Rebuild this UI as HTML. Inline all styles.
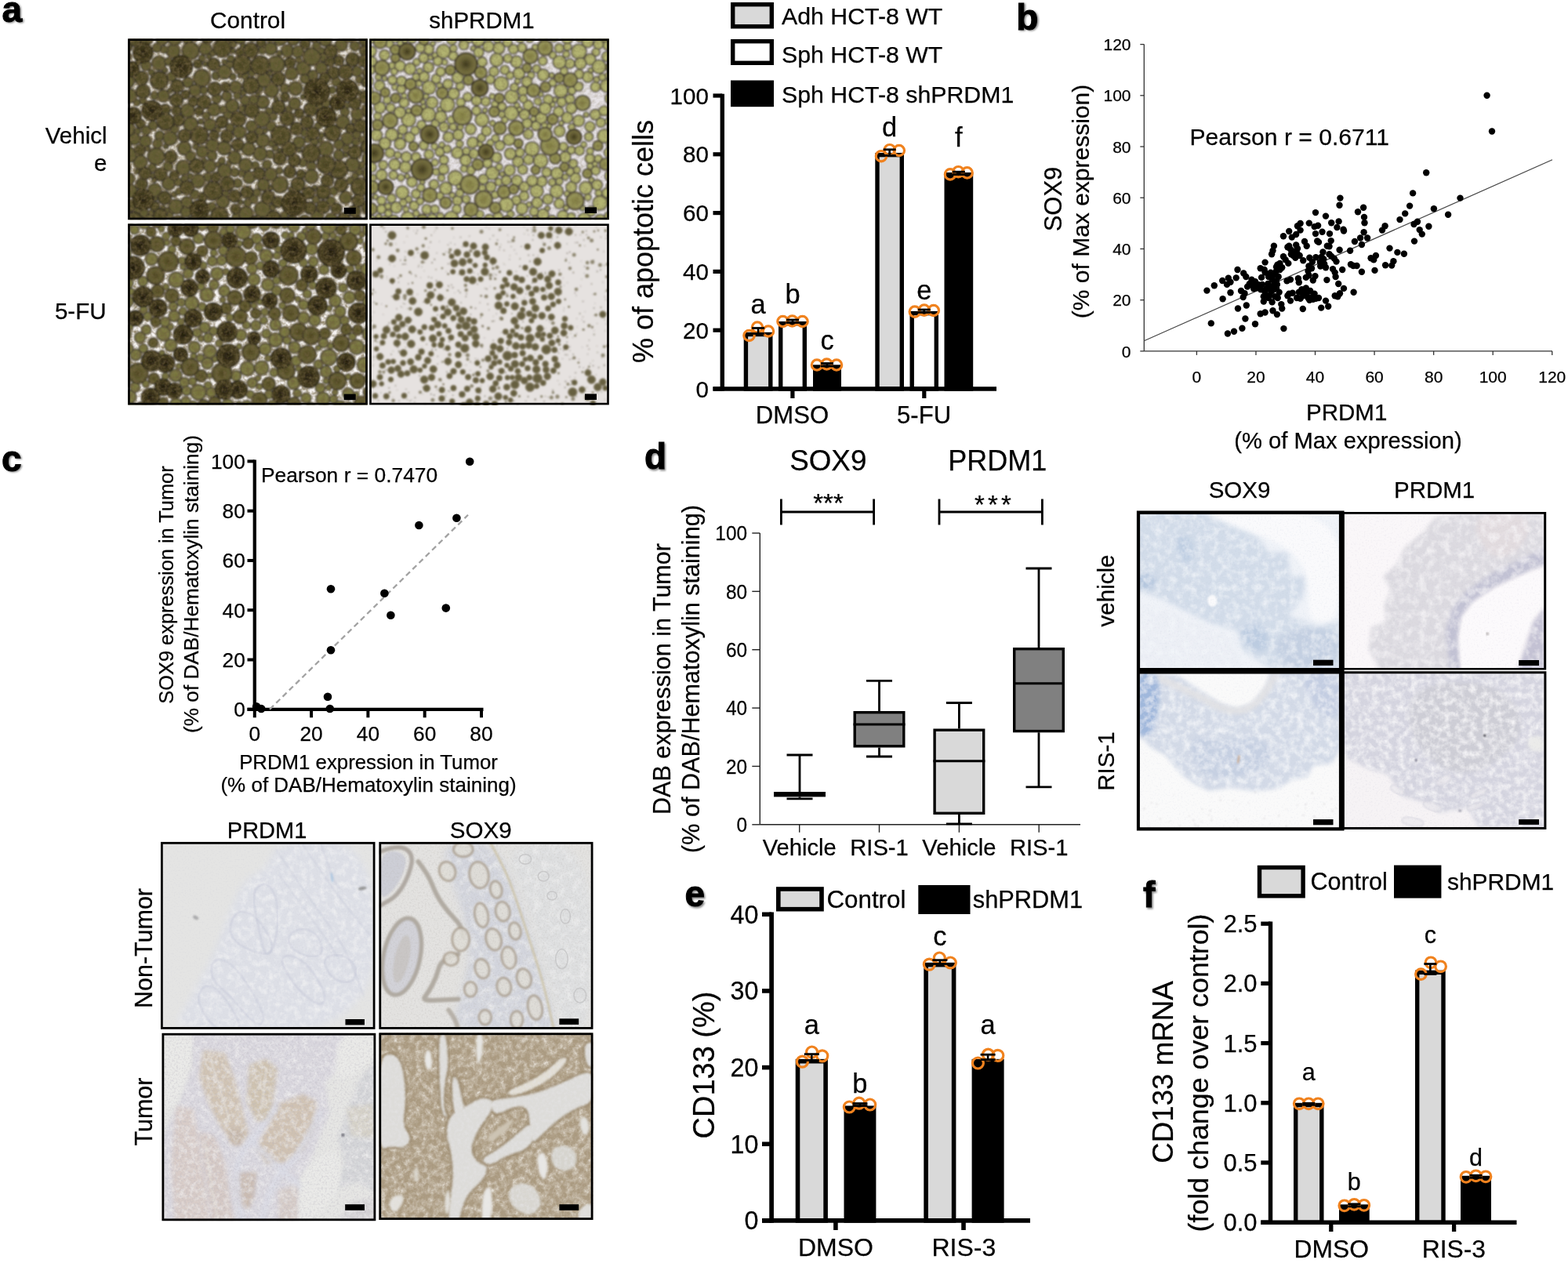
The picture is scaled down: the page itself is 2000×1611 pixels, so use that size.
<!DOCTYPE html>
<html lang="en"><head><meta charset="utf-8"><title>Figure</title>
<style>
html,body{margin:0;padding:0;background:#fff;}
body{width:2000px;height:1611px;overflow:hidden;}
svg{display:block;}
svg text{font-family:"Liberation Sans", sans-serif;stroke:#000;stroke-width:0.25px;}
</style></head><body>
<svg width="2000" height="1611" viewBox="0 0 2000 1611">
<defs>
<filter id="lblblur" x="-20%" y="-20%" width="140%" height="140%"><feGaussianBlur stdDeviation="0.8"/></filter>
</defs>
<rect x="0" y="0" width="2000" height="1611" fill="#fff"/>

<defs><filter id="soft" x="-2%" y="-2%" width="104%" height="104%"><feGaussianBlur stdDeviation="0.9"/></filter><filter id="grainA" x="0" y="0" width="100%" height="100%"><feTurbulence type="fractalNoise" baseFrequency="0.2" numOctaves="2" seed="5" result="n"/><feColorMatrix in="n" type="matrix" values="0 0 0 0 0.16  0 0 0 0 0.12  0 0 0 0 0.05  2.2 0 0 0 -0.85"/></filter><radialGradient id="a1g0" cx="0.5" cy="0.5" r="0.5"><stop offset="0" stop-color="#5c572e"/><stop offset="0.7" stop-color="#645f35"/><stop offset="1" stop-color="#4e482a"/></radialGradient><radialGradient id="a1g1" cx="0.5" cy="0.5" r="0.5"><stop offset="0" stop-color="#464021"/><stop offset="0.65" stop-color="#58522c"/><stop offset="1" stop-color="#484226"/></radialGradient><radialGradient id="a1g2" cx="0.5" cy="0.5" r="0.5"><stop offset="0" stop-color="#282212"/><stop offset="0.55" stop-color="#3e371c"/><stop offset="1" stop-color="#4c4426"/></radialGradient><clipPath id="a1clip"><rect x="163.20" y="49.40" width="305.60" height="230.80"/></clipPath><radialGradient id="a2g0" cx="0.5" cy="0.5" r="0.5"><stop offset="0" stop-color="#b4b572"/><stop offset="0.75" stop-color="#aeaf6e"/><stop offset="1" stop-color="#908f60"/></radialGradient><radialGradient id="a2g1" cx="0.5" cy="0.5" r="0.5"><stop offset="0" stop-color="#807c42"/><stop offset="0.7" stop-color="#969458"/><stop offset="1" stop-color="#7e7a4e"/></radialGradient><radialGradient id="a2g2" cx="0.5" cy="0.5" r="0.5"><stop offset="0" stop-color="#3e381e"/><stop offset="0.6" stop-color="#6c6638"/><stop offset="1" stop-color="#787244"/></radialGradient><clipPath id="a2clip"><rect x="471.20" y="49.40" width="305.60" height="230.80"/></clipPath><radialGradient id="a3g0" cx="0.5" cy="0.5" r="0.5"><stop offset="0" stop-color="#74703a"/><stop offset="0.7" stop-color="#807e48"/><stop offset="1" stop-color="#625e38"/></radialGradient><radialGradient id="a3g1" cx="0.5" cy="0.5" r="0.5"><stop offset="0" stop-color="#4e4622"/><stop offset="0.65" stop-color="#645e32"/><stop offset="1" stop-color="#544e2c"/></radialGradient><radialGradient id="a3g2" cx="0.5" cy="0.5" r="0.5"><stop offset="0" stop-color="#201b0d"/><stop offset="0.55" stop-color="#3a321a"/><stop offset="1" stop-color="#504828"/></radialGradient><clipPath id="a3clip"><rect x="163.20" y="285.40" width="305.60" height="231.00"/></clipPath><radialGradient id="a4g0" cx="0.5" cy="0.5" r="0.5"><stop offset="0" stop-color="#686140"/><stop offset="0.6" stop-color="#645d3e"/><stop offset="1" stop-color="#847c62"/></radialGradient><clipPath id="a4clip"><rect x="471.20" y="285.40" width="305.60" height="231.00"/></clipPath><clipPath id="c1clip"><rect x="205.00" y="1073.90" width="273.50" height="238.90"/></clipPath><filter id="c1t" filterUnits="userSpaceOnUse" x="195" y="1064" width="294" height="259"><feGaussianBlur in="SourceGraphic" stdDeviation="4" result="b"/><feTurbulence type="fractalNoise" baseFrequency="0.12" numOctaves="3" seed="3" result="n"/><feColorMatrix in="n" type="matrix" values="0 0 0 0 0.906  0 0 0 0 0.906  0 0 0 0 0.910  1.5 0 0 0 -0.62" result="na"/><feComposite in="na" in2="b" operator="in" result="nm"/><feMerge><feMergeNode in="b"/><feMergeNode in="nm"/></feMerge></filter><filter id="c1n" x="0" y="0" width="100%" height="100%"><feTurbulence type="fractalNoise" baseFrequency="0.5" numOctaves="2" seed="8" result="n"/><feColorMatrix in="n" type="matrix" values="0 0 0 0 0.588  0 0 0 0 0.588  0 0 0 0 0.667  1.2 0 0 0 -0.62"/></filter><clipPath id="c2clip"><rect x="483.40" y="1073.90" width="273.10" height="238.90"/></clipPath><filter id="c2t" filterUnits="userSpaceOnUse" x="473" y="1064" width="293" height="259"><feGaussianBlur in="SourceGraphic" stdDeviation="4" result="b"/><feTurbulence type="fractalNoise" baseFrequency="0.1" numOctaves="3" seed="5" result="n"/><feColorMatrix in="n" type="matrix" values="0 0 0 0 0.886  0 0 0 0 0.886  0 0 0 0 0.886  1.4 0 0 0 -0.6" result="na"/><feComposite in="na" in2="b" operator="in" result="nm"/><feMerge><feMergeNode in="b"/><feMergeNode in="nm"/></feMerge></filter><filter id="c2n" x="0" y="0" width="100%" height="100%"><feTurbulence type="fractalNoise" baseFrequency="0.45" numOctaves="2" seed="12" result="n"/><feColorMatrix in="n" type="matrix" values="0 0 0 0 0.471  0 0 0 0 0.451  0 0 0 0 0.431  1.3 0 0 0 -0.62"/></filter><filter id="c2b" x="-20%" y="-20%" width="140%" height="140%"><feGaussianBlur stdDeviation="1.1"/></filter><filter id="c2b2" x="-20%" y="-20%" width="140%" height="140%"><feGaussianBlur stdDeviation="2.5"/></filter><clipPath id="c3clip"><rect x="206.50" y="1317.80" width="272.80" height="239.40"/></clipPath><filter id="c3t" filterUnits="userSpaceOnUse" x="196" y="1308" width="293" height="259"><feGaussianBlur in="SourceGraphic" stdDeviation="2.6" result="b"/><feTurbulence type="fractalNoise" baseFrequency="0.14" numOctaves="3" seed="7" result="n"/><feColorMatrix in="n" type="matrix" values="0 0 0 0 0.894  0 0 0 0 0.886  0 0 0 0 0.886  1.5 0 0 0 -0.62" result="na"/><feComposite in="na" in2="b" operator="in" result="nm"/><feMerge><feMergeNode in="b"/><feMergeNode in="nm"/></feMerge></filter><filter id="c3n" x="0" y="0" width="100%" height="100%"><feTurbulence type="fractalNoise" baseFrequency="0.4" numOctaves="2" seed="21" result="n"/><feColorMatrix in="n" type="matrix" values="0 0 0 0 0.471  0 0 0 0 0.451  0 0 0 0 0.510  1.8 0 0 0 -0.8"/></filter><clipPath id="c4clip"><rect x="483.40" y="1317.40" width="273.10" height="238.60"/></clipPath><filter id="c4m" x="0" y="0" width="100%" height="100%"><feTurbulence type="fractalNoise" baseFrequency="0.13" numOctaves="3" seed="9" result="n"/><feColorMatrix in="n" type="matrix" values="0 0 0 0 0.808  0 0 0 0 0.769  0 0 0 0 0.706  1.9 0 0 0 -0.72"/></filter><filter id="c4n" x="0" y="0" width="100%" height="100%"><feTurbulence type="fractalNoise" baseFrequency="0.33" numOctaves="2" seed="33" result="n"/><feColorMatrix in="n" type="matrix" values="0 0 0 0 0.455  0 0 0 0 0.376  0 0 0 0 0.275  2.8 0 0 0 -1.15"/></filter><filter id="c4s" filterUnits="userSpaceOnUse" x="473" y="1307" width="293" height="259"><feGaussianBlur in="SourceGraphic" stdDeviation="1.6" result="b"/><feTurbulence type="fractalNoise" baseFrequency="0.25" numOctaves="2" seed="4" result="n"/><feColorMatrix in="n" type="matrix" values="0 0 0 0 0.784  0 0 0 0 0.776  0 0 0 0 0.784  1.2 0 0 0 -0.45" result="na"/><feComposite in="na" in2="b" operator="in" result="nm"/><feMerge><feMergeNode in="b"/><feMergeNode in="nm"/></feMerge></filter><filter id="c4b" x="-20%" y="-20%" width="140%" height="140%"><feGaussianBlur stdDeviation="1.6"/></filter><clipPath id="d1clip"><rect x="1452.00" y="653.80" width="258.00" height="200.20"/></clipPath><filter id="d1t" filterUnits="userSpaceOnUse" x="1442" y="644" width="278" height="220"><feGaussianBlur in="SourceGraphic" stdDeviation="3" result="b"/><feTurbulence type="fractalNoise" baseFrequency="0.11" numOctaves="3" seed="13" result="n"/><feColorMatrix in="n" type="matrix" values="0 0 0 0 0.910  0 0 0 0 0.933  0 0 0 0 0.965  1.5 0 0 0 -0.6" result="na"/><feComposite in="na" in2="b" operator="in" result="nm"/><feMerge><feMergeNode in="b"/><feMergeNode in="nm"/></feMerge></filter><filter id="d1n" x="0" y="0" width="100%" height="100%"><feTurbulence type="fractalNoise" baseFrequency="0.45" numOctaves="2" seed="41" result="n"/><feColorMatrix in="n" type="matrix" values="0 0 0 0 0.471  0 0 0 0 0.529  0 0 0 0 0.647  1.1 0 0 0 -0.58"/></filter><clipPath id="d2clip"><rect x="1712.00" y="654.00" width="259.00" height="199.50"/></clipPath><filter id="d2t" filterUnits="userSpaceOnUse" x="1702" y="644" width="279" height="220"><feGaussianBlur in="SourceGraphic" stdDeviation="2.5" result="b"/><feTurbulence type="fractalNoise" baseFrequency="0.1" numOctaves="3" seed="17" result="n"/><feColorMatrix in="n" type="matrix" values="0 0 0 0 0.957  0 0 0 0 0.941  0 0 0 0 0.957  1.5 0 0 0 -0.6" result="na"/><feComposite in="na" in2="b" operator="in" result="nm"/><feMerge><feMergeNode in="b"/><feMergeNode in="nm"/></feMerge></filter><filter id="d2n" x="0" y="0" width="100%" height="100%"><feTurbulence type="fractalNoise" baseFrequency="0.45" numOctaves="2" seed="43" result="n"/><feColorMatrix in="n" type="matrix" values="0 0 0 0 0.431  0 0 0 0 0.412  0 0 0 0 0.549  1.1 0 0 0 -0.58"/></filter><clipPath id="d3clip"><rect x="1452.00" y="857.00" width="258.00" height="200.00"/></clipPath><filter id="d3t" filterUnits="userSpaceOnUse" x="1442" y="847" width="278" height="220"><feGaussianBlur in="SourceGraphic" stdDeviation="2.5" result="b"/><feTurbulence type="fractalNoise" baseFrequency="0.11" numOctaves="3" seed="19" result="n"/><feColorMatrix in="n" type="matrix" values="0 0 0 0 0.941  0 0 0 0 0.953  0 0 0 0 0.973  1.6 0 0 0 -0.6" result="na"/><feComposite in="na" in2="b" operator="in" result="nm"/><feMerge><feMergeNode in="b"/><feMergeNode in="nm"/></feMerge></filter><filter id="d3n" x="0" y="0" width="100%" height="100%"><feTurbulence type="fractalNoise" baseFrequency="0.45" numOctaves="2" seed="47" result="n"/><feColorMatrix in="n" type="matrix" values="0 0 0 0 0.471  0 0 0 0 0.510  0 0 0 0 0.647  1.1 0 0 0 -0.58"/></filter><clipPath id="d4clip"><rect x="1712.00" y="857.50" width="259.00" height="199.50"/></clipPath><filter id="d4t" filterUnits="userSpaceOnUse" x="1702" y="848" width="279" height="220"><feGaussianBlur in="SourceGraphic" stdDeviation="2.5" result="b"/><feTurbulence type="fractalNoise" baseFrequency="0.12" numOctaves="3" seed="23" result="n"/><feColorMatrix in="n" type="matrix" values="0 0 0 0 0.949  0 0 0 0 0.941  0 0 0 0 0.957  1.7 0 0 0 -0.62" result="na"/><feComposite in="na" in2="b" operator="in" result="nm"/><feMerge><feMergeNode in="b"/><feMergeNode in="nm"/></feMerge></filter><filter id="d4n" x="0" y="0" width="100%" height="100%"><feTurbulence type="fractalNoise" baseFrequency="0.45" numOctaves="2" seed="53" result="n"/><feColorMatrix in="n" type="matrix" values="0 0 0 0 0.431  0 0 0 0 0.431  0 0 0 0 0.549  1.1 0 0 0 -0.58"/></filter></defs>
<style>.a1c0{fill:url(#a1g0);stroke:#3e372c;stroke-width:1.5}.a1c1{fill:url(#a1g1);stroke:#383126;stroke-width:1.6}.a1c2{fill:url(#a1g2);stroke:#2c2518;stroke-width:1.7}.a2c0{fill:url(#a2g0);stroke:#4a433c;stroke-width:1.45}.a2c1{fill:url(#a2g1);stroke:#443d30;stroke-width:1.7}.a2c2{fill:url(#a2g2);stroke:#342e20;stroke-width:1.8}.a3c0{fill:url(#a3g0);stroke:#443d30;stroke-width:1.5}.a3c1{fill:url(#a3g1);stroke:#3a3324;stroke-width:1.6}.a3c2{fill:url(#a3g2);stroke:#282214;stroke-width:1.8}.a4c{fill:url(#a4g0);stroke:#6e664c;stroke-width:0.6}.a4s{fill:#7c745a;opacity:.8}.a4t{fill:#6a6250;opacity:.55}</style>
<g clip-path="url(#a1clip)"><rect x="163.2" y="49.4" width="305.6" height="230.79999999999998" fill="#e4dfd6"/><g filter="url(#soft)"><circle class="a1c0" cx="309.1" cy="138.8" r="4.2"/><circle class="a1c0" cx="392.1" cy="177.7" r="4.1"/><circle class="a1c0" cx="200.4" cy="60.9" r="5.7"/><circle class="a1c0" cx="346.4" cy="115.2" r="9.1"/><circle class="a1c0" cx="198.6" cy="252.9" r="2.8"/><circle class="a1c0" cx="166.8" cy="243.7" r="8.4"/><circle class="a1c0" cx="301.6" cy="277.6" r="5.7"/><circle class="a1c0" cx="288.0" cy="247.2" r="4.1"/><circle class="a1c0" cx="323.1" cy="254.0" r="5.5"/><circle class="a1c0" cx="190.4" cy="282.0" r="8.8"/><circle class="a1c0" cx="344.2" cy="196.7" r="5.3"/><circle class="a1c0" cx="336.0" cy="235.7" r="7.9"/><circle class="a1c0" cx="182.4" cy="128.4" r="4.2"/><circle class="a1c0" cx="203.5" cy="173.0" r="6.0"/><circle class="a1c0" cx="224.5" cy="263.4" r="9.5"/><circle class="a1c0" cx="199.2" cy="199.5" r="11.0"/><circle class="a1c0" cx="470.8" cy="221.7" r="8.4"/><circle class="a1c0" cx="197.4" cy="242.6" r="8.7"/><circle class="a1c0" cx="222.1" cy="248.1" r="3.4"/><circle class="a1c0" cx="213.1" cy="268.2" r="3.4"/><circle class="a1c0" cx="443.2" cy="176.8" r="8.0"/><circle class="a1c0" cx="183.1" cy="271.3" r="5.9"/><circle class="a1c0" cx="237.1" cy="270.6" r="6.8"/><circle class="a1c0" cx="458.1" cy="219.3" r="4.6"/><circle class="a1c0" cx="174.6" cy="130.9" r="4.1"/><circle class="a1c0" cx="290.8" cy="146.5" r="5.6"/><circle class="a1c0" cx="470.0" cy="153.3" r="3.9"/><circle class="a1c0" cx="452.9" cy="224.6" r="4.1"/><circle class="a1c0" cx="192.8" cy="271.3" r="3.3"/><circle class="a1c0" cx="327.6" cy="245.8" r="5.0"/><circle class="a1c0" cx="315.7" cy="259.0" r="4.9"/><circle class="a1c0" cx="352.3" cy="126.5" r="3.0"/><circle class="a1c0" cx="194.3" cy="224.2" r="3.1"/><circle class="a1c0" cx="186.6" cy="166.5" r="5.7"/><circle class="a1c0" cx="257.5" cy="99.5" r="10.9"/><circle class="a1c0" cx="306.7" cy="257.7" r="3.0"/><circle class="a1c0" cx="440.9" cy="197.4" r="3.1"/><circle class="a1c0" cx="320.8" cy="161.2" r="7.2"/><circle class="a1c0" cx="235.2" cy="189.1" r="8.7"/><circle class="a1c0" cx="239.7" cy="49.8" r="6.6"/><circle class="a1c0" cx="284.2" cy="257.4" r="8.3"/><circle class="a1c0" cx="175.1" cy="218.7" r="3.1"/><circle class="a1c0" cx="215.0" cy="234.0" r="8.4"/><circle class="a1c0" cx="344.2" cy="93.6" r="3.0"/><circle class="a1c0" cx="402.9" cy="254.5" r="4.6"/><circle class="a1c0" cx="386.8" cy="87.0" r="9.2"/><circle class="a1c0" cx="256.3" cy="155.1" r="3.3"/><circle class="a1c0" cx="221.0" cy="65.0" r="8.8"/><circle class="a1c0" cx="165.0" cy="122.1" r="9.3"/><circle class="a1c0" cx="343.1" cy="142.2" r="4.7"/><circle class="a1c0" cx="211.6" cy="186.5" r="3.1"/><circle class="a1c0" cx="273.1" cy="139.8" r="8.2"/><circle class="a1c0" cx="352.6" cy="82.0" r="10.8"/><circle class="a1c0" cx="347.5" cy="264.5" r="4.0"/><circle class="a1c0" cx="366.8" cy="64.9" r="7.9"/><circle class="a1c0" cx="334.5" cy="64.1" r="4.7"/><circle class="a1c0" cx="443.0" cy="134.5" r="3.4"/><circle class="a1c0" cx="243.1" cy="199.5" r="6.4"/><circle class="a1c0" cx="440.7" cy="252.0" r="7.9"/><circle class="a1c0" cx="432.3" cy="184.3" r="6.3"/><circle class="a1c0" cx="461.4" cy="178.3" r="3.8"/><circle class="a1c0" cx="262.0" cy="81.5" r="3.0"/><circle class="a1c0" cx="445.2" cy="45.2" r="8.8"/><circle class="a1c0" cx="179.0" cy="206.8" r="9.0"/><circle class="a1c0" cx="348.4" cy="149.0" r="4.8"/><circle class="a1c0" cx="305.6" cy="168.5" r="8.2"/><circle class="a1c0" cx="351.2" cy="189.0" r="3.8"/><circle class="a1c0" cx="175.8" cy="79.9" r="3.0"/><circle class="a1c0" cx="275.3" cy="96.6" r="5.0"/><circle class="a1c0" cx="265.0" cy="225.9" r="5.5"/><circle class="a1c0" cx="399.1" cy="96.1" r="6.3"/><circle class="a1c0" cx="222.8" cy="48.7" r="9.3"/><circle class="a1c0" cx="386.5" cy="123.6" r="3.1"/><circle class="a1c0" cx="207.9" cy="264.8" r="2.8"/><circle class="a1c0" cx="185.4" cy="180.1" r="7.7"/><circle class="a1c0" cx="310.3" cy="117.9" r="3.7"/><circle class="a1c0" cx="186.2" cy="83.6" r="6.5"/><circle class="a1c0" cx="345.2" cy="239.4" r="2.9"/><circle class="a1c0" cx="415.6" cy="131.5" r="5.2"/><circle class="a1c0" cx="388.8" cy="100.6" r="5.9"/><circle class="a1c0" cx="334.9" cy="267.1" r="10.4"/><circle class="a1c0" cx="271.3" cy="67.3" r="4.2"/><circle class="a1c0" cx="356.5" cy="191.8" r="2.8"/><circle class="a1c0" cx="397.3" cy="211.8" r="5.9"/><circle class="a1c0" cx="171.1" cy="177.1" r="7.7"/><circle class="a1c0" cx="422.1" cy="256.7" r="5.7"/><circle class="a1c0" cx="303.2" cy="233.7" r="5.7"/><circle class="a1c0" cx="296.1" cy="135.1" r="8.6"/><circle class="a1c0" cx="368.7" cy="139.2" r="4.1"/><circle class="a1c0" cx="410.1" cy="172.6" r="3.4"/><circle class="a1c0" cx="228.0" cy="244.5" r="4.0"/><circle class="a1c0" cx="362.6" cy="274.6" r="4.5"/><circle class="a1c0" cx="441.9" cy="189.4" r="4.7"/><circle class="a1c0" cx="469.8" cy="202.4" r="8.0"/><circle class="a1c0" cx="329.1" cy="120.4" r="2.8"/><circle class="a1c0" cx="294.5" cy="75.0" r="4.4"/><circle class="a1c0" cx="439.9" cy="143.0" r="5.6"/><circle class="a1c0" cx="175.6" cy="167.5" r="3.9"/><circle class="a1c0" cx="306.2" cy="96.3" r="2.9"/><circle class="a1c0" cx="257.8" cy="74.2" r="4.1"/><circle class="a1c0" cx="388.5" cy="282.7" r="8.1"/><circle class="a1c0" cx="331.9" cy="196.2" r="8.9"/><circle class="a1c0" cx="197.3" cy="122.1" r="5.0"/><circle class="a1c0" cx="335.2" cy="130.4" r="8.1"/><circle class="a1c0" cx="357.1" cy="235.5" r="10.5"/><circle class="a1c0" cx="260.5" cy="204.7" r="3.0"/><circle class="a1c0" cx="453.8" cy="181.4" r="4.5"/><circle class="a1c0" cx="278.2" cy="210.1" r="3.0"/><circle class="a1c0" cx="202.9" cy="80.5" r="9.1"/><circle class="a1c0" cx="282.9" cy="205.2" r="4.3"/><circle class="a1c0" cx="428.9" cy="104.2" r="5.7"/><circle class="a1c0" cx="300.5" cy="111.1" r="7.8"/><circle class="a1c0" cx="422.4" cy="280.0" r="8.1"/><circle class="a1c0" cx="388.2" cy="169.4" r="4.7"/><circle class="a1c0" cx="209.5" cy="63.2" r="4.6"/><circle class="a1c0" cx="218.8" cy="97.9" r="5.9"/><circle class="a1c0" cx="375.9" cy="132.1" r="7.6"/><circle class="a1c0" cx="461.6" cy="210.9" r="4.3"/><circle class="a1c0" cx="407.2" cy="135.3" r="4.0"/><circle class="a1c0" cx="405.6" cy="160.8" r="4.3"/><circle class="a1c0" cx="404.6" cy="276.2" r="7.8"/><circle class="a1c0" cx="334.7" cy="152.1" r="9.9"/><circle class="a1c0" cx="263.1" cy="147.8" r="4.7"/><circle class="a1c0" cx="292.8" cy="281.9" r="3.4"/><circle class="a1c0" cx="454.9" cy="171.8" r="5.2"/><circle class="a1c0" cx="381.3" cy="181.6" r="7.6"/><circle class="a1c0" cx="386.5" cy="207.4" r="5.2"/><circle class="a1c0" cx="458.5" cy="101.6" r="4.6"/><circle class="a1c0" cx="299.4" cy="219.9" r="5.5"/><circle class="a1c0" cx="217.0" cy="176.3" r="9.2"/><circle class="a1c0" cx="412.3" cy="73.5" r="5.2"/><circle class="a1c0" cx="196.6" cy="229.7" r="2.8"/><circle class="a1c0" cx="380.9" cy="76.2" r="3.8"/><circle class="a1c0" cx="455.3" cy="91.1" r="6.6"/><circle class="a1c0" cx="214.4" cy="212.1" r="6.2"/><circle class="a1c0" cx="174.7" cy="268.5" r="4.3"/><circle class="a1c0" cx="415.2" cy="51.0" r="8.0"/><circle class="a1c0" cx="340.4" cy="210.1" r="5.7"/><circle class="a1c0" cx="239.7" cy="105.2" r="6.6"/><circle class="a1c0" cx="270.5" cy="198.3" r="6.2"/><circle class="a1c0" cx="401.2" cy="181.0" r="5.1"/><circle class="a1c0" cx="276.5" cy="125.8" r="5.9"/><circle class="a1c0" cx="195.2" cy="160.1" r="5.8"/><circle class="a1c0" cx="239.4" cy="141.2" r="9.0"/><circle class="a1c0" cx="344.3" cy="48.8" r="4.9"/><circle class="a1c0" cx="302.7" cy="122.1" r="4.5"/><circle class="a1c0" cx="397.8" cy="72.3" r="11.4"/><circle class="a1c0" cx="252.8" cy="230.8" r="8.9"/><circle class="a1c0" cx="271.0" cy="185.2" r="8.3"/><circle class="a1c0" cx="321.4" cy="92.9" r="4.3"/><circle class="a1c0" cx="337.8" cy="166.4" r="3.0"/><circle class="a1c0" cx="222.7" cy="164.9" r="5.1"/><circle class="a1c0" cx="193.3" cy="92.3" r="3.9"/><circle class="a1c0" cx="161.0" cy="184.4" r="6.5"/><circle class="a1c0" cx="163.5" cy="103.9" r="8.1"/><circle class="a1c0" cx="299.3" cy="201.0" r="8.4"/><circle class="a1c0" cx="409.8" cy="64.7" r="4.2"/><circle class="a1c0" cx="165.2" cy="197.5" r="9.4"/><circle class="a1c0" cx="208.5" cy="122.3" r="7.8"/><circle class="a1c0" cx="248.9" cy="115.3" r="7.6"/><circle class="a1c0" cx="397.1" cy="225.1" r="8.9"/><circle class="a1c0" cx="332.0" cy="113.5" r="3.7"/><circle class="a1c0" cx="455.5" cy="145.9" r="7.6"/><circle class="a1c0" cx="194.0" cy="214.1" r="5.2"/><circle class="a1c0" cx="289.3" cy="122.8" r="6.3"/><circle class="a1c0" cx="346.5" cy="182.8" r="4.6"/><circle class="a1c0" cx="452.7" cy="58.7" r="6.2"/><circle class="a1c0" cx="317.8" cy="226.4" r="7.7"/><circle class="a1c0" cx="270.1" cy="263.8" r="5.6"/><circle class="a1c0" cx="296.8" cy="64.9" r="3.2"/><circle class="a1c0" cx="163.0" cy="164.6" r="9.1"/><circle class="a1c0" cx="437.4" cy="155.8" r="8.7"/><circle class="a1c0" cx="293.4" cy="162.9" r="5.2"/><circle class="a1c0" cx="261.9" cy="62.1" r="8.0"/><circle class="a1c0" cx="277.6" cy="165.3" r="3.3"/><circle class="a1c0" cx="188.6" cy="189.6" r="3.0"/><circle class="a1c0" cx="336.9" cy="281.2" r="4.4"/><circle class="a1c0" cx="233.6" cy="213.9" r="9.4"/><circle class="a1c0" cx="357.3" cy="49.3" r="8.7"/><circle class="a1c0" cx="263.5" cy="284.1" r="9.5"/><circle class="a1c0" cx="238.2" cy="257.7" r="7.0"/><circle class="a1c0" cx="210.2" cy="89.8" r="3.3"/><circle class="a1c0" cx="249.7" cy="187.2" r="3.6"/><circle class="a1c0" cx="277.4" cy="48.4" r="4.1"/><circle class="a1c0" cx="249.0" cy="47.7" r="4.3"/><circle class="a1c0" cx="363.1" cy="113.0" r="6.0"/><circle class="a1c0" cx="415.8" cy="189.7" r="9.5"/><circle class="a1c0" cx="432.0" cy="197.8" r="6.5"/><circle class="a1c0" cx="286.7" cy="79.2" r="3.2"/><circle class="a1c0" cx="408.5" cy="179.1" r="3.2"/><circle class="a1c0" cx="361.1" cy="282.1" r="4.3"/><circle class="a1c0" cx="471.3" cy="250.7" r="5.3"/><circle class="a1c0" cx="325.6" cy="210.9" r="4.7"/><circle class="a1c0" cx="292.1" cy="208.4" r="2.9"/><circle class="a1c0" cx="243.3" cy="158.4" r="9.3"/><circle class="a1c0" cx="214.9" cy="78.4" r="4.9"/><circle class="a1c0" cx="435.2" cy="57.4" r="7.9"/><circle class="a1c0" cx="425.7" cy="243.6" r="5.4"/><circle class="a1c0" cx="330.7" cy="167.4" r="4.8"/><circle class="a1c0" cx="374.1" cy="49.5" r="8.3"/><circle class="a1c0" cx="370.8" cy="241.6" r="2.8"/><circle class="a1c0" cx="451.1" cy="155.2" r="2.9"/><circle class="a1c0" cx="309.8" cy="58.5" r="3.2"/><circle class="a1c0" cx="409.9" cy="86.8" r="7.6"/><circle class="a1c0" cx="472.3" cy="171.4" r="8.6"/><circle class="a1c0" cx="336.5" cy="102.2" r="9.0"/><circle class="a1c0" cx="242.6" cy="225.0" r="3.7"/><circle class="a1c0" cx="313.7" cy="272.7" r="9.4"/><circle class="a1c0" cx="296.9" cy="97.8" r="4.1"/><circle class="a1c0" cx="447.0" cy="230.4" r="4.7"/><circle class="a1c0" cx="257.9" cy="193.7" r="7.6"/><circle class="a1c0" cx="346.0" cy="161.4" r="6.2"/><circle class="a1c0" cx="335.1" cy="179.2" r="8.6"/><circle class="a1c0" cx="235.5" cy="228.0" r="4.6"/><circle class="a1c0" cx="206.9" cy="49.7" r="7.9"/><circle class="a1c0" cx="267.6" cy="158.9" r="7.7"/><circle class="a1c0" cx="312.8" cy="128.2" r="6.3"/><circle class="a1c0" cx="201.0" cy="183.2" r="6.0"/><circle class="a1c0" cx="381.8" cy="191.5" r="2.9"/><circle class="a1c0" cx="345.3" cy="222.5" r="8.1"/><circle class="a1c0" cx="423.8" cy="114.9" r="4.5"/><circle class="a1c0" cx="345.3" cy="62.0" r="8.1"/><circle class="a1c0" cx="323.5" cy="127.4" r="5.9"/><circle class="a1c0" cx="260.0" cy="115.3" r="4.7"/><circle class="a1c0" cx="286.3" cy="218.2" r="9.0"/><circle class="a1c0" cx="286.2" cy="91.7" r="9.0"/><circle class="a1c0" cx="401.5" cy="239.1" r="2.9"/><circle class="a1c0" cx="308.3" cy="221.0" r="4.1"/><circle class="a1c0" cx="306.2" cy="47.8" r="8.2"/><circle class="a1c0" cx="317.0" cy="190.0" r="8.6"/><circle class="a1c0" cx="297.3" cy="56.5" r="4.1"/><circle class="a1c0" cx="380.0" cy="66.1" r="7.4"/><circle class="a1c0" cx="216.8" cy="115.5" r="3.1"/><circle class="a1c0" cx="267.6" cy="211.9" r="8.0"/><circle class="a1c0" cx="356.3" cy="68.1" r="3.3"/><circle class="a1c0" cx="216.6" cy="274.7" r="4.2"/><circle class="a1c0" cx="377.0" cy="112.8" r="8.9"/><circle class="a1c0" cx="356.2" cy="217.9" r="4.3"/><circle class="a1c0" cx="284.4" cy="139.8" r="4.7"/><circle class="a1c0" cx="449.5" cy="210.2" r="9.3"/><circle class="a1c0" cx="286.0" cy="188.7" r="8.8"/><circle class="a1c0" cx="227.1" cy="232.2" r="4.8"/><circle class="a1c0" cx="243.1" cy="64.9" r="11.1"/><circle class="a1c0" cx="312.8" cy="97.2" r="4.3"/><circle class="a1c0" cx="313.2" cy="210.5" r="8.6"/><circle class="a1c0" cx="293.5" cy="82.6" r="4.2"/><circle class="a1c0" cx="321.5" cy="47.6" r="5.4"/><circle class="a1c0" cx="371.9" cy="93.7" r="8.1"/><circle class="a1c0" cx="457.9" cy="118.3" r="3.0"/><circle class="a1c0" cx="266.6" cy="72.3" r="3.1"/><circle class="a1c0" cx="403.6" cy="58.3" r="4.9"/><circle class="a1c0" cx="164.1" cy="228.1" r="7.7"/><circle class="a1c0" cx="248.2" cy="248.0" r="5.8"/><circle class="a1c1" cx="303.1" cy="184.8" r="7.6"/><circle class="a1c1" cx="378.2" cy="164.1" r="8.0"/><circle class="a1c1" cx="272.4" cy="82.0" r="8.0"/><circle class="a1c1" cx="438.7" cy="279.6" r="8.2"/><circle class="a1c1" cx="203.2" cy="102.6" r="11.5"/><circle class="a1c1" cx="210.7" cy="139.8" r="6.7"/><circle class="a1c1" cx="412.3" cy="244.9" r="9.2"/><circle class="a1c1" cx="320.0" cy="64.2" r="9.6"/><circle class="a1c1" cx="429.1" cy="266.0" r="7.0"/><circle class="a1c1" cx="260.0" cy="130.1" r="8.9"/><circle class="a1c1" cx="466.6" cy="105.2" r="5.6"/><circle class="a1c1" cx="432.1" cy="77.3" r="6.4"/><circle class="a1c1" cx="289.3" cy="173.5" r="7.9"/><circle class="a1c1" cx="356.8" cy="201.9" r="8.4"/><circle class="a1c1" cx="254.4" cy="173.0" r="11.2"/><circle class="a1c1" cx="432.0" cy="216.2" r="11.5"/><circle class="a1c1" cx="320.9" cy="175.3" r="7.5"/><circle class="a1c1" cx="455.6" cy="280.9" r="6.1"/><circle class="a1c1" cx="341.8" cy="251.7" r="8.6"/><circle class="a1c1" cx="321.0" cy="140.9" r="9.4"/><circle class="a1c1" cx="435.2" cy="235.9" r="8.6"/><circle class="a1c1" cx="179.1" cy="158.0" r="5.9"/><circle class="a1c1" cx="465.9" cy="64.4" r="7.2"/><circle class="a1c1" cx="306.4" cy="66.7" r="5.6"/><circle class="a1c1" cx="452.4" cy="269.4" r="7.6"/><circle class="a1c1" cx="380.1" cy="235.1" r="9.0"/><circle class="a1c1" cx="358.4" cy="173.0" r="12.8"/><circle class="a1c1" cx="446.9" cy="164.0" r="5.9"/><circle class="a1c1" cx="396.5" cy="139.3" r="8.7"/><circle class="a1c1" cx="459.2" cy="238.6" r="11.5"/><circle class="a1c1" cx="355.3" cy="136.6" r="8.6"/><circle class="a1c1" cx="383.9" cy="222.2" r="5.6"/><circle class="a1c1" cx="258.6" cy="251.3" r="5.8"/><circle class="a1c1" cx="273.1" cy="172.6" r="6.2"/><circle class="a1c1" cx="389.1" cy="55.9" r="6.4"/><circle class="a1c1" cx="466.9" cy="123.7" r="8.5"/><circle class="a1c1" cx="460.2" cy="160.9" r="8.4"/><circle class="a1c1" cx="235.3" cy="173.2" r="8.2"/><circle class="a1c1" cx="472.0" cy="93.3" r="9.3"/><circle class="a1c1" cx="412.1" cy="263.9" r="8.4"/><circle class="a1c1" cx="162.0" cy="59.8" r="6.7"/><circle class="a1c1" cx="424.2" cy="169.4" r="10.4"/><circle class="a1c1" cx="283.5" cy="61.4" r="11.5"/><circle class="a1c1" cx="280.0" cy="275.6" r="11.2"/><circle class="a1c1" cx="391.8" cy="156.0" r="8.1"/><circle class="a1c1" cx="467.0" cy="50.4" r="9.0"/><circle class="a1c1" cx="171.0" cy="281.3" r="10.9"/><circle class="a1c1" cx="425.4" cy="92.9" r="7.9"/><circle class="a1c1" cx="452.8" cy="132.1" r="7.6"/><circle class="a1c1" cx="264.5" cy="47.7" r="7.9"/><circle class="a1c1" cx="273.8" cy="113.5" r="8.7"/><circle class="a1c1" cx="369.9" cy="80.0" r="6.9"/><circle class="a1c1" cx="172.0" cy="51.3" r="7.9"/><circle class="a1c1" cx="375.3" cy="204.6" r="7.9"/><circle class="a1c1" cx="161.7" cy="71.8" r="5.8"/><circle class="a1c1" cx="282.9" cy="155.7" r="7.7"/><circle class="a1c1" cx="227.6" cy="153.3" r="7.6"/><circle class="a1c1" cx="250.8" cy="211.6" r="9.4"/><circle class="a1c1" cx="293.6" cy="47.8" r="5.9"/><circle class="a1c1" cx="470.0" cy="141.3" r="9.0"/><circle class="a1c1" cx="217.9" cy="200.1" r="8.0"/><circle class="a1c1" cx="304.0" cy="151.8" r="9.5"/><circle class="a1c1" cx="400.7" cy="45.8" r="7.8"/><circle class="a1c1" cx="197.5" cy="263.0" r="6.1"/><circle class="a1c1" cx="330.4" cy="221.3" r="7.7"/><circle class="a1c1" cx="449.7" cy="76.0" r="8.7"/><circle class="a1c1" cx="393.7" cy="245.9" r="7.8"/><circle class="a1c1" cx="414.4" cy="99.6" r="7.0"/><circle class="a1c1" cx="366.4" cy="150.9" r="9.3"/><circle class="a1c1" cx="227.2" cy="284.5" r="9.3"/><circle class="a1c1" cx="186.4" cy="49.4" r="8.3"/><circle class="a1c1" cx="178.5" cy="191.6" r="6.9"/><circle class="a1c1" cx="253.8" cy="141.9" r="5.5"/><circle class="a1c1" cx="300.5" cy="266.7" r="6.2"/><circle class="a1c1" cx="225.0" cy="140.8" r="6.0"/><circle class="a1c1" cx="416.0" cy="209.8" r="11.5"/><circle class="a1c1" cx="420.6" cy="78.5" r="6.1"/><circle class="a1c1" cx="272.0" cy="243.4" r="12.0"/><circle class="a1c1" cx="473.1" cy="284.2" r="10.1"/><circle class="a1c1" cx="288.0" cy="111.0" r="5.9"/><circle class="a1c1" cx="225.9" cy="109.7" r="8.3"/><circle class="a1c1" cx="238.4" cy="239.4" r="9.0"/><circle class="a1c1" cx="225.1" cy="127.4" r="8.5"/><circle class="a1c1" cx="210.0" cy="252.4" r="8.5"/><circle class="a1c1" cx="246.7" cy="129.3" r="6.3"/><circle class="a1c1" cx="369.6" cy="219.3" r="7.7"/><circle class="a1c1" cx="308.8" cy="82.6" r="12.0"/><circle class="a1c1" cx="363.5" cy="123.8" r="5.8"/><circle class="a1c1" cx="222.3" cy="223.8" r="6.0"/><circle class="a1c1" cx="470.7" cy="264.9" r="9.3"/><circle class="a1c1" cx="372.2" cy="282.8" r="7.8"/><circle class="a1c1" cx="165.0" cy="262.6" r="7.6"/><circle class="a1c1" cx="333.0" cy="54.3" r="5.9"/><circle class="a1c1" cx="468.6" cy="187.2" r="8.7"/><circle class="a1c1" cx="236.6" cy="120.6" r="5.5"/><circle class="a1c1" cx="332.0" cy="83.4" r="12.0"/><circle class="a1c1" cx="368.9" cy="190.3" r="9.3"/><circle class="a1c1" cx="180.4" cy="99.7" r="8.9"/><circle class="a1c1" cx="399.2" cy="169.9" r="7.9"/><circle class="a1c1" cx="159.6" cy="214.3" r="7.1"/><circle class="a1c1" cx="180.7" cy="234.9" r="7.5"/><circle class="a1c1" cx="355.0" cy="100.6" r="8.8"/><circle class="a1c1" cx="182.4" cy="116.9" r="9.0"/><circle class="a1c1" cx="299.5" cy="250.1" r="7.9"/><circle class="a1c1" cx="396.8" cy="195.4" r="11.5"/><circle class="a1c1" cx="320.0" cy="109.0" r="10.6"/><circle class="a1c1" cx="252.3" cy="81.5" r="5.5"/><circle class="a1c1" cx="354.1" cy="257.8" r="6.9"/><circle class="a1c1" cx="289.9" cy="234.5" r="9.2"/><circle class="a1c1" cx="417.5" cy="230.2" r="7.8"/><circle class="a1c1" cx="464.4" cy="77.9" r="7.7"/><circle class="a1c1" cx="325.7" cy="284.2" r="9.1"/><circle class="a1c1" cx="246.5" cy="284.2" r="8.3"/><circle class="a1c1" cx="185.0" cy="221.3" r="7.7"/><circle class="a1c1" cx="422.2" cy="65.2" r="8.4"/><circle class="a1c1" cx="395.4" cy="265.3" r="7.9"/><circle class="a1c1" cx="204.9" cy="222.5" r="8.3"/><circle class="a1c1" cx="457.1" cy="256.0" r="7.9"/><circle class="a1c1" cx="452.8" cy="194.1" r="8.7"/><circle class="a1c1" cx="349.2" cy="277.5" r="8.8"/><circle class="a1c1" cx="381.6" cy="144.8" r="6.0"/><circle class="a1c1" cx="441.0" cy="91.7" r="9.3"/><circle class="a1c1" cx="204.3" cy="274.9" r="8.8"/><circle class="a1c1" cx="314.9" cy="245.2" r="7.8"/><circle class="a1c1" cx="275.3" cy="225.9" r="6.2"/><circle class="a1c1" cx="211.2" cy="155.4" r="10.9"/><circle class="a1c2" cx="254.4" cy="267.4" r="12.0"/><circle class="a1c2" cx="404.0" cy="117.0" r="16.3"/><circle class="a1c2" cx="182.4" cy="67.4" r="12.5"/><circle class="a1c2" cx="231.2" cy="85.0" r="14.1"/><circle class="a1c2" cx="375.2" cy="259.4" r="15.7"/><circle class="a1c2" cx="168.0" cy="88.2" r="9.6"/><circle class="a1c2" cx="430.4" cy="130.6" r="9.6"/><circle class="a1c2" cx="182.4" cy="254.6" r="13.1"/><circle class="a1c2" cx="443.2" cy="115.4" r="13.6"/><circle class="a1c2" cx="416.0" cy="149.0" r="12.5"/><circle class="a1c2" cx="169.6" cy="147.4" r="10.4"/><circle class="a1c2" cx="193.6" cy="141.0" r="12.5"/></g><rect x="163.2" y="49.4" width="305.6" height="230.79999999999998" filter="url(#grainA)" opacity="0.75"/><rect x="438.8" y="264.8" width="15" height="8" fill="#000"/></g><rect x="164.50" y="50.70" width="303.00" height="228.20" fill="none" stroke="#000" stroke-width="2.6"/>
<g clip-path="url(#a2clip)"><rect x="471.2" y="49.4" width="305.59999999999997" height="230.79999999999998" fill="#e6e2e5"/><g filter="url(#soft)"><circle class="a2c0" cx="547.2" cy="197.0" r="6.0"/><circle class="a2c0" cx="577.8" cy="161.9" r="4.7"/><circle class="a2c0" cx="759.9" cy="217.7" r="5.5"/><circle class="a2c0" cx="591.6" cy="57.5" r="6.1"/><circle class="a2c0" cx="614.1" cy="175.9" r="5.2"/><circle class="a2c0" cx="520.1" cy="278.9" r="8.8"/><circle class="a2c0" cx="519.4" cy="224.7" r="3.0"/><circle class="a2c0" cx="659.4" cy="230.4" r="6.8"/><circle class="a2c0" cx="692.3" cy="77.8" r="5.5"/><circle class="a2c0" cx="723.4" cy="150.1" r="7.0"/><circle class="a2c0" cx="538.7" cy="232.1" r="3.0"/><circle class="a2c0" cx="500.0" cy="83.9" r="4.3"/><circle class="a2c0" cx="753.7" cy="269.4" r="6.1"/><circle class="a2c0" cx="723.9" cy="59.5" r="4.9"/><circle class="a2c0" cx="684.6" cy="243.7" r="8.3"/><circle class="a2c0" cx="744.6" cy="184.3" r="3.6"/><circle class="a2c0" cx="677.4" cy="96.1" r="4.3"/><circle class="a2c0" cx="510.7" cy="173.4" r="3.1"/><circle class="a2c0" cx="503.4" cy="111.2" r="3.6"/><circle class="a2c0" cx="749.8" cy="98.2" r="6.9"/><circle class="a2c0" cx="728.8" cy="191.4" r="5.0"/><circle class="a2c0" cx="760.9" cy="101.4" r="3.6"/><circle class="a2c0" cx="758.8" cy="209.1" r="3.3"/><circle class="a2c0" cx="692.6" cy="47.2" r="5.9"/><circle class="a2c0" cx="778.9" cy="224.4" r="7.4"/><circle class="a2c0" cx="528.2" cy="262.3" r="5.9"/><circle class="a2c0" cx="690.4" cy="150.7" r="7.2"/><circle class="a2c0" cx="658.8" cy="78.8" r="7.5"/><circle class="a2c0" cx="639.4" cy="106.9" r="9.1"/><circle class="a2c0" cx="490.1" cy="280.6" r="5.3"/><circle class="a2c0" cx="521.2" cy="254.4" r="4.1"/><circle class="a2c0" cx="710.4" cy="221.1" r="7.5"/><circle class="a2c0" cx="658.7" cy="255.4" r="5.8"/><circle class="a2c0" cx="604.3" cy="196.1" r="6.0"/><circle class="a2c0" cx="650.0" cy="217.1" r="7.0"/><circle class="a2c0" cx="567.1" cy="79.4" r="3.6"/><circle class="a2c0" cx="560.8" cy="139.5" r="3.1"/><circle class="a2c0" cx="483.0" cy="276.3" r="3.3"/><circle class="a2c0" cx="637.5" cy="185.7" r="6.2"/><circle class="a2c0" cx="733.9" cy="227.1" r="6.7"/><circle class="a2c0" cx="502.1" cy="281.1" r="6.7"/><circle class="a2c0" cx="521.2" cy="152.7" r="8.9"/><circle class="a2c0" cx="660.7" cy="206.2" r="6.8"/><circle class="a2c0" cx="525.5" cy="232.2" r="6.4"/><circle class="a2c0" cx="615.1" cy="78.9" r="6.0"/><circle class="a2c0" cx="598.7" cy="50.9" r="3.6"/><circle class="a2c0" cx="716.4" cy="130.2" r="5.8"/><circle class="a2c0" cx="763.5" cy="246.2" r="4.2"/><circle class="a2c0" cx="568.6" cy="240.2" r="7.9"/><circle class="a2c0" cx="522.4" cy="175.1" r="6.6"/><circle class="a2c0" cx="685.1" cy="258.5" r="6.8"/><circle class="a2c0" cx="505.4" cy="264.7" r="7.1"/><circle class="a2c0" cx="665.7" cy="60.9" r="5.8"/><circle class="a2c0" cx="663.5" cy="47.6" r="6.6"/><circle class="a2c0" cx="759.5" cy="110.8" r="6.2"/><circle class="a2c0" cx="517.0" cy="213.2" r="7.3"/><circle class="a2c0" cx="516.5" cy="51.4" r="3.2"/><circle class="a2c0" cx="583.4" cy="256.0" r="6.0"/><circle class="a2c0" cx="720.9" cy="200.5" r="7.0"/><circle class="a2c0" cx="562.2" cy="149.1" r="7.5"/><circle class="a2c0" cx="583.2" cy="194.8" r="7.2"/><circle class="a2c0" cx="555.0" cy="157.7" r="4.7"/><circle class="a2c0" cx="650.4" cy="96.3" r="4.7"/><circle class="a2c0" cx="698.8" cy="254.1" r="6.4"/><circle class="a2c0" cx="468.2" cy="253.1" r="6.6"/><circle class="a2c0" cx="486.7" cy="223.2" r="7.0"/><circle class="a2c0" cx="507.3" cy="197.8" r="4.3"/><circle class="a2c0" cx="672.3" cy="157.3" r="6.2"/><circle class="a2c0" cx="779.7" cy="256.5" r="6.7"/><circle class="a2c0" cx="775.3" cy="57.6" r="6.1"/><circle class="a2c0" cx="563.6" cy="184.8" r="3.5"/><circle class="a2c0" cx="672.8" cy="277.9" r="3.4"/><circle class="a2c0" cx="726.8" cy="81.1" r="6.1"/><circle class="a2c0" cx="631.9" cy="176.4" r="4.7"/><circle class="a2c0" cx="774.9" cy="154.7" r="3.5"/><circle class="a2c0" cx="566.2" cy="204.1" r="5.7"/><circle class="a2c0" cx="546.3" cy="146.0" r="9.1"/><circle class="a2c0" cx="511.8" cy="113.9" r="5.6"/><circle class="a2c0" cx="578.0" cy="71.2" r="5.8"/><circle class="a2c0" cx="607.8" cy="128.4" r="6.2"/><circle class="a2c0" cx="484.1" cy="109.4" r="6.6"/><circle class="a2c0" cx="603.6" cy="61.7" r="3.1"/><circle class="a2c0" cx="704.9" cy="133.3" r="3.3"/><circle class="a2c0" cx="633.4" cy="200.9" r="6.4"/><circle class="a2c0" cx="625.4" cy="182.3" r="4.3"/><circle class="a2c0" cx="753.5" cy="89.7" r="3.1"/><circle class="a2c0" cx="722.0" cy="265.1" r="3.3"/><circle class="a2c0" cx="766.3" cy="156.4" r="5.9"/><circle class="a2c0" cx="540.7" cy="97.9" r="6.6"/><circle class="a2c0" cx="686.0" cy="129.3" r="4.6"/><circle class="a2c0" cx="482.5" cy="98.2" r="3.9"/><circle class="a2c0" cx="510.2" cy="84.1" r="6.8"/><circle class="a2c0" cx="625.3" cy="101.4" r="5.6"/><circle class="a2c0" cx="727.0" cy="126.3" r="5.9"/><circle class="a2c0" cx="630.0" cy="91.2" r="6.1"/><circle class="a2c0" cx="614.8" cy="152.7" r="8.6"/><circle class="a2c0" cx="760.1" cy="66.5" r="4.9"/><circle class="a2c0" cx="467.8" cy="141.5" r="7.2"/><circle class="a2c0" cx="723.5" cy="48.3" r="7.4"/><circle class="a2c0" cx="523.1" cy="87.8" r="7.3"/><circle class="a2c0" cx="513.1" cy="245.5" r="8.2"/><circle class="a2c0" cx="728.8" cy="138.0" r="6.8"/><circle class="a2c0" cx="717.9" cy="275.5" r="7.0"/><circle class="a2c0" cx="628.0" cy="220.8" r="8.3"/><circle class="a2c0" cx="540.6" cy="185.3" r="5.8"/><circle class="a2c0" cx="622.9" cy="48.7" r="4.3"/><circle class="a2c0" cx="691.2" cy="231.4" r="6.4"/><circle class="a2c0" cx="556.2" cy="219.3" r="4.3"/><circle class="a2c0" cx="660.1" cy="103.5" r="3.5"/><circle class="a2c0" cx="582.6" cy="266.8" r="5.7"/><circle class="a2c0" cx="565.6" cy="65.5" r="8.8"/><circle class="a2c0" cx="713.2" cy="61.5" r="5.7"/><circle class="a2c0" cx="586.9" cy="109.8" r="5.1"/><circle class="a2c0" cx="576.8" cy="248.9" r="3.5"/><circle class="a2c0" cx="553.6" cy="235.2" r="5.9"/><circle class="a2c0" cx="578.7" cy="119.5" r="7.1"/><circle class="a2c0" cx="776.8" cy="194.7" r="6.4"/><circle class="a2c0" cx="666.9" cy="116.0" r="6.0"/><circle class="a2c0" cx="546.9" cy="62.7" r="6.4"/><circle class="a2c0" cx="652.1" cy="144.3" r="9.1"/><circle class="a2c0" cx="619.5" cy="129.5" r="5.7"/><circle class="a2c0" cx="640.0" cy="146.1" r="4.0"/><circle class="a2c0" cx="549.0" cy="73.4" r="3.2"/><circle class="a2c0" cx="540.2" cy="135.8" r="3.1"/><circle class="a2c0" cx="635.3" cy="276.8" r="6.2"/><circle class="a2c0" cx="490.5" cy="100.1" r="3.1"/><circle class="a2c0" cx="636.0" cy="232.1" r="4.6"/><circle class="a2c0" cx="773.9" cy="246.0" r="6.0"/><circle class="a2c0" cx="722.3" cy="69.1" r="4.3"/><circle class="a2c0" cx="621.8" cy="208.1" r="5.8"/><circle class="a2c0" cx="643.7" cy="153.1" r="4.0"/><circle class="a2c0" cx="731.3" cy="208.6" r="5.3"/><circle class="a2c0" cx="749.9" cy="251.7" r="4.2"/><circle class="a2c0" cx="521.1" cy="141.2" r="3.2"/><circle class="a2c0" cx="560.9" cy="193.7" r="5.7"/><circle class="a2c0" cx="627.9" cy="123.1" r="3.5"/><circle class="a2c0" cx="620.5" cy="167.1" r="6.2"/><circle class="a2c0" cx="738.4" cy="65.8" r="9.6"/><circle class="a2c0" cx="531.3" cy="79.2" r="4.5"/><circle class="a2c0" cx="705.1" cy="70.2" r="4.4"/><circle class="a2c0" cx="636.2" cy="61.4" r="7.4"/><circle class="a2c0" cx="704.9" cy="105.6" r="4.7"/><circle class="a2c0" cx="727.1" cy="219.1" r="4.8"/><circle class="a2c0" cx="514.3" cy="258.4" r="4.5"/><circle class="a2c0" cx="490.4" cy="70.2" r="6.5"/><circle class="a2c0" cx="534.2" cy="106.6" r="3.9"/><circle class="a2c0" cx="561.1" cy="249.8" r="4.6"/><circle class="a2c0" cx="729.1" cy="162.1" r="4.1"/><circle class="a2c0" cx="684.3" cy="87.7" r="5.0"/><circle class="a2c0" cx="616.5" cy="228.6" r="6.2"/><circle class="a2c0" cx="554.2" cy="186.8" r="4.1"/><circle class="a2c0" cx="510.3" cy="183.6" r="7.1"/><circle class="a2c0" cx="530.7" cy="247.2" r="5.7"/><circle class="a2c0" cx="759.3" cy="146.2" r="6.6"/><circle class="a2c0" cx="580.8" cy="227.2" r="9.4"/><circle class="a2c0" cx="473.9" cy="213.3" r="6.2"/><circle class="a2c0" cx="468.8" cy="103.5" r="7.1"/><circle class="a2c0" cx="609.9" cy="51.3" r="7.9"/><circle class="a2c0" cx="498.2" cy="137.5" r="5.6"/><circle class="a2c0" cx="536.8" cy="239.4" r="4.9"/><circle class="a2c0" cx="544.3" cy="267.1" r="6.1"/><circle class="a2c0" cx="752.4" cy="202.2" r="6.1"/><circle class="a2c0" cx="515.4" cy="130.9" r="6.1"/><circle class="a2c0" cx="770.9" cy="173.5" r="8.7"/><circle class="a2c0" cx="752.7" cy="75.8" r="7.1"/><circle class="a2c0" cx="529.5" cy="166.6" r="5.4"/><circle class="a2c0" cx="594.8" cy="192.6" r="4.7"/><circle class="a2c0" cx="673.9" cy="171.2" r="6.1"/><circle class="a2c0" cx="681.1" cy="269.9" r="5.6"/><circle class="a2c0" cx="666.7" cy="216.2" r="6.0"/><circle class="a2c0" cx="494.7" cy="263.2" r="4.0"/><circle class="a2c0" cx="469.0" cy="167.8" r="4.5"/><circle class="a2c0" cx="626.1" cy="238.2" r="6.4"/><circle class="a2c0" cx="570.7" cy="133.5" r="9.1"/><circle class="a2c0" cx="700.7" cy="160.7" r="3.2"/><circle class="a2c0" cx="572.0" cy="174.8" r="6.6"/><circle class="a2c0" cx="636.8" cy="213.1" r="4.3"/><circle class="a2c0" cx="503.8" cy="47.0" r="6.9"/><circle class="a2c0" cx="735.8" cy="216.8" r="4.2"/><circle class="a2c0" cx="607.7" cy="141.2" r="5.6"/><circle class="a2c0" cx="539.3" cy="130.1" r="3.0"/><circle class="a2c0" cx="615.1" cy="239.9" r="4.4"/><circle class="a2c0" cx="764.0" cy="85.1" r="8.7"/><circle class="a2c0" cx="501.7" cy="223.4" r="5.5"/><circle class="a2c0" cx="469.9" cy="153.8" r="4.4"/><circle class="a2c0" cx="729.4" cy="115.5" r="5.0"/><circle class="a2c0" cx="754.4" cy="229.5" r="3.2"/><circle class="a2c0" cx="647.8" cy="74.5" r="5.5"/><circle class="a2c0" cx="595.2" cy="280.5" r="6.7"/><circle class="a2c0" cx="499.7" cy="171.7" r="7.9"/><circle class="a2c0" cx="472.4" cy="49.2" r="6.0"/><circle class="a2c0" cx="682.3" cy="279.3" r="3.8"/><circle class="a2c0" cx="537.6" cy="159.4" r="5.6"/><circle class="a2c0" cx="747.1" cy="239.8" r="8.2"/><circle class="a2c0" cx="500.4" cy="102.1" r="5.7"/><circle class="a2c0" cx="602.7" cy="181.9" r="6.9"/><circle class="a2c0" cx="689.7" cy="205.2" r="9.0"/><circle class="a2c0" cx="739.5" cy="48.3" r="5.1"/><circle class="a2c0" cx="779.0" cy="161.9" r="4.6"/><circle class="a2c0" cx="689.7" cy="120.4" r="3.1"/><circle class="a2c0" cx="471.4" cy="114.5" r="4.1"/><circle class="a2c0" cx="692.9" cy="95.6" r="7.4"/><circle class="a2c0" cx="600.6" cy="217.1" r="5.5"/><circle class="a2c0" cx="556.3" cy="100.6" r="5.8"/><circle class="a2c0" cx="510.5" cy="54.9" r="3.4"/><circle class="a2c0" cx="645.7" cy="230.0" r="6.1"/><circle class="a2c0" cx="583.8" cy="99.1" r="7.1"/><circle class="a2c0" cx="751.1" cy="174.4" r="5.5"/><circle class="a2c0" cx="587.7" cy="130.6" r="5.5"/><circle class="a2c0" cx="490.9" cy="183.0" r="7.4"/><circle class="a2c0" cx="647.3" cy="53.9" r="5.9"/><circle class="a2c0" cx="674.7" cy="260.9" r="3.3"/><circle class="a2c0" cx="713.5" cy="231.4" r="4.3"/><circle class="a2c0" cx="712.4" cy="142.5" r="6.5"/><circle class="a2c0" cx="578.4" cy="61.8" r="4.5"/><circle class="a2c0" cx="585.2" cy="237.9" r="3.0"/><circle class="a2c0" cx="747.7" cy="146.3" r="3.2"/><circle class="a2c0" cx="478.8" cy="251.1" r="3.2"/><circle class="a2c0" cx="723.2" cy="247.1" r="3.5"/><circle class="a2c0" cx="540.3" cy="73.9" r="6.1"/><circle class="a2c0" cx="763.4" cy="56.4" r="6.2"/><circle class="a2c0" cx="710.0" cy="243.9" r="8.3"/><circle class="a2c0" cx="673.7" cy="134.4" r="6.3"/><circle class="a2c0" cx="728.7" cy="238.7" r="6.8"/><circle class="a2c0" cx="650.8" cy="196.1" r="7.2"/><circle class="a2c0" cx="778.6" cy="236.8" r="5.1"/><circle class="a2c0" cx="554.7" cy="267.1" r="5.4"/><circle class="a2c0" cx="594.7" cy="254.1" r="5.0"/><circle class="a2c0" cx="645.9" cy="261.0" r="9.1"/><circle class="a2c0" cx="495.3" cy="272.1" r="4.4"/><circle class="a2c0" cx="683.6" cy="160.6" r="5.7"/><circle class="a2c0" cx="493.8" cy="127.4" r="4.8"/><circle class="a2c0" cx="554.6" cy="70.4" r="3.3"/><circle class="a2c0" cx="713.3" cy="259.7" r="6.4"/><circle class="a2c0" cx="678.6" cy="190.0" r="9.1"/><circle class="a2c0" cx="608.3" cy="283.2" r="6.1"/><circle class="a2c0" cx="649.4" cy="178.2" r="7.3"/><circle class="a2c0" cx="752.6" cy="192.8" r="4.3"/><circle class="a2c0" cx="707.9" cy="127.0" r="3.1"/><circle class="a2c0" cx="536.0" cy="61.0" r="5.9"/><circle class="a2c0" cx="566.3" cy="161.9" r="6.0"/><circle class="a2c0" cx="631.4" cy="248.5" r="4.5"/><circle class="a2c0" cx="499.3" cy="253.1" r="5.6"/><circle class="a2c0" cx="562.1" cy="91.3" r="5.8"/><circle class="a2c0" cx="486.6" cy="255.8" r="5.6"/><circle class="a2c0" cx="547.2" cy="111.7" r="8.6"/><circle class="a2c0" cx="640.5" cy="222.0" r="3.1"/><circle class="a2c0" cx="575.5" cy="153.1" r="4.8"/><circle class="a2c0" cx="530.8" cy="272.2" r="3.9"/><circle class="a2c0" cx="706.5" cy="48.3" r="5.1"/><circle class="a2c0" cx="768.2" cy="98.3" r="4.4"/><circle class="a2c0" cx="738.6" cy="94.6" r="5.8"/><circle class="a2c0" cx="546.5" cy="85.8" r="6.6"/><circle class="a2c0" cx="558.5" cy="77.9" r="5.8"/><circle class="a2c0" cx="682.6" cy="60.3" r="3.8"/><circle class="a2c0" cx="667.4" cy="126.0" r="5.0"/><circle class="a2c0" cx="559.5" cy="46.6" r="6.5"/><circle class="a2c0" cx="560.7" cy="108.9" r="3.5"/><circle class="a2c0" cx="774.2" cy="72.1" r="6.4"/><circle class="a2c0" cx="472.9" cy="89.1" r="5.6"/><circle class="a2c0" cx="776.2" cy="275.4" r="5.0"/><circle class="a2c0" cx="535.9" cy="256.6" r="4.4"/><circle class="a2c0" cx="672.0" cy="104.2" r="6.5"/><circle class="a2c0" cx="774.0" cy="109.5" r="8.2"/><circle class="a2c0" cx="535.3" cy="90.4" r="3.4"/><circle class="a2c0" cx="551.3" cy="279.0" r="6.0"/><circle class="a2c0" cx="515.5" cy="122.2" r="3.3"/><circle class="a2c0" cx="668.8" cy="238.3" r="6.3"/><circle class="a2c0" cx="503.3" cy="209.9" r="7.2"/><circle class="a2c0" cx="668.9" cy="146.1" r="6.6"/><circle class="a2c0" cx="752.6" cy="211.8" r="3.8"/><circle class="a2c0" cx="778.5" cy="125.8" r="6.8"/><circle class="a2c0" cx="665.8" cy="266.0" r="7.4"/><circle class="a2c0" cx="561.7" cy="275.9" r="4.4"/><circle class="a2c0" cx="765.6" cy="280.4" r="6.8"/><circle class="a2c0" cx="511.3" cy="226.6" r="4.4"/><circle class="a2c0" cx="777.5" cy="184.1" r="4.3"/><circle class="a2c0" cx="570.2" cy="190.1" r="5.0"/><circle class="a2c0" cx="612.2" cy="273.4" r="4.8"/><circle class="a2c0" cx="488.7" cy="210.5" r="5.5"/><circle class="a2c0" cx="728.8" cy="276.5" r="5.1"/><circle class="a2c0" cx="517.8" cy="266.9" r="3.6"/><circle class="a2c0" cx="652.7" cy="123.3" r="8.7"/><circle class="a2c0" cx="721.1" cy="225.7" r="3.8"/><circle class="a2c0" cx="612.1" cy="183.8" r="3.4"/><circle class="a2c0" cx="739.2" cy="192.1" r="5.9"/><circle class="a2c0" cx="662.6" cy="139.6" r="3.2"/><circle class="a2c0" cx="586.3" cy="183.6" r="4.4"/><circle class="a2c0" cx="715.9" cy="157.1" r="3.1"/><circle class="a2c0" cx="633.4" cy="76.4" r="8.3"/><circle class="a2c0" cx="512.0" cy="103.3" r="6.1"/><circle class="a2c0" cx="778.9" cy="146.9" r="5.0"/><circle class="a2c0" cx="699.1" cy="126.8" r="6.1"/><circle class="a2c0" cx="749.6" cy="53.5" r="7.1"/><circle class="a2c0" cx="704.3" cy="280.2" r="5.4"/><circle class="a2c0" cx="552.1" cy="55.4" r="3.0"/><circle class="a2c0" cx="587.2" cy="162.2" r="3.7"/><circle class="a2c0" cx="763.1" cy="202.5" r="4.7"/><circle class="a2c0" cx="663.8" cy="281.8" r="7.2"/><circle class="a2c0" cx="776.5" cy="96.2" r="4.3"/><circle class="a2c0" cx="571.3" cy="107.1" r="6.1"/><circle class="a2c0" cx="640.4" cy="135.9" r="5.2"/><circle class="a2c0" cx="719.4" cy="90.7" r="4.8"/><circle class="a2c0" cx="486.3" cy="266.8" r="5.7"/><circle class="a2c0" cx="634.2" cy="48.8" r="5.6"/><circle class="a2c0" cx="654.8" cy="62.7" r="6.1"/><circle class="a2c0" cx="618.5" cy="140.8" r="3.0"/><circle class="a2c0" cx="584.6" cy="172.0" r="6.7"/><circle class="a2c0" cx="713.6" cy="79.2" r="8.3"/><circle class="a2c0" cx="610.6" cy="66.8" r="6.3"/><circle class="a2c0" cx="475.9" cy="226.8" r="4.1"/><circle class="a2c0" cx="737.9" cy="110.4" r="5.7"/><circle class="a2c0" cx="554.7" cy="207.4" r="4.3"/><circle class="a2c0" cx="591.8" cy="215.3" r="4.3"/><circle class="a2c0" cx="473.4" cy="65.5" r="6.6"/><circle class="a2c0" cx="543.4" cy="123.1" r="3.3"/><circle class="a2c0" cx="593.9" cy="204.4" r="7.1"/><circle class="a2c0" cx="738.2" cy="154.1" r="7.2"/><circle class="a2c0" cx="704.1" cy="232.5" r="4.5"/><circle class="a2c0" cx="760.6" cy="47.6" r="3.8"/><circle class="a2c0" cx="530.6" cy="200.4" r="5.9"/><circle class="a2c0" cx="510.0" cy="143.4" r="7.2"/><circle class="a2c0" cx="484.5" cy="137.1" r="7.2"/><circle class="a2c0" cx="518.2" cy="200.2" r="6.5"/><circle class="a2c0" cx="651.3" cy="273.3" r="4.3"/><circle class="a2c0" cx="470.1" cy="223.4" r="3.1"/><circle class="a2c0" cx="575.6" cy="278.6" r="9.0"/><circle class="a2c0" cx="513.6" cy="165.3" r="5.8"/><circle class="a2c0" cx="481.7" cy="148.2" r="4.8"/><circle class="a2c0" cx="745.2" cy="279.8" r="8.1"/><circle class="a2c0" cx="668.5" cy="250.0" r="6.0"/><circle class="a2c0" cx="624.2" cy="279.3" r="5.9"/><circle class="a2c0" cx="502.7" cy="91.3" r="4.3"/><circle class="a2c0" cx="480.2" cy="172.3" r="7.3"/><circle class="a2c0" cx="623.0" cy="59.3" r="6.9"/><circle class="a2c0" cx="474.0" cy="281.8" r="6.8"/><circle class="a2c0" cx="718.7" cy="187.1" r="5.5"/><circle class="a2c0" cx="628.1" cy="157.3" r="3.5"/><circle class="a2c0" cx="680.2" cy="151.6" r="3.4"/><circle class="a2c0" cx="740.4" cy="80.9" r="7.2"/><circle class="a2c0" cx="474.3" cy="78.3" r="6.1"/><circle class="a2c0" cx="565.9" cy="215.8" r="6.5"/><circle class="a2c0" cx="563.0" cy="226.9" r="4.3"/><circle class="a2c0" cx="752.5" cy="161.5" r="6.4"/><circle class="a2c0" cx="695.4" cy="138.4" r="7.5"/><circle class="a2c0" cx="586.4" cy="246.3" r="4.8"/><circle class="a2c0" cx="694.5" cy="159.8" r="3.5"/><circle class="a2c0" cx="675.7" cy="48.3" r="5.6"/><circle class="a2c0" cx="703.6" cy="96.2" r="3.2"/><circle class="a2c0" cx="697.2" cy="219.7" r="5.9"/><circle class="a2c0" cx="692.8" cy="273.6" r="7.1"/><circle class="a2c0" cx="765.3" cy="259.0" r="9.3"/><circle class="a2c0" cx="770.3" cy="141.3" r="6.2"/><circle class="a2c0" cx="631.1" cy="132.7" r="4.3"/><circle class="a2c0" cx="661.9" cy="93.5" r="7.3"/><circle class="a2c0" cx="678.8" cy="230.5" r="6.9"/><circle class="a2c0" cx="761.6" cy="235.8" r="6.6"/><circle class="a2c0" cx="698.2" cy="265.8" r="3.0"/><circle class="a2c0" cx="743.1" cy="265.5" r="3.2"/><circle class="a2c0" cx="659.4" cy="134.3" r="3.4"/><circle class="a2c0" cx="674.1" cy="203.6" r="6.3"/><circle class="a2c0" cx="576.2" cy="50.5" r="6.4"/><circle class="a2c0" cx="663.1" cy="194.5" r="5.6"/><circle class="a2c0" cx="643.9" cy="89.2" r="5.6"/><circle class="a2c0" cx="497.4" cy="194.9" r="6.0"/><circle class="a2c0" cx="530.7" cy="98.3" r="4.5"/><circle class="a2c0" cx="656.0" cy="111.4" r="5.1"/><circle class="a2c0" cx="596.4" cy="123.7" r="5.6"/><circle class="a2c0" cx="600.3" cy="164.6" r="6.8"/><circle class="a2c0" cx="713.7" cy="167.2" r="7.0"/><circle class="a2c0" cx="496.9" cy="56.0" r="4.8"/><circle class="a2c0" cx="551.2" cy="130.8" r="7.3"/><circle class="a2c0" cx="715.3" cy="115.8" r="8.6"/><circle class="a2c0" cx="494.2" cy="48.4" r="3.1"/><circle class="a2c0" cx="525.7" cy="49.2" r="5.8"/><circle class="a2c1" cx="487.2" cy="86.6" r="9.6"/><circle class="a2c1" cx="481.5" cy="159.4" r="6.8"/><circle class="a2c1" cx="681.2" cy="142.3" r="5.6"/><circle class="a2c1" cx="749.1" cy="221.4" r="5.8"/><circle class="a2c1" cx="523.6" cy="107.4" r="7.1"/><circle class="a2c1" cx="477.6" cy="125.0" r="8.0"/><circle class="a2c1" cx="727.3" cy="102.0" r="8.9"/><circle class="a2c1" cx="676.6" cy="71.7" r="9.4"/><circle class="a2c1" cx="538.9" cy="280.0" r="6.7"/><circle class="a2c1" cx="708.0" cy="202.0" r="6.9"/><circle class="a2c1" cx="548.2" cy="249.0" r="9.2"/><circle class="a2c1" cx="695.2" cy="61.0" r="9.6"/><circle class="a2c1" cx="701.6" cy="185.8" r="12.0"/><circle class="a2c1" cx="485.0" cy="53.4" r="8.3"/><circle class="a2c1" cx="762.5" cy="185.9" r="6.2"/><circle class="a2c1" cx="646.7" cy="281.4" r="6.0"/><circle class="a2c1" cx="680.3" cy="115.3" r="8.3"/><circle class="a2c1" cx="631.7" cy="265.1" r="7.1"/><circle class="a2c1" cx="642.6" cy="244.9" r="8.2"/><circle class="a2c1" cx="540.6" cy="51.0" r="6.3"/><circle class="a2c1" cx="771.1" cy="47.5" r="6.0"/><circle class="a2c1" cx="599.2" cy="235.4" r="12.0"/><circle class="a2c1" cx="497.6" cy="153.8" r="9.6"/><circle class="a2c1" cx="672.0" cy="86.8" r="5.7"/><circle class="a2c1" cx="474.4" cy="238.8" r="8.3"/><circle class="a2c1" cx="564.0" cy="118.6" r="7.2"/><circle class="a2c1" cx="504.3" cy="74.0" r="5.6"/><circle class="a2c1" cx="600.8" cy="267.4" r="8.8"/><circle class="a2c1" cx="733.6" cy="256.2" r="11.2"/><circle class="a2c1" cx="588.8" cy="46.8" r="5.9"/><circle class="a2c1" cx="683.2" cy="216.7" r="5.5"/><circle class="a2c1" cx="661.3" cy="182.9" r="5.5"/><circle class="a2c1" cx="504.0" cy="63.3" r="6.2"/><circle class="a2c1" cx="695.2" cy="171.4" r="8.8"/><circle class="a2c1" cx="655.2" cy="241.3" r="6.0"/><circle class="a2c1" cx="491.3" cy="117.9" r="5.8"/><circle class="a2c1" cx="568.5" cy="258.6" r="7.2"/><circle class="a2c1" cx="527.5" cy="186.8" r="5.8"/><circle class="a2c1" cx="609.4" cy="209.9" r="7.1"/><circle class="a2c1" cx="778.9" cy="85.9" r="6.0"/><circle class="a2c1" cx="713.2" cy="99.4" r="6.1"/><circle class="a2c1" cx="504.6" cy="125.2" r="6.0"/><circle class="a2c1" cx="719.9" cy="213.0" r="5.6"/><circle class="a2c1" cx="473.6" cy="266.4" r="7.3"/><circle class="a2c1" cx="574.3" cy="89.4" r="6.2"/><circle class="a2c1" cx="613.3" cy="92.5" r="7.7"/><circle class="a2c1" cx="636.8" cy="125.2" r="6.0"/><circle class="a2c1" cx="637.6" cy="163.4" r="8.0"/><circle class="a2c1" cx="743.2" cy="131.4" r="9.6"/><circle class="a2c1" cx="589.6" cy="147.4" r="12.0"/><circle class="a2c1" cx="772.1" cy="209.4" r="7.4"/><circle class="a2c1" cx="531.6" cy="140.9" r="7.1"/><circle class="a2c1" cx="630.2" cy="142.5" r="6.6"/><circle class="a2c1" cx="695.7" cy="110.9" r="6.4"/><circle class="a2c1" cx="530.4" cy="121.8" r="9.6"/><circle class="a2c1" cx="616.8" cy="254.6" r="11.2"/><circle class="a2c1" cx="704.9" cy="152.1" r="6.8"/><circle class="a2c1" cx="597.4" cy="102.1" r="6.3"/><circle class="a2c1" cx="658.4" cy="163.4" r="9.6"/><circle class="a2c2" cx="594.4" cy="81.8" r="14.1"/><circle class="a2c2" cx="612.0" cy="112.2" r="10.4"/><circle class="a2c2" cx="477.6" cy="195.4" r="11.5"/><circle class="a2c2" cx="548.0" cy="171.4" r="11.5"/><circle class="a2c2" cx="492.0" cy="238.6" r="9.6"/><circle class="a2c2" cx="538.4" cy="216.2" r="13.6"/><circle class="a2c2" cx="620.0" cy="193.8" r="9.6"/><circle class="a2c2" cx="519.2" cy="65.8" r="10.4"/><circle class="a2c2" cx="732.0" cy="174.6" r="9.6"/></g><rect x="471.2" y="49.4" width="305.59999999999997" height="230.79999999999998" filter="url(#grainA)" opacity="0.25"/><rect x="746" y="264.4" width="15" height="7.6" fill="#000"/></g><rect x="472.50" y="50.70" width="303.00" height="228.20" fill="none" stroke="#000" stroke-width="2.6"/>
<g clip-path="url(#a3clip)"><rect x="163.2" y="285.4" width="305.6" height="231.0" fill="#f6f3f1"/><g filter="url(#soft)"><circle class="a3c0" cx="321.4" cy="342.6" r="6.6"/><circle class="a3c0" cx="224.0" cy="478.8" r="7.9"/><circle class="a3c0" cx="269.4" cy="500.7" r="6.4"/><circle class="a3c0" cx="429.7" cy="470.4" r="3.9"/><circle class="a3c0" cx="353.1" cy="326.0" r="4.6"/><circle class="a3c0" cx="411.9" cy="509.0" r="8.8"/><circle class="a3c0" cx="231.1" cy="385.7" r="5.1"/><circle class="a3c0" cx="380.8" cy="470.3" r="3.5"/><circle class="a3c0" cx="272.7" cy="322.5" r="4.3"/><circle class="a3c0" cx="282.6" cy="332.3" r="6.2"/><circle class="a3c0" cx="161.2" cy="487.6" r="4.9"/><circle class="a3c0" cx="286.4" cy="282.0" r="7.8"/><circle class="a3c0" cx="171.5" cy="293.0" r="5.7"/><circle class="a3c0" cx="459.5" cy="307.4" r="3.7"/><circle class="a3c0" cx="315.4" cy="470.2" r="9.2"/><circle class="a3c0" cx="267.5" cy="448.3" r="8.5"/><circle class="a3c0" cx="211.9" cy="301.2" r="4.8"/><circle class="a3c0" cx="305.6" cy="310.6" r="3.6"/><circle class="a3c0" cx="396.3" cy="284.7" r="7.7"/><circle class="a3c0" cx="304.7" cy="515.2" r="3.3"/><circle class="a3c0" cx="454.9" cy="442.6" r="9.4"/><circle class="a3c0" cx="415.1" cy="301.3" r="4.7"/><circle class="a3c0" cx="470.8" cy="364.1" r="6.3"/><circle class="a3c0" cx="374.8" cy="288.5" r="7.2"/><circle class="a3c0" cx="210.5" cy="410.6" r="6.2"/><circle class="a3c0" cx="379.9" cy="381.4" r="3.4"/><circle class="a3c0" cx="433.8" cy="397.2" r="7.0"/><circle class="a3c0" cx="375.6" cy="443.2" r="7.4"/><circle class="a3c0" cx="427.3" cy="500.5" r="3.4"/><circle class="a3c0" cx="398.7" cy="364.0" r="4.7"/><circle class="a3c0" cx="396.4" cy="518.4" r="5.2"/><circle class="a3c0" cx="163.6" cy="361.5" r="6.3"/><circle class="a3c0" cx="240.0" cy="348.8" r="6.3"/><circle class="a3c0" cx="454.3" cy="503.4" r="3.4"/><circle class="a3c0" cx="276.9" cy="348.9" r="8.0"/><circle class="a3c0" cx="247.9" cy="443.2" r="7.6"/><circle class="a3c0" cx="363.4" cy="287.3" r="3.6"/><circle class="a3c0" cx="160.4" cy="280.9" r="9.2"/><circle class="a3c0" cx="273.0" cy="363.2" r="6.1"/><circle class="a3c0" cx="445.6" cy="379.3" r="7.6"/><circle class="a3c0" cx="188.5" cy="403.5" r="5.4"/><circle class="a3c0" cx="399.7" cy="333.8" r="6.2"/><circle class="a3c0" cx="324.0" cy="389.8" r="3.6"/><circle class="a3c0" cx="338.3" cy="445.1" r="7.7"/><circle class="a3c0" cx="413.2" cy="344.0" r="6.1"/><circle class="a3c0" cx="419.2" cy="288.4" r="9.8"/><circle class="a3c0" cx="211.7" cy="365.8" r="3.9"/><circle class="a3c0" cx="425.4" cy="509.3" r="5.1"/><circle class="a3c0" cx="349.4" cy="475.2" r="5.3"/><circle class="a3c0" cx="366.1" cy="434.1" r="5.0"/><circle class="a3c0" cx="217.7" cy="417.1" r="3.8"/><circle class="a3c0" cx="339.6" cy="425.8" r="5.7"/><circle class="a3c0" cx="327.4" cy="304.4" r="6.4"/><circle class="a3c0" cx="182.1" cy="358.9" r="6.2"/><circle class="a3c0" cx="261.1" cy="417.7" r="6.7"/><circle class="a3c0" cx="162.2" cy="398.4" r="3.6"/><circle class="a3c0" cx="374.5" cy="488.5" r="8.0"/><circle class="a3c0" cx="167.9" cy="518.1" r="4.6"/><circle class="a3c0" cx="244.5" cy="386.6" r="8.8"/><circle class="a3c0" cx="284.8" cy="319.5" r="5.9"/><circle class="a3c0" cx="224.7" cy="356.9" r="9.8"/><circle class="a3c0" cx="257.8" cy="391.2" r="5.0"/><circle class="a3c0" cx="324.0" cy="356.6" r="7.7"/><circle class="a3c0" cx="441.9" cy="286.1" r="3.7"/><circle class="a3c0" cx="253.0" cy="304.2" r="6.5"/><circle class="a3c0" cx="425.2" cy="410.7" r="9.5"/><circle class="a3c0" cx="419.0" cy="494.4" r="3.4"/><circle class="a3c0" cx="178.6" cy="430.5" r="7.0"/><circle class="a3c0" cx="379.2" cy="501.6" r="5.0"/><circle class="a3c0" cx="161.9" cy="384.6" r="7.9"/><circle class="a3c0" cx="256.2" cy="431.9" r="3.6"/><circle class="a3c0" cx="330.2" cy="315.5" r="5.0"/><circle class="a3c0" cx="193.2" cy="330.5" r="7.9"/><circle class="a3c0" cx="236.9" cy="512.4" r="6.2"/><circle class="a3c0" cx="255.5" cy="456.7" r="4.9"/><circle class="a3c0" cx="301.1" cy="479.3" r="6.6"/><circle class="a3c0" cx="186.0" cy="489.6" r="4.4"/><circle class="a3c0" cx="415.7" cy="485.9" r="3.5"/><circle class="a3c0" cx="339.3" cy="326.2" r="8.2"/><circle class="a3c0" cx="384.4" cy="301.9" r="5.6"/><circle class="a3c0" cx="337.5" cy="287.1" r="6.9"/><circle class="a3c0" cx="258.4" cy="285.7" r="7.3"/><circle class="a3c0" cx="307.4" cy="427.3" r="7.1"/><circle class="a3c0" cx="293.0" cy="405.1" r="4.6"/><circle class="a3c0" cx="235.1" cy="487.7" r="6.1"/><circle class="a3c0" cx="285.1" cy="295.7" r="4.7"/><circle class="a3c0" cx="336.5" cy="408.6" r="4.7"/><circle class="a3c0" cx="224.4" cy="515.9" r="7.8"/><circle class="a3c0" cx="427.6" cy="383.8" r="7.5"/><circle class="a3c0" cx="293.8" cy="292.3" r="5.4"/><circle class="a3c0" cx="354.9" cy="318.0" r="3.9"/><circle class="a3c0" cx="333.7" cy="469.3" r="9.1"/><circle class="a3c0" cx="469.2" cy="445.3" r="6.0"/><circle class="a3c0" cx="210.9" cy="479.9" r="4.4"/><circle class="a3c0" cx="401.5" cy="408.4" r="7.4"/><circle class="a3c0" cx="371.3" cy="300.0" r="3.6"/><circle class="a3c0" cx="433.4" cy="518.7" r="7.6"/><circle class="a3c0" cx="272.3" cy="422.2" r="5.2"/><circle class="a3c0" cx="211.5" cy="283.2" r="4.6"/><circle class="a3c0" cx="387.2" cy="405.5" r="7.4"/><circle class="a3c0" cx="468.0" cy="343.4" r="7.9"/><circle class="a3c0" cx="453.0" cy="292.6" r="7.5"/><circle class="a3c0" cx="205.7" cy="291.7" r="3.8"/><circle class="a3c0" cx="408.4" cy="495.0" r="6.1"/><circle class="a3c0" cx="263.9" cy="376.0" r="8.8"/><circle class="a3c0" cx="444.1" cy="502.2" r="7.2"/><circle class="a3c0" cx="270.7" cy="333.2" r="6.1"/><circle class="a3c0" cx="390.5" cy="507.7" r="6.4"/><circle class="a3c0" cx="265.3" cy="431.0" r="6.0"/><circle class="a3c0" cx="233.1" cy="397.1" r="4.8"/><circle class="a3c0" cx="212.9" cy="309.4" r="3.6"/><circle class="a3c0" cx="267.4" cy="479.1" r="3.4"/><circle class="a3c0" cx="332.0" cy="338.9" r="4.9"/><circle class="a3c0" cx="314.3" cy="414.8" r="4.8"/><circle class="a3c0" cx="259.5" cy="338.6" r="4.6"/><circle class="a3c0" cx="377.7" cy="460.4" r="6.4"/><circle class="a3c0" cx="469.8" cy="483.1" r="5.4"/><circle class="a3c0" cx="319.2" cy="503.1" r="4.9"/><circle class="a3c0" cx="465.2" cy="465.3" r="9.7"/><circle class="a3c0" cx="351.3" cy="414.3" r="7.2"/><circle class="a3c0" cx="421.5" cy="441.3" r="3.8"/><circle class="a3c0" cx="284.0" cy="382.6" r="3.5"/><circle class="a3c0" cx="286.1" cy="371.0" r="7.0"/><circle class="a3c0" cx="424.7" cy="300.3" r="3.9"/><circle class="a3c0" cx="237.9" cy="498.5" r="5.8"/><circle class="a3c0" cx="331.3" cy="385.1" r="3.5"/><circle class="a3c0" cx="184.0" cy="284.5" r="7.5"/><circle class="a3c0" cx="456.9" cy="340.7" r="3.7"/><circle class="a3c0" cx="160.2" cy="304.2" r="6.8"/><circle class="a3c0" cx="159.5" cy="425.8" r="7.9"/><circle class="a3c0" cx="461.6" cy="284.6" r="3.3"/><circle class="a3c0" cx="165.5" cy="506.1" r="8.2"/><circle class="a3c0" cx="387.1" cy="388.7" r="6.3"/><circle class="a3c0" cx="304.8" cy="442.0" r="3.5"/><circle class="a3c0" cx="182.8" cy="444.4" r="5.6"/><circle class="a3c0" cx="445.7" cy="517.8" r="4.8"/><circle class="a3c0" cx="388.9" cy="294.5" r="3.2"/><circle class="a3c0" cx="301.6" cy="284.7" r="4.0"/><circle class="a3c0" cx="397.6" cy="317.7" r="7.5"/><circle class="a3c0" cx="232.0" cy="332.5" r="4.5"/><circle class="a3c0" cx="469.3" cy="384.7" r="6.6"/><circle class="a3c0" cx="217.8" cy="440.3" r="7.9"/><circle class="a3c0" cx="470.6" cy="331.8" r="4.5"/><circle class="a3c0" cx="245.5" cy="486.5" r="5.0"/><circle class="a3c0" cx="412.6" cy="437.4" r="6.1"/><circle class="a3c0" cx="256.4" cy="365.4" r="4.7"/><circle class="a3c0" cx="253.0" cy="500.3" r="9.9"/><circle class="a3c0" cx="160.8" cy="323.3" r="6.4"/><circle class="a3c0" cx="160.7" cy="462.0" r="6.2"/><circle class="a3c0" cx="321.6" cy="488.3" r="6.3"/><circle class="a3c0" cx="352.8" cy="370.6" r="6.2"/><circle class="a3c0" cx="363.7" cy="300.0" r="4.3"/><circle class="a3c0" cx="166.2" cy="417.3" r="3.3"/><circle class="a3c0" cx="206.6" cy="450.4" r="3.3"/><circle class="a3c0" cx="351.5" cy="433.6" r="8.9"/><circle class="a3c0" cx="437.5" cy="366.9" r="5.5"/><circle class="a3c0" cx="360.2" cy="390.0" r="4.2"/><circle class="a3c0" cx="444.1" cy="480.5" r="3.5"/><circle class="a3c0" cx="472.6" cy="292.2" r="10.0"/><circle class="a3c0" cx="290.4" cy="516.7" r="7.8"/><circle class="a3c0" cx="330.9" cy="493.2" r="3.6"/><circle class="a3c0" cx="472.6" cy="426.2" r="10.1"/><circle class="a3c0" cx="439.5" cy="408.9" r="5.5"/><circle class="a3c0" cx="219.2" cy="317.9" r="4.7"/><circle class="a3c0" cx="246.9" cy="516.1" r="4.6"/><circle class="a3c0" cx="387.0" cy="335.2" r="5.1"/><circle class="a3c0" cx="288.2" cy="346.2" r="3.8"/><circle class="a3c0" cx="363.1" cy="423.4" r="6.7"/><circle class="a3c0" cx="326.3" cy="415.2" r="6.4"/><circle class="a3c0" cx="172.2" cy="494.0" r="6.2"/><circle class="a3c0" cx="347.2" cy="517.1" r="6.4"/><circle class="a3c0" cx="167.2" cy="372.1" r="4.3"/><circle class="a3c0" cx="246.9" cy="454.0" r="3.6"/><circle class="a3c0" cx="208.6" cy="425.6" r="9.1"/><circle class="a3c0" cx="391.8" cy="374.9" r="5.4"/><circle class="a3c0" cx="221.0" cy="390.9" r="5.6"/><circle class="a3c0" cx="446.5" cy="343.4" r="4.6"/><circle class="a3c0" cx="222.1" cy="403.2" r="7.0"/><circle class="a3c0" cx="360.9" cy="335.8" r="5.0"/><circle class="a3c0" cx="420.0" cy="393.5" r="3.4"/><circle class="a3c0" cx="430.6" cy="304.5" r="3.5"/><circle class="a3c0" cx="186.6" cy="420.6" r="6.0"/><circle class="a3c0" cx="341.6" cy="363.2" r="7.9"/><circle class="a3c0" cx="341.8" cy="457.0" r="3.7"/><circle class="a3c0" cx="233.3" cy="340.5" r="3.4"/><circle class="a3c0" cx="472.9" cy="314.6" r="9.2"/><circle class="a3c0" cx="173.1" cy="452.6" r="7.1"/><circle class="a3c0" cx="279.3" cy="437.8" r="4.4"/><circle class="a3c0" cx="264.4" cy="463.5" r="7.2"/><circle class="a3c0" cx="315.0" cy="518.0" r="7.0"/><circle class="a3c0" cx="310.4" cy="295.5" r="9.7"/><circle class="a3c0" cx="183.2" cy="395.2" r="4.9"/><circle class="a3c0" cx="405.9" cy="464.9" r="5.6"/><circle class="a3c0" cx="406.2" cy="443.8" r="3.3"/><circle class="a3c0" cx="227.9" cy="467.3" r="3.5"/><circle class="a3c0" cx="419.3" cy="455.7" r="10.3"/><circle class="a3c0" cx="274.2" cy="457.8" r="3.6"/><circle class="a3c0" cx="461.5" cy="299.1" r="3.4"/><circle class="a3c0" cx="415.8" cy="474.1" r="7.3"/><circle class="a3c0" cx="251.5" cy="424.5" r="5.5"/><circle class="a3c0" cx="337.6" cy="397.9" r="4.7"/><circle class="a3c0" cx="343.1" cy="503.3" r="5.3"/><circle class="a3c0" cx="329.1" cy="482.4" r="3.4"/><circle class="a3c0" cx="163.4" cy="444.4" r="6.5"/><circle class="a3c0" cx="449.5" cy="429.5" r="4.6"/><circle class="a3c0" cx="265.4" cy="491.3" r="4.6"/><circle class="a3c0" cx="230.7" cy="410.4" r="4.2"/><circle class="a3c0" cx="352.7" cy="357.8" r="4.7"/><circle class="a3c1" cx="312.5" cy="390.4" r="7.2"/><circle class="a3c1" cx="219.2" cy="377.0" r="8.8"/><circle class="a3c1" cx="456.1" cy="420.9" r="6.4"/><circle class="a3c1" cx="392.0" cy="452.2" r="11.2"/><circle class="a3c1" cx="330.9" cy="510.0" r="9.5"/><circle class="a3c1" cx="456.0" cy="485.8" r="9.6"/><circle class="a3c1" cx="201.2" cy="371.4" r="8.2"/><circle class="a3c1" cx="435.0" cy="293.2" r="6.3"/><circle class="a3c1" cx="364.8" cy="473.0" r="11.2"/><circle class="a3c1" cx="380.8" cy="423.4" r="11.2"/><circle class="a3c1" cx="326.3" cy="400.1" r="6.3"/><circle class="a3c1" cx="259.8" cy="517.5" r="7.6"/><circle class="a3c1" cx="198.6" cy="410.5" r="6.1"/><circle class="a3c1" cx="342.8" cy="489.7" r="8.3"/><circle class="a3c1" cx="271.7" cy="289.5" r="7.2"/><circle class="a3c1" cx="198.4" cy="351.4" r="11.2"/><circle class="a3c1" cx="195.4" cy="437.2" r="6.1"/><circle class="a3c1" cx="258.1" cy="320.5" r="6.8"/><circle class="a3c1" cx="176.0" cy="476.2" r="12.8"/><circle class="a3c1" cx="273.9" cy="513.5" r="7.6"/><circle class="a3c1" cx="375.0" cy="515.3" r="8.6"/><circle class="a3c1" cx="316.5" cy="310.3" r="6.8"/><circle class="a3c1" cx="371.2" cy="399.4" r="10.4"/><circle class="a3c1" cx="470.4" cy="500.3" r="7.1"/><circle class="a3c1" cx="385.2" cy="363.7" r="7.3"/><circle class="a3c1" cx="180.2" cy="519.7" r="6.9"/><circle class="a3c1" cx="192.6" cy="295.9" r="6.1"/><circle class="a3c1" cx="272.0" cy="306.6" r="11.2"/><circle class="a3c1" cx="396.8" cy="428.2" r="11.2"/><circle class="a3c1" cx="256.5" cy="479.3" r="7.6"/><circle class="a3c1" cx="208.1" cy="513.6" r="6.3"/><circle class="a3c1" cx="214.4" cy="333.8" r="12.8"/><circle class="a3c1" cx="300.8" cy="327.4" r="12.8"/><circle class="a3c1" cx="366.4" cy="377.0" r="9.6"/><circle class="a3c1" cx="322.1" cy="283.5" r="7.6"/><circle class="a3c1" cx="414.5" cy="425.4" r="6.9"/><circle class="a3c1" cx="459.2" cy="377.2" r="6.8"/><circle class="a3c1" cx="461.6" cy="515.8" r="10.1"/><circle class="a3c1" cx="200.1" cy="283.5" r="6.6"/><circle class="a3c1" cx="351.9" cy="284.2" r="7.2"/><circle class="a3c1" cx="306.4" cy="404.2" r="8.8"/><circle class="a3c1" cx="320.0" cy="449.0" r="11.2"/><circle class="a3c1" cx="200.0" cy="311.4" r="9.6"/><circle class="a3c1" cx="283.2" cy="476.2" r="12.8"/><circle class="a3c1" cx="242.4" cy="468.2" r="11.2"/><circle class="a3c1" cx="320.0" cy="329.0" r="8.0"/><circle class="a3c1" cx="196.2" cy="482.9" r="6.8"/><circle class="a3c1" cx="224.3" cy="307.4" r="6.2"/><circle class="a3c1" cx="441.5" cy="420.3" r="6.9"/><circle class="a3c1" cx="451.2" cy="329.0" r="9.6"/><circle class="a3c1" cx="299.5" cy="379.9" r="9.3"/><circle class="a3c1" cx="435.2" cy="437.8" r="10.4"/><circle class="a3c1" cx="238.5" cy="314.7" r="9.8"/><circle class="a3c1" cx="288.5" cy="393.5" r="7.0"/><circle class="a3c1" cx="430.4" cy="485.8" r="11.2"/><circle class="a3c1" cx="350.3" cy="399.9" r="7.7"/><circle class="a3c1" cx="400.0" cy="301.8" r="9.6"/><circle class="a3c1" cx="444.8" cy="308.2" r="11.2"/><circle class="a3c1" cx="368.0" cy="351.4" r="12.0"/><circle class="a3c2" cx="230.4" cy="452.2" r="8.8"/><circle class="a3c2" cx="394.4" cy="349.8" r="10.4"/><circle class="a3c2" cx="344.0" cy="383.4" r="9.6"/><circle class="a3c2" cx="304.0" cy="497.0" r="11.2"/><circle class="a3c2" cx="201.6" cy="393.0" r="11.2"/><circle class="a3c2" cx="416.0" cy="367.4" r="12.8"/><circle class="a3c2" cx="208.0" cy="493.8" r="10.4"/><circle class="a3c2" cx="321.6" cy="375.4" r="10.4"/><circle class="a3c2" cx="374.4" cy="319.4" r="16.0"/><circle class="a3c2" cx="192.0" cy="506.6" r="11.2"/><circle class="a3c2" cx="358.4" cy="457.0" r="12.8"/><circle class="a3c2" cx="243.2" cy="292.2" r="9.6"/><circle class="a3c2" cx="258.4" cy="353.0" r="8.8"/><circle class="a3c2" cx="224.0" cy="292.2" r="9.6"/><circle class="a3c2" cx="302.4" cy="354.6" r="12.8"/><circle class="a3c2" cx="172.8" cy="405.8" r="9.6"/><circle class="a3c2" cx="222.4" cy="498.6" r="9.6"/><circle class="a3c2" cx="441.6" cy="461.8" r="11.2"/><circle class="a3c2" cx="211.2" cy="463.4" r="11.2"/><circle class="a3c2" cx="358.4" cy="503.4" r="11.2"/><circle class="a3c2" cx="169.6" cy="341.8" r="14.4"/><circle class="a3c2" cx="454.4" cy="357.8" r="12.0"/><circle class="a3c2" cx="457.6" cy="399.4" r="12.8"/><circle class="a3c2" cx="345.6" cy="306.6" r="10.4"/><circle class="a3c2" cx="193.6" cy="460.2" r="12.8"/><circle class="a3c2" cx="233.6" cy="426.6" r="12.0"/><circle class="a3c2" cx="432.0" cy="345.0" r="9.6"/><circle class="a3c2" cx="404.8" cy="389.8" r="12.0"/><circle class="a3c2" cx="324.0" cy="431.4" r="8.0"/><circle class="a3c2" cx="345.6" cy="343.4" r="10.4"/><circle class="a3c2" cx="393.6" cy="481.0" r="13.6"/><circle class="a3c2" cx="286.4" cy="497.0" r="12.0"/><circle class="a3c2" cx="246.4" cy="405.8" r="11.2"/><circle class="a3c2" cx="272.0" cy="397.8" r="11.2"/><circle class="a3c2" cx="289.6" cy="423.4" r="12.5"/><circle class="a3c2" cx="292.8" cy="306.6" r="9.6"/><circle class="a3c2" cx="182.4" cy="378.6" r="12.8"/><circle class="a3c2" cx="422.4" cy="322.6" r="16.8"/><circle class="a3c2" cx="179.2" cy="313.0" r="12.8"/><circle class="a3c2" cx="241.6" cy="367.4" r="10.4"/><circle class="a3c2" cx="246.4" cy="333.8" r="10.4"/><circle class="a3c2" cx="291.2" cy="453.8" r="14.4"/></g><rect x="163.2" y="285.4" width="305.6" height="231.0" filter="url(#grainA)" opacity="0.7"/><rect x="438.7" y="502.6" width="15" height="7.6" fill="#000"/></g><rect x="164.50" y="286.70" width="303.00" height="228.40" fill="none" stroke="#000" stroke-width="2.6"/>
<g clip-path="url(#a4clip)"><rect x="471.2" y="285.4" width="305.59999999999997" height="231.0" fill="#e6e2e0"/><g filter="url(#soft)"><circle class="a4t" cx="580.5" cy="320.1" r="0.7"/><circle class="a4t" cx="670.7" cy="398.0" r="0.9"/><circle class="a4t" cx="663.6" cy="395.7" r="0.6"/><circle class="a4t" cx="757.0" cy="375.3" r="0.9"/><circle class="a4t" cx="723.7" cy="360.5" r="0.6"/><circle class="a4t" cx="519.3" cy="415.5" r="1.0"/><circle class="a4t" cx="743.5" cy="404.2" r="0.7"/><circle class="a4t" cx="775.7" cy="297.4" r="0.6"/><circle class="a4t" cx="600.4" cy="401.0" r="0.9"/><circle class="a4t" cx="775.4" cy="336.0" r="0.8"/><circle class="a4t" cx="532.3" cy="420.7" r="0.7"/><circle class="a4t" cx="757.2" cy="331.9" r="0.8"/><circle class="a4t" cx="736.9" cy="309.6" r="0.6"/><circle class="a4t" cx="760.3" cy="478.1" r="0.7"/><circle class="a4t" cx="638.1" cy="381.1" r="0.6"/><circle class="a4t" cx="472.1" cy="377.3" r="0.7"/><circle class="a4t" cx="545.2" cy="325.0" r="1.1"/><circle class="a4t" cx="774.0" cy="369.5" r="0.7"/><circle class="a4t" cx="694.2" cy="469.8" r="1.0"/><circle class="a4t" cx="577.6" cy="366.8" r="1.0"/><circle class="a4t" cx="706.7" cy="288.8" r="0.7"/><circle class="a4t" cx="494.2" cy="355.8" r="0.5"/><circle class="a4t" cx="528.0" cy="294.6" r="0.5"/><circle class="a4t" cx="701.6" cy="355.3" r="1.0"/><circle class="a4t" cx="702.6" cy="379.2" r="0.6"/><circle class="a4t" cx="638.9" cy="311.9" r="0.6"/><circle class="a4t" cx="541.0" cy="423.9" r="0.5"/><circle class="a4t" cx="646.7" cy="374.6" r="1.0"/><circle class="a4t" cx="713.7" cy="490.3" r="0.7"/><circle class="a4t" cx="745.8" cy="313.4" r="0.6"/><circle class="a4t" cx="676.0" cy="333.4" r="1.1"/><circle class="a4t" cx="734.1" cy="299.7" r="0.9"/><circle class="a4t" cx="766.5" cy="392.1" r="1.1"/><circle class="a4t" cx="607.4" cy="443.1" r="1.0"/><circle class="a4t" cx="714.7" cy="315.9" r="0.9"/><circle class="a4t" cx="560.5" cy="374.7" r="0.8"/><circle class="a4t" cx="682.7" cy="509.7" r="1.0"/><circle class="a4t" cx="655.6" cy="511.5" r="0.9"/><circle class="a4t" cx="668.8" cy="379.9" r="0.7"/><circle class="a4t" cx="544.9" cy="363.7" r="0.9"/><circle class="a4t" cx="522.3" cy="405.2" r="0.5"/><circle class="a4t" cx="504.5" cy="491.8" r="0.9"/><circle class="a4t" cx="679.5" cy="305.9" r="0.9"/><circle class="a4t" cx="670.7" cy="511.5" r="0.8"/><circle class="a4t" cx="672.5" cy="351.8" r="0.9"/><circle class="a4t" cx="610.0" cy="349.8" r="0.9"/><circle class="a4t" cx="489.1" cy="291.5" r="0.9"/><circle class="a4t" cx="650.4" cy="326.1" r="0.6"/><circle class="a4t" cx="723.7" cy="406.1" r="0.9"/><circle class="a4t" cx="558.2" cy="464.3" r="0.9"/><circle class="a4t" cx="554.3" cy="330.9" r="1.1"/><circle class="a4t" cx="624.2" cy="446.6" r="0.8"/><circle class="a4t" cx="519.4" cy="509.5" r="0.8"/><circle class="a4t" cx="736.1" cy="417.1" r="0.5"/><circle class="a4t" cx="540.8" cy="468.3" r="1.0"/><circle class="a4t" cx="506.7" cy="497.3" r="0.5"/><circle class="a4t" cx="604.5" cy="484.2" r="0.8"/><circle class="a4t" cx="751.3" cy="445.3" r="0.9"/><circle class="a4t" cx="719.5" cy="288.8" r="0.9"/><circle class="a4t" cx="550.3" cy="300.0" r="0.9"/><circle class="a4t" cx="689.1" cy="374.6" r="0.7"/><circle class="a4t" cx="544.2" cy="439.2" r="0.9"/><circle class="a4t" cx="749.3" cy="441.2" r="0.9"/><circle class="a4t" cx="733.4" cy="373.6" r="0.9"/><circle class="a4t" cx="595.1" cy="374.7" r="0.9"/><circle class="a4t" cx="646.1" cy="436.9" r="0.8"/><circle class="a4t" cx="518.3" cy="425.2" r="0.7"/><circle class="a4t" cx="574.4" cy="285.9" r="0.7"/><circle class="a4t" cx="492.3" cy="418.5" r="1.1"/><circle class="a4t" cx="757.6" cy="393.0" r="0.9"/><circle class="a4t" cx="524.8" cy="385.9" r="1.1"/><circle class="a4t" cx="726.9" cy="447.2" r="0.7"/><circle class="a4t" cx="683.2" cy="434.7" r="0.8"/><circle class="a4t" cx="546.8" cy="353.4" r="0.8"/><circle class="a4t" cx="668.9" cy="298.2" r="0.6"/><circle class="a4t" cx="705.2" cy="497.8" r="1.1"/><circle class="a4t" cx="771.6" cy="293.5" r="0.9"/><circle class="a4t" cx="525.9" cy="376.7" r="0.9"/><circle class="a4t" cx="620.1" cy="324.6" r="0.9"/><circle class="a4t" cx="517.9" cy="496.6" r="0.8"/><circle class="a4t" cx="606.9" cy="435.6" r="0.9"/><circle class="a4t" cx="669.6" cy="422.7" r="1.1"/><circle class="a4t" cx="540.1" cy="385.2" r="0.9"/><circle class="a4t" cx="709.4" cy="514.4" r="1.0"/><circle class="a4t" cx="587.1" cy="329.3" r="0.7"/><circle class="a4t" cx="752.9" cy="463.8" r="0.7"/><circle class="a4t" cx="624.8" cy="305.0" r="0.7"/><circle class="a4t" cx="527.8" cy="383.8" r="0.7"/><circle class="a4t" cx="477.6" cy="348.6" r="1.1"/><circle class="a4t" cx="520.9" cy="361.9" r="0.9"/><circle class="a4t" cx="656.7" cy="474.3" r="0.7"/><circle class="a4t" cx="575.9" cy="363.4" r="0.9"/><circle class="a4t" cx="555.2" cy="446.2" r="0.7"/><circle class="a4t" cx="578.9" cy="303.1" r="0.5"/><circle class="a4t" cx="735.7" cy="406.3" r="0.6"/><circle class="a4t" cx="515.6" cy="336.9" r="0.9"/><circle class="a4t" cx="672.4" cy="460.6" r="0.7"/><circle class="a4t" cx="509.0" cy="511.3" r="0.9"/><circle class="a4t" cx="766.4" cy="302.3" r="0.9"/><circle class="a4t" cx="553.0" cy="372.0" r="0.7"/><circle class="a4t" cx="493.3" cy="353.1" r="0.7"/><circle class="a4t" cx="695.0" cy="436.7" r="0.6"/><circle class="a4t" cx="648.4" cy="308.5" r="1.0"/><circle class="a4t" cx="661.8" cy="400.0" r="0.7"/><circle class="a4t" cx="532.0" cy="473.0" r="0.5"/><circle class="a4t" cx="640.2" cy="287.6" r="0.7"/><circle class="a4t" cx="694.9" cy="367.5" r="0.9"/><circle class="a4t" cx="647.8" cy="465.8" r="1.1"/><circle class="a4t" cx="634.5" cy="306.2" r="1.0"/><circle class="a4t" cx="630.7" cy="496.4" r="1.1"/><circle class="a4t" cx="614.3" cy="439.6" r="1.1"/><circle class="a4t" cx="531.0" cy="297.4" r="1.0"/><circle class="a4t" cx="588.1" cy="386.1" r="0.9"/><circle class="a4t" cx="645.0" cy="475.3" r="1.1"/><circle class="a4t" cx="541.0" cy="345.4" r="0.5"/><circle class="a4t" cx="721.4" cy="486.6" r="1.1"/><circle class="a4t" cx="699.3" cy="506.6" r="0.8"/><circle class="a4t" cx="590.8" cy="329.6" r="0.5"/><circle class="a4t" cx="560.9" cy="377.0" r="0.6"/><circle class="a4t" cx="473.3" cy="441.0" r="0.5"/><circle class="a4t" cx="772.3" cy="371.4" r="0.7"/><circle class="a4t" cx="637.6" cy="315.2" r="1.0"/><circle class="a4t" cx="651.3" cy="308.7" r="0.8"/><circle class="a4t" cx="661.0" cy="397.3" r="0.6"/><circle class="a4t" cx="601.1" cy="321.6" r="0.7"/><circle class="a4t" cx="528.0" cy="328.1" r="0.6"/><circle class="a4t" cx="510.8" cy="331.9" r="0.9"/><circle class="a4t" cx="538.1" cy="442.7" r="0.5"/><circle class="a4t" cx="733.3" cy="457.2" r="0.9"/><circle class="a4t" cx="668.5" cy="289.3" r="0.5"/><circle class="a4t" cx="637.3" cy="431.7" r="0.8"/><circle class="a4t" cx="588.4" cy="392.5" r="0.8"/><circle class="a4t" cx="618.4" cy="367.7" r="0.7"/><circle class="a4t" cx="527.6" cy="436.2" r="0.7"/><circle class="a4t" cx="743.6" cy="384.4" r="0.9"/><circle class="a4t" cx="492.2" cy="295.4" r="1.0"/><circle class="a4t" cx="604.4" cy="347.8" r="0.8"/><circle class="a4t" cx="662.8" cy="421.1" r="0.6"/><circle class="a4t" cx="671.9" cy="371.6" r="0.7"/><circle class="a4t" cx="477.2" cy="385.2" r="0.7"/><circle class="a4t" cx="612.5" cy="502.2" r="0.8"/><circle class="a4t" cx="733.4" cy="481.9" r="0.6"/><circle class="a4t" cx="572.2" cy="386.4" r="1.0"/><circle class="a4t" cx="756.2" cy="460.1" r="0.7"/><circle class="a4t" cx="767.8" cy="489.7" r="1.0"/><circle class="a4t" cx="476.9" cy="458.8" r="0.8"/><circle class="a4t" cx="649.0" cy="479.9" r="0.6"/><circle class="a4t" cx="679.3" cy="359.4" r="0.7"/><circle class="a4t" cx="594.4" cy="378.3" r="1.0"/><circle class="a4t" cx="486.7" cy="387.8" r="0.6"/><circle class="a4t" cx="577.0" cy="409.9" r="0.8"/><circle class="a4t" cx="605.0" cy="476.1" r="0.9"/><circle class="a4t" cx="473.3" cy="346.1" r="1.1"/><circle class="a4t" cx="506.1" cy="393.9" r="0.8"/><circle class="a4t" cx="557.5" cy="496.8" r="0.9"/><circle class="a4t" cx="501.0" cy="507.0" r="0.5"/><circle class="a4t" cx="595.8" cy="409.6" r="1.0"/><circle class="a4t" cx="629.5" cy="333.9" r="0.8"/><circle class="a4t" cx="607.6" cy="460.4" r="0.6"/><circle class="a4t" cx="535.1" cy="479.3" r="1.0"/><circle class="a4t" cx="655.2" cy="426.4" r="0.9"/><circle class="a4t" cx="519.1" cy="478.9" r="1.0"/><circle class="a4t" cx="770.0" cy="320.8" r="0.7"/><circle class="a4t" cx="534.7" cy="337.9" r="0.7"/><circle class="a4t" cx="567.8" cy="380.4" r="0.8"/><circle class="a4t" cx="490.5" cy="290.8" r="0.8"/><circle class="a4t" cx="702.7" cy="307.8" r="0.7"/><circle class="a4t" cx="545.3" cy="321.4" r="0.8"/><circle class="a4t" cx="629.1" cy="486.4" r="0.7"/><circle class="a4t" cx="485.9" cy="500.9" r="0.7"/><circle class="a4t" cx="755.0" cy="418.7" r="0.7"/><circle class="a4t" cx="576.3" cy="337.8" r="0.5"/><circle class="a4t" cx="573.8" cy="366.7" r="0.5"/><circle class="a4t" cx="658.8" cy="389.9" r="0.5"/><circle class="a4t" cx="707.4" cy="468.4" r="0.8"/><circle class="a4t" cx="571.7" cy="419.6" r="1.1"/><circle class="a4t" cx="749.6" cy="470.7" r="1.1"/><circle class="a4t" cx="774.8" cy="409.8" r="0.8"/><circle class="a4t" cx="574.8" cy="309.7" r="0.7"/><circle class="a4t" cx="723.5" cy="323.1" r="1.0"/><circle class="a4t" cx="664.8" cy="418.0" r="0.7"/><circle class="a4t" cx="762.5" cy="501.2" r="0.8"/><circle class="a4t" cx="609.2" cy="458.3" r="0.7"/><circle class="a4t" cx="726.8" cy="321.5" r="1.0"/><circle class="a4t" cx="509.0" cy="448.9" r="1.1"/><circle class="a4t" cx="504.1" cy="375.2" r="0.8"/><circle class="a4t" cx="551.3" cy="515.4" r="0.5"/><circle class="a4t" cx="710.6" cy="303.0" r="0.8"/><circle class="a4t" cx="516.7" cy="424.7" r="0.8"/><circle class="a4t" cx="513.6" cy="337.0" r="1.0"/><circle class="a4t" cx="498.1" cy="428.8" r="1.0"/><circle class="a4t" cx="536.6" cy="354.0" r="0.6"/><circle class="a4t" cx="492.5" cy="431.2" r="0.6"/><circle class="a4t" cx="477.0" cy="398.2" r="0.6"/><circle class="a4t" cx="687.1" cy="373.3" r="0.5"/><circle class="a4t" cx="573.1" cy="286.6" r="0.5"/><circle class="a4t" cx="697.0" cy="369.8" r="0.7"/><circle class="a4t" cx="574.3" cy="404.8" r="0.5"/><circle class="a4t" cx="499.7" cy="303.4" r="0.9"/><circle class="a4t" cx="622.2" cy="388.1" r="1.0"/><circle class="a4t" cx="733.9" cy="309.5" r="0.8"/><circle class="a4t" cx="728.8" cy="485.9" r="1.1"/><circle class="a4t" cx="693.2" cy="420.2" r="1.1"/><circle class="a4t" cx="555.2" cy="293.4" r="0.6"/><circle class="a4t" cx="542.2" cy="321.3" r="0.8"/><circle class="a4t" cx="478.6" cy="501.7" r="0.5"/><circle class="a4t" cx="595.7" cy="452.6" r="0.9"/><circle class="a4t" cx="640.1" cy="387.4" r="0.7"/><circle class="a4t" cx="513.6" cy="463.5" r="0.5"/><circle class="a4t" cx="690.8" cy="347.7" r="0.9"/><circle class="a4t" cx="761.7" cy="412.6" r="0.6"/><circle class="a4t" cx="607.7" cy="504.3" r="0.6"/><circle class="a4t" cx="719.5" cy="363.9" r="0.5"/><circle class="a4t" cx="629.1" cy="300.5" r="0.9"/><circle class="a4t" cx="639.0" cy="439.7" r="0.6"/><circle class="a4t" cx="479.9" cy="285.8" r="0.5"/><circle class="a4t" cx="622.2" cy="351.8" r="0.8"/><circle class="a4t" cx="735.2" cy="505.6" r="0.9"/><circle class="a4t" cx="695.7" cy="349.2" r="1.0"/><circle class="a4t" cx="722.0" cy="330.2" r="1.0"/><circle class="a4t" cx="734.1" cy="475.5" r="0.9"/><circle class="a4t" cx="756.5" cy="466.4" r="1.0"/><circle class="a4t" cx="606.5" cy="393.3" r="1.1"/><circle class="a4t" cx="706.3" cy="429.4" r="0.8"/><circle class="a4t" cx="678.1" cy="366.4" r="0.8"/><circle class="a4t" cx="598.8" cy="301.2" r="0.8"/><circle class="a4t" cx="763.3" cy="515.4" r="0.6"/><circle class="a4t" cx="654.9" cy="427.7" r="1.0"/><circle class="a4t" cx="748.3" cy="494.3" r="0.7"/><circle class="a4t" cx="570.0" cy="474.6" r="1.0"/><circle class="a4t" cx="575.4" cy="472.8" r="0.7"/><circle class="a4t" cx="563.0" cy="487.1" r="0.7"/><circle class="a4t" cx="667.2" cy="410.2" r="1.0"/><circle class="a4t" cx="572.0" cy="364.8" r="1.1"/><circle class="a4t" cx="711.4" cy="301.8" r="0.9"/><circle class="a4t" cx="705.7" cy="500.9" r="0.8"/><circle class="a4t" cx="674.5" cy="477.8" r="0.8"/><circle class="a4t" cx="754.6" cy="362.2" r="0.9"/><circle class="a4t" cx="656.1" cy="318.7" r="0.7"/><circle class="a4t" cx="612.1" cy="386.1" r="0.8"/><circle class="a4t" cx="631.1" cy="445.1" r="0.8"/><circle class="a4t" cx="507.3" cy="442.9" r="1.1"/><circle class="a4t" cx="599.9" cy="418.6" r="1.1"/><circle class="a4t" cx="651.3" cy="427.1" r="0.5"/><circle class="a4t" cx="644.9" cy="361.7" r="0.6"/><circle class="a4t" cx="495.5" cy="471.8" r="1.0"/><circle class="a4t" cx="530.7" cy="352.5" r="0.9"/><circle class="a4t" cx="592.1" cy="408.8" r="0.8"/><circle class="a4t" cx="519.9" cy="393.8" r="0.8"/><circle class="a4t" cx="700.5" cy="429.0" r="0.9"/><circle class="a4t" cx="723.3" cy="311.0" r="0.7"/><circle class="a4t" cx="695.5" cy="347.3" r="0.9"/><circle class="a4t" cx="707.1" cy="287.2" r="1.0"/><circle class="a4t" cx="504.9" cy="310.9" r="0.6"/><circle class="a4t" cx="739.2" cy="468.0" r="1.0"/><circle class="a4t" cx="695.5" cy="505.5" r="0.8"/><circle class="a4t" cx="659.6" cy="368.5" r="0.8"/><circle class="a4t" cx="633.2" cy="400.2" r="0.7"/><circle class="a4t" cx="691.7" cy="400.5" r="0.6"/><circle class="a4t" cx="601.9" cy="331.5" r="1.1"/><circle class="a4t" cx="492.3" cy="471.9" r="1.1"/><circle class="a4t" cx="556.1" cy="445.9" r="0.8"/><circle class="a4t" cx="773.4" cy="413.3" r="0.8"/><circle class="a4t" cx="621.2" cy="368.8" r="0.6"/><circle class="a4t" cx="524.6" cy="349.3" r="1.1"/><circle class="a4t" cx="635.9" cy="451.7" r="0.6"/><circle class="a4t" cx="543.8" cy="370.4" r="0.6"/><circle class="a4t" cx="712.6" cy="450.4" r="0.8"/><circle class="a4t" cx="687.0" cy="488.5" r="0.5"/><circle class="a4t" cx="533.7" cy="339.9" r="0.9"/><circle class="a4t" cx="549.2" cy="308.8" r="1.1"/><circle class="a4t" cx="482.0" cy="442.6" r="0.6"/><circle class="a4t" cx="771.9" cy="509.6" r="0.7"/><circle class="a4t" cx="672.4" cy="489.1" r="0.8"/><circle class="a4t" cx="497.2" cy="337.0" r="0.7"/><circle class="a4t" cx="591.9" cy="452.2" r="0.7"/><circle class="a4t" cx="477.2" cy="385.7" r="0.8"/><circle class="a4t" cx="772.1" cy="295.5" r="0.9"/><circle class="a4t" cx="775.0" cy="308.9" r="0.5"/><circle class="a4t" cx="662.6" cy="473.9" r="0.9"/><circle class="a4t" cx="602.1" cy="336.9" r="1.0"/><circle class="a4t" cx="594.5" cy="465.6" r="0.7"/><circle class="a4t" cx="670.9" cy="374.9" r="0.8"/><circle class="a4t" cx="660.3" cy="516.2" r="1.1"/><circle class="a4t" cx="550.5" cy="354.3" r="0.9"/><circle class="a4t" cx="678.4" cy="292.4" r="0.8"/><circle class="a4t" cx="629.1" cy="434.3" r="0.9"/><circle class="a4t" cx="559.5" cy="484.1" r="0.5"/><circle class="a4t" cx="532.5" cy="375.3" r="0.6"/><circle class="a4t" cx="633.8" cy="459.8" r="0.7"/><circle class="a4t" cx="528.8" cy="513.1" r="0.9"/><circle class="a4t" cx="587.5" cy="302.6" r="0.9"/><circle class="a4t" cx="775.0" cy="399.3" r="1.1"/><circle class="a4t" cx="480.4" cy="332.3" r="0.5"/><circle class="a4t" cx="477.0" cy="455.2" r="1.0"/><circle class="a4t" cx="619.5" cy="313.5" r="0.6"/><circle class="a4t" cx="565.7" cy="444.7" r="0.8"/><circle class="a4t" cx="489.2" cy="477.6" r="0.7"/><circle class="a4t" cx="646.2" cy="374.9" r="0.6"/><circle class="a4t" cx="695.7" cy="418.8" r="0.6"/><circle class="a4t" cx="586.6" cy="435.8" r="0.5"/><circle class="a4t" cx="496.3" cy="494.8" r="1.0"/><circle class="a4t" cx="523.0" cy="511.5" r="0.9"/><circle class="a4t" cx="731.4" cy="294.1" r="0.5"/><circle class="a4t" cx="682.1" cy="344.9" r="0.5"/><circle class="a4t" cx="723.2" cy="436.5" r="0.9"/><circle class="a4t" cx="606.3" cy="496.6" r="0.8"/><circle class="a4t" cx="726.7" cy="458.4" r="0.9"/><circle class="a4t" cx="553.9" cy="296.1" r="0.6"/><circle class="a4t" cx="602.8" cy="462.7" r="0.5"/><circle class="a4t" cx="715.8" cy="374.9" r="0.9"/><circle class="a4t" cx="757.7" cy="426.7" r="1.1"/><circle class="a4t" cx="727.5" cy="414.0" r="0.5"/><circle class="a4t" cx="674.1" cy="438.6" r="0.7"/><circle class="a4t" cx="625.3" cy="353.6" r="1.0"/><circle class="a4t" cx="501.1" cy="447.9" r="0.6"/><circle class="a4t" cx="735.0" cy="376.9" r="0.7"/><circle class="a4t" cx="521.3" cy="411.2" r="0.9"/><circle class="a4t" cx="551.2" cy="445.9" r="1.1"/><circle class="a4t" cx="600.2" cy="416.9" r="0.5"/><circle class="a4t" cx="680.1" cy="485.2" r="1.1"/><circle class="a4t" cx="682.7" cy="509.3" r="1.1"/><circle class="a4t" cx="745.7" cy="339.9" r="0.9"/><circle class="a4t" cx="525.0" cy="407.9" r="1.0"/><circle class="a4t" cx="682.4" cy="296.5" r="0.7"/><circle class="a4t" cx="686.3" cy="326.1" r="0.7"/><circle class="a4t" cx="585.8" cy="443.8" r="0.9"/><circle class="a4t" cx="675.6" cy="416.2" r="1.1"/><circle class="a4t" cx="558.3" cy="454.6" r="0.8"/><circle class="a4t" cx="486.7" cy="478.2" r="0.7"/><circle class="a4t" cx="673.6" cy="505.9" r="1.1"/><circle class="a4t" cx="488.8" cy="401.1" r="0.6"/><circle class="a4t" cx="770.8" cy="465.9" r="1.1"/><circle class="a4t" cx="718.1" cy="354.6" r="0.5"/><circle class="a4t" cx="473.1" cy="404.6" r="1.1"/><circle class="a4t" cx="721.2" cy="452.4" r="0.9"/><circle class="a4t" cx="655.9" cy="375.2" r="0.6"/><circle class="a4t" cx="518.8" cy="451.3" r="0.6"/><circle class="a4t" cx="712.3" cy="357.9" r="0.7"/><circle class="a4t" cx="577.6" cy="504.2" r="0.9"/><circle class="a4t" cx="513.5" cy="379.7" r="0.8"/><circle class="a4t" cx="539.2" cy="493.6" r="0.8"/><circle class="a4t" cx="719.5" cy="392.9" r="0.6"/><circle class="a4t" cx="723.5" cy="452.6" r="0.9"/><circle class="a4t" cx="557.1" cy="322.7" r="0.7"/><circle class="a4t" cx="652.9" cy="441.8" r="0.7"/><circle class="a4t" cx="703.9" cy="304.1" r="0.9"/><circle class="a4t" cx="686.0" cy="443.5" r="1.1"/><circle class="a4t" cx="768.9" cy="359.9" r="0.7"/><circle class="a4t" cx="740.5" cy="365.1" r="0.7"/><circle class="a4t" cx="533.7" cy="317.6" r="0.6"/><circle class="a4t" cx="549.9" cy="502.8" r="1.0"/><circle class="a4t" cx="711.6" cy="485.3" r="0.6"/><circle class="a4t" cx="541.4" cy="334.5" r="0.9"/><circle class="a4t" cx="659.6" cy="426.7" r="0.8"/><circle class="a4t" cx="684.4" cy="373.3" r="0.8"/><circle class="a4t" cx="549.3" cy="478.7" r="0.5"/><circle class="a4t" cx="682.2" cy="514.8" r="0.6"/><circle class="a4t" cx="570.4" cy="390.1" r="0.8"/><circle class="a4t" cx="741.9" cy="356.0" r="0.6"/><circle class="a4t" cx="647.1" cy="444.6" r="1.0"/><circle class="a4t" cx="586.9" cy="373.3" r="1.0"/><circle class="a4t" cx="673.9" cy="299.3" r="0.6"/><circle class="a4t" cx="508.4" cy="360.1" r="0.9"/><circle class="a4t" cx="731.3" cy="347.7" r="1.1"/><circle class="a4t" cx="542.2" cy="515.4" r="0.8"/><circle class="a4t" cx="689.1" cy="332.6" r="0.6"/><circle class="a4t" cx="666.6" cy="404.5" r="0.5"/><circle class="a4t" cx="539.2" cy="502.3" r="0.6"/><circle class="a4t" cx="740.4" cy="299.5" r="0.7"/><circle class="a4t" cx="481.3" cy="436.3" r="1.0"/><circle class="a4t" cx="571.5" cy="312.4" r="0.8"/><circle class="a4t" cx="571.6" cy="498.3" r="0.9"/><circle class="a4t" cx="624.1" cy="464.0" r="0.9"/><circle class="a4t" cx="726.9" cy="480.9" r="0.7"/><circle class="a4t" cx="600.7" cy="413.8" r="0.8"/><circle class="a4t" cx="511.5" cy="391.2" r="0.8"/><circle class="a4t" cx="638.1" cy="474.5" r="0.7"/><circle class="a4t" cx="730.7" cy="430.3" r="0.6"/><circle class="a4t" cx="494.5" cy="415.2" r="1.1"/><circle class="a4t" cx="680.3" cy="325.4" r="0.9"/><circle class="a4t" cx="686.9" cy="385.7" r="0.5"/><circle class="a4t" cx="688.9" cy="400.9" r="0.9"/><circle class="a4t" cx="744.1" cy="469.2" r="0.7"/><circle class="a4t" cx="482.6" cy="510.7" r="0.9"/><circle class="a4t" cx="632.7" cy="350.6" r="1.0"/><circle class="a4t" cx="774.3" cy="300.4" r="1.1"/><circle class="a4t" cx="766.0" cy="344.2" r="1.0"/><circle class="a4t" cx="727.9" cy="490.7" r="1.0"/><circle class="a4t" cx="556.1" cy="343.7" r="0.9"/><circle class="a4t" cx="623.2" cy="492.2" r="0.5"/><circle class="a4t" cx="746.1" cy="397.4" r="0.5"/><circle class="a4t" cx="536.0" cy="425.7" r="0.7"/><circle class="a4t" cx="663.7" cy="339.3" r="0.9"/><circle class="a4t" cx="680.3" cy="300.1" r="1.0"/><circle class="a4t" cx="515.7" cy="418.7" r="0.6"/><circle class="a4t" cx="730.1" cy="457.7" r="0.9"/><circle class="a4t" cx="471.6" cy="468.2" r="0.7"/><circle class="a4t" cx="475.0" cy="419.5" r="1.1"/><circle class="a4t" cx="586.3" cy="516.1" r="1.1"/><circle class="a4t" cx="748.2" cy="299.4" r="0.8"/><circle class="a4t" cx="473.4" cy="462.9" r="0.6"/><circle class="a4t" cx="589.7" cy="314.7" r="0.8"/><circle class="a4t" cx="660.6" cy="398.8" r="0.6"/><circle class="a4t" cx="508.8" cy="447.5" r="0.9"/><circle class="a4t" cx="550.2" cy="406.4" r="1.0"/><circle class="a4t" cx="571.6" cy="466.2" r="0.7"/><circle class="a4t" cx="606.3" cy="457.5" r="0.7"/><circle class="a4t" cx="568.9" cy="321.2" r="0.8"/><circle class="a4t" cx="569.0" cy="512.2" r="0.9"/><circle class="a4t" cx="628.6" cy="506.6" r="0.6"/><circle class="a4t" cx="613.1" cy="405.0" r="0.9"/><circle class="a4t" cx="745.8" cy="504.1" r="0.9"/><circle class="a4t" cx="677.4" cy="407.0" r="0.8"/><circle class="a4t" cx="715.0" cy="445.2" r="0.9"/><circle class="a4t" cx="620.6" cy="368.5" r="1.1"/><circle class="a4t" cx="584.7" cy="370.7" r="1.0"/><circle class="a4t" cx="763.6" cy="468.8" r="1.0"/><circle class="a4t" cx="609.0" cy="424.3" r="0.8"/><circle class="a4t" cx="516.7" cy="328.0" r="1.0"/><circle class="a4t" cx="643.4" cy="361.2" r="0.6"/><circle class="a4t" cx="679.6" cy="377.6" r="0.6"/><circle class="a4t" cx="495.5" cy="464.3" r="0.6"/><circle class="a4t" cx="658.6" cy="323.7" r="0.6"/><circle class="a4t" cx="642.2" cy="336.0" r="0.6"/><circle class="a4t" cx="618.0" cy="430.9" r="0.6"/><circle class="a4t" cx="744.8" cy="410.4" r="1.0"/><circle class="a4t" cx="701.2" cy="410.5" r="0.7"/><circle class="a4t" cx="649.9" cy="330.7" r="0.7"/><circle class="a4t" cx="481.9" cy="493.7" r="0.6"/><circle class="a4t" cx="649.0" cy="362.1" r="0.9"/><circle class="a4t" cx="665.0" cy="314.3" r="0.9"/><circle class="a4t" cx="594.2" cy="444.7" r="0.9"/><circle class="a4t" cx="772.0" cy="421.7" r="0.7"/><circle class="a4t" cx="608.9" cy="362.3" r="0.9"/><circle class="a4t" cx="584.7" cy="349.8" r="0.7"/><circle class="a4t" cx="574.1" cy="399.8" r="0.5"/><circle class="a4t" cx="562.0" cy="484.8" r="1.0"/><circle class="a4t" cx="564.4" cy="323.6" r="0.7"/><circle class="a4t" cx="647.5" cy="439.1" r="0.5"/><circle class="a4t" cx="528.5" cy="469.5" r="1.1"/><circle class="a4t" cx="657.1" cy="407.7" r="0.9"/><circle class="a4t" cx="757.7" cy="421.8" r="0.6"/><circle class="a4t" cx="761.7" cy="346.3" r="1.0"/><circle class="a4t" cx="717.4" cy="457.6" r="0.7"/><circle class="a4t" cx="508.9" cy="381.5" r="1.1"/><circle class="a4t" cx="599.6" cy="483.2" r="0.5"/><circle class="a4t" cx="525.2" cy="285.6" r="0.5"/><circle class="a4t" cx="520.9" cy="292.0" r="0.8"/><circle class="a4t" cx="580.1" cy="373.4" r="0.5"/><circle class="a4t" cx="562.4" cy="404.0" r="1.0"/><circle class="a4t" cx="571.8" cy="336.5" r="1.0"/><circle class="a4t" cx="775.2" cy="453.2" r="0.7"/><circle class="a4t" cx="647.6" cy="299.9" r="0.6"/><circle class="a4t" cx="553.7" cy="504.0" r="1.1"/><circle class="a4t" cx="627.8" cy="409.8" r="1.1"/><circle class="a4t" cx="498.9" cy="452.0" r="0.9"/><circle class="a4t" cx="642.2" cy="472.1" r="1.0"/><circle class="a4t" cx="664.2" cy="474.5" r="1.0"/><circle class="a4t" cx="711.3" cy="448.3" r="0.8"/><circle class="a4t" cx="770.9" cy="338.3" r="0.9"/><circle class="a4t" cx="597.0" cy="354.0" r="0.6"/><circle class="a4t" cx="733.4" cy="488.7" r="1.0"/><circle class="a4t" cx="747.7" cy="294.5" r="0.9"/><circle class="a4t" cx="652.8" cy="400.0" r="0.9"/><circle class="a4t" cx="636.4" cy="493.5" r="0.9"/><circle class="a4t" cx="525.0" cy="510.1" r="0.7"/><circle class="a4t" cx="658.6" cy="403.8" r="0.8"/><circle class="a4t" cx="742.6" cy="442.9" r="0.5"/><circle class="a4t" cx="591.1" cy="340.3" r="0.6"/><circle class="a4t" cx="698.6" cy="357.9" r="0.7"/><circle class="a4t" cx="632.6" cy="378.2" r="0.5"/><circle class="a4t" cx="720.1" cy="296.0" r="0.7"/><circle class="a4t" cx="706.2" cy="425.2" r="0.5"/><circle class="a4t" cx="580.7" cy="337.6" r="1.0"/><circle class="a4t" cx="767.1" cy="499.6" r="0.9"/><circle class="a4t" cx="562.0" cy="461.9" r="0.5"/><circle class="a4t" cx="657.5" cy="409.7" r="0.7"/><circle class="a4t" cx="755.9" cy="485.8" r="0.6"/><circle class="a4t" cx="758.2" cy="402.1" r="0.9"/><circle class="a4t" cx="573.3" cy="435.7" r="1.1"/><circle class="a4t" cx="494.2" cy="330.7" r="0.7"/><circle class="a4t" cx="496.4" cy="411.9" r="1.0"/><circle class="a4t" cx="762.2" cy="449.6" r="0.8"/><circle class="a4t" cx="558.1" cy="401.8" r="1.0"/><circle class="a4t" cx="639.6" cy="424.2" r="0.8"/><circle class="a4t" cx="515.7" cy="309.1" r="0.6"/><circle class="a4t" cx="513.2" cy="392.1" r="0.5"/><circle class="a4t" cx="704.9" cy="472.0" r="0.7"/><circle class="a4t" cx="739.6" cy="399.9" r="1.0"/><circle class="a4t" cx="499.9" cy="378.0" r="1.1"/><circle class="a4t" cx="643.7" cy="337.3" r="0.6"/><circle class="a4t" cx="731.2" cy="451.9" r="0.9"/><circle class="a4t" cx="496.7" cy="474.9" r="0.6"/><circle class="a4t" cx="529.9" cy="351.1" r="0.9"/><circle class="a4t" cx="736.3" cy="309.3" r="0.9"/><circle class="a4t" cx="749.7" cy="451.7" r="0.7"/><circle class="a4t" cx="629.2" cy="352.3" r="0.8"/><circle class="a4t" cx="684.7" cy="443.6" r="1.0"/><circle class="a4t" cx="629.2" cy="403.6" r="0.5"/><circle class="a4t" cx="519.1" cy="301.6" r="0.6"/><circle class="a4t" cx="560.5" cy="307.9" r="0.5"/><circle class="a4t" cx="551.1" cy="335.1" r="1.1"/><circle class="a4t" cx="689.2" cy="367.6" r="0.5"/><circle class="a4t" cx="532.4" cy="293.9" r="0.9"/><circle class="a4t" cx="639.7" cy="465.5" r="0.6"/><circle class="a4t" cx="742.2" cy="407.9" r="0.6"/><circle class="a4t" cx="705.1" cy="425.5" r="1.1"/><circle class="a4t" cx="538.0" cy="340.3" r="0.7"/><circle class="a4t" cx="614.9" cy="443.0" r="0.9"/><circle class="a4t" cx="758.9" cy="386.9" r="0.5"/><circle class="a4t" cx="682.2" cy="451.1" r="0.6"/><circle class="a4t" cx="500.5" cy="485.1" r="0.7"/><circle class="a4t" cx="776.1" cy="456.8" r="1.0"/><circle class="a4t" cx="678.9" cy="360.9" r="1.0"/><circle class="a4t" cx="663.3" cy="330.2" r="0.9"/><circle class="a4t" cx="658.4" cy="346.3" r="0.7"/><circle class="a4t" cx="724.6" cy="291.2" r="0.6"/><circle class="a4t" cx="767.6" cy="456.3" r="0.6"/><circle class="a4t" cx="518.7" cy="415.5" r="0.5"/><circle class="a4t" cx="704.9" cy="419.8" r="0.5"/><circle class="a4t" cx="599.9" cy="472.3" r="0.6"/><circle class="a4t" cx="636.9" cy="318.6" r="0.8"/><circle class="a4t" cx="726.1" cy="335.3" r="0.7"/><circle class="a4t" cx="761.3" cy="441.2" r="0.5"/><circle class="a4t" cx="713.2" cy="344.7" r="1.0"/><circle class="a4t" cx="606.8" cy="484.6" r="0.8"/><circle class="a4t" cx="720.7" cy="494.3" r="1.0"/><circle class="a4t" cx="580.2" cy="311.8" r="0.7"/><circle class="a4t" cx="510.1" cy="419.7" r="0.7"/><circle class="a4t" cx="580.6" cy="383.1" r="0.7"/><circle class="a4t" cx="629.8" cy="349.3" r="0.7"/><circle class="a4t" cx="601.5" cy="411.3" r="0.8"/><circle class="a4t" cx="514.5" cy="387.1" r="0.8"/><circle class="a4t" cx="573.3" cy="499.3" r="1.0"/><circle class="a4t" cx="551.2" cy="404.1" r="0.7"/><circle class="a4t" cx="677.0" cy="436.8" r="1.0"/><circle class="a4t" cx="726.1" cy="287.4" r="0.9"/><circle class="a4t" cx="735.4" cy="425.8" r="0.8"/><circle class="a4t" cx="681.2" cy="383.7" r="1.1"/><circle class="a4t" cx="475.4" cy="466.6" r="0.7"/><circle class="a4t" cx="726.6" cy="442.4" r="0.9"/><circle class="a4t" cx="530.8" cy="384.2" r="0.7"/><circle class="a4t" cx="649.1" cy="441.6" r="0.8"/><circle class="a4t" cx="555.9" cy="289.7" r="0.6"/><circle class="a4t" cx="583.1" cy="412.6" r="1.0"/><circle class="a4t" cx="772.9" cy="382.4" r="0.8"/><circle class="a4t" cx="642.9" cy="319.3" r="0.9"/><circle class="a4t" cx="478.1" cy="505.9" r="0.9"/><circle class="a4t" cx="635.0" cy="471.4" r="0.8"/><circle class="a4t" cx="751.5" cy="434.0" r="0.8"/><circle class="a4t" cx="623.8" cy="395.3" r="0.8"/><circle class="a4t" cx="506.9" cy="438.3" r="0.6"/><circle class="a4t" cx="666.8" cy="483.1" r="0.7"/><circle class="a4t" cx="712.4" cy="377.8" r="0.9"/><circle class="a4t" cx="703.2" cy="428.5" r="0.8"/><circle class="a4t" cx="652.1" cy="314.6" r="0.8"/><circle class="a4t" cx="692.4" cy="418.6" r="0.9"/><circle class="a4t" cx="663.1" cy="339.9" r="0.9"/><circle class="a4t" cx="517.3" cy="321.0" r="0.8"/><circle class="a4t" cx="532.0" cy="451.3" r="0.5"/><circle class="a4t" cx="541.3" cy="289.4" r="0.6"/><circle class="a4t" cx="719.0" cy="396.3" r="0.7"/><circle class="a4t" cx="694.1" cy="511.9" r="1.0"/><circle class="a4t" cx="600.0" cy="461.5" r="0.9"/><circle class="a4t" cx="657.6" cy="352.7" r="0.5"/><circle class="a4t" cx="591.6" cy="336.1" r="0.6"/><circle class="a4t" cx="476.9" cy="465.0" r="0.6"/><circle class="a4t" cx="512.1" cy="418.0" r="1.0"/><circle class="a4t" cx="556.6" cy="358.2" r="1.1"/><circle class="a4t" cx="696.7" cy="373.4" r="0.9"/><circle class="a4t" cx="634.5" cy="450.5" r="0.7"/><circle class="a4t" cx="738.6" cy="458.4" r="0.6"/><circle class="a4t" cx="710.8" cy="317.4" r="1.0"/><circle class="a4t" cx="684.4" cy="485.3" r="0.7"/><circle class="a4t" cx="620.4" cy="290.1" r="0.7"/><circle class="a4t" cx="571.6" cy="444.4" r="0.9"/><circle class="a4t" cx="503.2" cy="339.5" r="0.6"/><circle class="a4t" cx="771.2" cy="407.7" r="0.8"/><circle class="a4t" cx="665.3" cy="382.1" r="0.6"/><circle class="a4t" cx="728.0" cy="425.2" r="0.6"/><circle class="a4t" cx="718.9" cy="446.7" r="1.0"/><circle class="a4t" cx="533.9" cy="444.5" r="0.6"/><circle class="a4t" cx="628.0" cy="338.1" r="1.0"/><circle class="a4t" cx="533.3" cy="322.4" r="0.9"/><circle class="a4t" cx="635.0" cy="483.6" r="0.9"/><circle class="a4t" cx="654.0" cy="350.9" r="0.6"/><circle class="a4t" cx="692.2" cy="308.2" r="0.6"/><circle class="a4t" cx="621.4" cy="344.3" r="0.6"/><circle class="a4t" cx="625.3" cy="365.6" r="0.5"/><circle class="a4t" cx="487.3" cy="466.9" r="0.5"/><circle class="a4t" cx="734.0" cy="287.1" r="0.9"/><circle class="a4t" cx="516.3" cy="387.7" r="0.8"/><circle class="a4t" cx="603.5" cy="512.3" r="0.9"/><circle class="a4t" cx="682.6" cy="428.7" r="0.8"/><circle class="a4t" cx="571.2" cy="404.4" r="0.6"/><circle class="a4t" cx="497.4" cy="310.4" r="0.9"/><circle class="a4t" cx="674.4" cy="433.0" r="0.8"/><circle class="a4t" cx="517.4" cy="336.7" r="0.9"/><circle class="a4t" cx="521.2" cy="500.7" r="0.9"/><circle class="a4t" cx="702.4" cy="300.9" r="0.8"/><circle class="a4t" cx="770.0" cy="497.1" r="1.1"/><circle class="a4t" cx="529.5" cy="507.2" r="1.0"/><circle class="a4t" cx="623.9" cy="291.7" r="0.7"/><circle class="a4t" cx="485.0" cy="440.9" r="0.8"/><circle class="a4t" cx="706.8" cy="296.0" r="1.0"/><circle class="a4t" cx="508.0" cy="354.6" r="1.1"/><circle class="a4t" cx="672.7" cy="293.6" r="1.1"/><circle class="a4t" cx="616.5" cy="417.1" r="0.8"/><circle class="a4t" cx="745.3" cy="348.6" r="0.6"/><circle class="a4t" cx="577.8" cy="331.9" r="0.9"/><circle class="a4t" cx="513.6" cy="429.1" r="0.7"/><circle class="a4t" cx="505.1" cy="409.3" r="1.0"/><circle class="a4t" cx="516.5" cy="436.6" r="0.7"/><circle class="a4t" cx="517.4" cy="443.2" r="0.7"/><circle class="a4t" cx="674.2" cy="325.5" r="1.0"/><circle class="a4t" cx="478.6" cy="372.8" r="0.9"/><circle class="a4t" cx="762.2" cy="286.3" r="0.6"/><circle class="a4t" cx="566.5" cy="445.8" r="1.0"/><circle class="a4t" cx="678.9" cy="295.8" r="0.9"/><circle class="a4t" cx="640.9" cy="369.1" r="0.9"/><circle class="a4t" cx="618.5" cy="505.3" r="1.0"/><circle class="a4t" cx="596.1" cy="348.2" r="0.7"/><circle class="a4t" cx="487.0" cy="355.0" r="1.0"/><circle class="a4t" cx="744.7" cy="305.9" r="0.9"/><circle class="a4t" cx="569.2" cy="346.6" r="0.7"/><circle class="a4t" cx="697.1" cy="408.0" r="0.8"/><circle class="a4t" cx="637.0" cy="294.3" r="0.7"/><circle class="a4t" cx="505.6" cy="318.4" r="0.7"/><circle class="a4t" cx="546.8" cy="315.8" r="0.6"/><circle class="a4t" cx="569.3" cy="501.8" r="0.5"/><circle class="a4t" cx="596.4" cy="440.4" r="1.1"/><circle class="a4t" cx="696.4" cy="485.6" r="0.7"/><circle class="a4t" cx="741.2" cy="332.9" r="0.5"/><circle class="a4t" cx="708.7" cy="437.3" r="0.7"/><circle class="a4t" cx="630.0" cy="409.6" r="1.0"/><circle class="a4t" cx="613.5" cy="492.5" r="0.7"/><circle class="a4t" cx="557.4" cy="291.0" r="1.0"/><circle class="a4t" cx="568.6" cy="505.6" r="0.8"/><circle class="a4t" cx="773.4" cy="304.2" r="1.0"/><circle class="a4t" cx="604.5" cy="478.7" r="0.8"/><circle class="a4t" cx="568.2" cy="504.2" r="0.6"/><circle class="a4t" cx="614.4" cy="329.1" r="0.6"/><circle class="a4t" cx="540.3" cy="427.1" r="0.7"/><circle class="a4t" cx="771.5" cy="378.7" r="0.7"/><circle class="a4t" cx="500.7" cy="362.1" r="1.0"/><circle class="a4t" cx="770.3" cy="404.8" r="0.8"/><circle class="a4t" cx="760.7" cy="290.4" r="0.7"/><circle class="a4t" cx="606.9" cy="475.6" r="0.5"/><circle class="a4t" cx="659.5" cy="380.1" r="0.8"/><circle class="a4s" cx="743.3" cy="296.0" r="1.7"/><circle class="a4s" cx="540.5" cy="289.5" r="2.5"/><circle class="a4s" cx="748.8" cy="351.9" r="2.5"/><circle class="a4s" cx="700.5" cy="316.6" r="2.5"/><circle class="a4s" cx="563.9" cy="342.1" r="1.4"/><circle class="a4s" cx="477.4" cy="416.4" r="2.6"/><circle class="a4s" cx="475.6" cy="318.5" r="2.3"/><circle class="a4s" cx="616.0" cy="459.3" r="2.1"/><circle class="a4s" cx="538.8" cy="334.3" r="2.1"/><circle class="a4s" cx="710.9" cy="505.9" r="2.6"/><circle class="a4s" cx="614.3" cy="401.4" r="2.1"/><circle class="a4s" cx="712.4" cy="476.0" r="1.6"/><circle class="a4s" cx="705.3" cy="412.2" r="2.4"/><circle class="a4s" cx="732.2" cy="325.0" r="2.5"/><circle class="a4s" cx="516.8" cy="331.8" r="1.6"/><circle class="a4s" cx="613.7" cy="377.3" r="1.4"/><circle class="a4s" cx="763.0" cy="293.9" r="1.4"/><circle class="a4s" cx="623.0" cy="418.9" r="2.1"/><circle class="a4s" cx="596.5" cy="458.3" r="2.0"/><circle class="a4s" cx="647.0" cy="377.4" r="1.8"/><circle class="a4s" cx="725.6" cy="391.3" r="1.5"/><circle class="a4s" cx="765.4" cy="338.0" r="2.5"/><circle class="a4s" cx="523.5" cy="393.7" r="2.3"/><circle class="a4s" cx="744.2" cy="420.4" r="1.7"/><circle class="a4s" cx="754.6" cy="306.8" r="2.5"/><circle class="a4s" cx="760.3" cy="401.8" r="2.0"/><circle class="a4s" cx="713.5" cy="439.5" r="1.8"/><circle class="a4s" cx="574.3" cy="318.6" r="2.1"/><circle class="a4s" cx="577.0" cy="291.4" r="1.8"/><circle class="a4s" cx="573.5" cy="452.4" r="2.3"/><circle class="a4s" cx="571.7" cy="349.4" r="1.5"/><circle class="a4s" cx="705.4" cy="500.7" r="1.8"/><circle class="a4s" cx="486.6" cy="352.6" r="2.5"/><circle class="a4s" cx="489.4" cy="474.4" r="2.0"/><circle class="a4s" cx="501.6" cy="511.0" r="2.3"/><circle class="a4s" cx="480.1" cy="387.5" r="1.6"/><circle class="a4s" cx="637.5" cy="346.7" r="1.8"/><circle class="a4s" cx="640.6" cy="407.0" r="1.6"/><circle class="a4s" cx="732.3" cy="456.4" r="2.1"/><circle class="a4s" cx="751.3" cy="467.8" r="1.5"/><circle class="a4s" cx="662.4" cy="505.4" r="1.7"/><circle class="a4s" cx="666.1" cy="418.6" r="1.6"/><circle class="a4s" cx="482.8" cy="328.1" r="2.5"/><circle class="a4s" cx="735.1" cy="369.1" r="2.4"/><circle class="a4s" cx="722.4" cy="506.5" r="1.5"/><circle class="a4s" cx="636.3" cy="495.0" r="1.9"/><circle class="a4s" cx="737.9" cy="462.4" r="1.5"/><circle class="a4s" cx="573.2" cy="322.0" r="1.8"/><circle class="a4s" cx="539.8" cy="313.5" r="2.2"/><circle class="a4s" cx="762.4" cy="318.3" r="1.4"/><circle class="a4s" cx="511.0" cy="351.6" r="1.9"/><circle class="a4s" cx="476.0" cy="369.8" r="1.3"/><circle class="a4s" cx="690.7" cy="505.8" r="1.7"/><circle class="a4s" cx="570.3" cy="391.1" r="1.7"/><circle class="a4s" cx="486.9" cy="287.5" r="2.3"/><circle class="a4s" cx="772.4" cy="294.0" r="1.7"/><circle class="a4s" cx="721.7" cy="332.2" r="1.5"/><circle class="a4s" cx="549.9" cy="388.9" r="1.4"/><circle class="a4s" cx="681.5" cy="289.5" r="2.0"/><circle class="a4s" cx="565.3" cy="286.0" r="1.3"/><circle class="a4s" cx="536.0" cy="500.3" r="2.1"/><circle class="a4s" cx="566.3" cy="324.4" r="1.6"/><circle class="a4s" cx="516.4" cy="377.5" r="2.5"/><circle class="a4s" cx="564.6" cy="461.5" r="1.3"/><circle class="a4s" cx="770.7" cy="442.1" r="1.9"/><circle class="a4s" cx="570.7" cy="370.3" r="1.4"/><circle class="a4s" cx="727.0" cy="342.3" r="2.2"/><circle class="a4s" cx="694.3" cy="311.8" r="2.2"/><circle class="a4s" cx="639.4" cy="406.2" r="2.5"/><circle class="a4s" cx="507.3" cy="319.5" r="2.4"/><circle class="a4s" cx="625.4" cy="508.2" r="2.6"/><circle class="a4s" cx="711.8" cy="429.1" r="1.5"/><circle class="a4s" cx="625.6" cy="350.8" r="2.4"/><circle class="a4s" cx="542.7" cy="370.8" r="1.8"/><circle class="a4s" cx="603.7" cy="478.3" r="1.7"/><circle class="a4s" cx="733.7" cy="428.1" r="1.6"/><circle class="a4s" cx="498.4" cy="311.7" r="2.6"/><circle class="a4s" cx="755.6" cy="334.2" r="2.6"/><circle class="a4s" cx="520.0" cy="290.9" r="1.8"/><circle class="a4s" cx="775.3" cy="337.1" r="2.4"/><circle class="a4s" cx="561.3" cy="484.2" r="2.3"/><circle class="a4s" cx="620.1" cy="378.2" r="2.4"/><circle class="a4s" cx="717.3" cy="515.0" r="1.8"/><circle class="a4s" cx="703.4" cy="507.0" r="2.5"/><circle class="a4s" cx="543.1" cy="304.2" r="1.8"/><circle class="a4s" cx="522.8" cy="347.2" r="1.6"/><circle class="a4s" cx="615.5" cy="415.8" r="1.6"/><circle class="a4s" cx="654.5" cy="306.8" r="2.3"/><circle class="a4s" cx="681.7" cy="293.8" r="2.5"/><circle class="a4s" cx="750.6" cy="303.4" r="1.9"/><circle class="a4s" cx="516.5" cy="381.0" r="2.0"/><circle class="a4s" cx="614.3" cy="440.7" r="2.3"/><circle class="a4s" cx="478.7" cy="434.5" r="1.5"/><circle class="a4s" cx="743.0" cy="474.4" r="1.5"/><circle class="a4s" cx="775.7" cy="441.2" r="2.1"/><circle class="a4s" cx="645.3" cy="512.8" r="1.7"/><circle class="a4s" cx="637.7" cy="292.8" r="1.9"/><circle class="a4s" cx="631.6" cy="355.6" r="1.7"/><circle class="a4s" cx="614.1" cy="295.5" r="2.5"/><circle class="a4s" cx="629.0" cy="342.4" r="1.8"/><circle class="a4s" cx="556.0" cy="493.3" r="1.7"/><circle class="a4s" cx="631.1" cy="367.7" r="1.8"/><circle class="a4s" cx="773.9" cy="353.0" r="2.1"/><circle class="a4s" cx="749.4" cy="342.2" r="2.1"/><circle class="a4s" cx="758.0" cy="295.1" r="1.6"/><circle class="a4s" cx="601.7" cy="492.3" r="2.4"/><circle class="a4s" cx="751.4" cy="415.5" r="2.3"/><circle class="a4s" cx="526.1" cy="360.9" r="1.3"/><circle class="a4s" cx="593.8" cy="364.0" r="2.2"/><circle class="a4s" cx="494.5" cy="306.9" r="1.6"/><circle class="a4s" cx="625.6" cy="355.4" r="1.9"/><circle class="a4s" cx="612.8" cy="468.1" r="1.4"/><circle class="a4s" cx="759.1" cy="375.0" r="1.7"/><circle class="a4s" cx="756.1" cy="500.6" r="1.6"/><circle class="a4s" cx="474.1" cy="374.7" r="1.9"/><circle class="a4s" cx="655.7" cy="302.7" r="1.5"/><circle class="a4s" cx="497.0" cy="500.6" r="1.6"/><circle class="a4s" cx="730.9" cy="508.8" r="2.5"/><circle class="a4s" cx="714.3" cy="349.8" r="2.3"/><circle class="a4s" cx="715.0" cy="365.8" r="1.6"/><circle class="a4s" cx="600.4" cy="319.9" r="2.2"/><circle class="a4s" cx="749.2" cy="335.1" r="2.3"/><circle class="a4s" cx="492.8" cy="390.6" r="1.3"/><circle class="a4s" cx="594.7" cy="370.0" r="2.2"/><circle class="a4s" cx="634.1" cy="341.1" r="2.5"/><circle class="a4s" cx="724.4" cy="490.0" r="1.9"/><circle class="a4s" cx="769.0" cy="453.3" r="2.5"/><circle class="a4s" cx="600.9" cy="392.1" r="1.5"/><circle class="a4s" cx="739.7" cy="313.0" r="1.5"/><circle class="a4s" cx="565.6" cy="490.2" r="1.4"/><circle class="a4s" cx="720.8" cy="382.0" r="1.4"/><circle class="a4s" cx="531.7" cy="317.5" r="2.2"/><circle class="a4s" cx="484.4" cy="474.2" r="2.3"/><circle class="a4s" cx="554.7" cy="369.8" r="1.7"/><circle class="a4s" cx="472.7" cy="408.7" r="1.5"/><circle class="a4s" cx="774.6" cy="370.7" r="1.6"/><circle class="a4s" cx="633.3" cy="311.0" r="1.9"/><circle class="a4s" cx="622.4" cy="472.9" r="2.0"/><circle class="a4s" cx="492.1" cy="310.8" r="1.9"/><circle class="a4s" cx="755.5" cy="417.1" r="1.6"/><circle class="a4s" cx="723.3" cy="430.1" r="1.4"/><circle class="a4s" cx="551.9" cy="510.2" r="2.5"/><circle class="a4s" cx="596.5" cy="453.0" r="2.6"/><circle class="a4c" cx="500.0" cy="300.2" r="5.3"/><circle class="a4c" cx="524.0" cy="322.6" r="3.8"/><circle class="a4c" cx="541.6" cy="325.8" r="5.3"/><circle class="a4c" cx="690.4" cy="300.2" r="4.3"/><circle class="a4c" cx="712.8" cy="293.8" r="4.6"/><circle class="a4c" cx="725.6" cy="295.4" r="4.9"/><circle class="a4c" cx="711.2" cy="313.0" r="4.3"/><circle class="a4c" cx="768.8" cy="401.0" r="4.3"/><circle class="a4c" cx="754.4" cy="484.2" r="5.3"/><circle class="a4c" cx="768.8" cy="487.4" r="4.6"/><circle class="a4c" cx="730.4" cy="500.2" r="5.8"/><circle class="a4c" cx="672.8" cy="314.6" r="3.8"/><circle class="a4c" cx="533.6" cy="397.8" r="5.3"/><circle class="a4c" cx="685.6" cy="333.8" r="5.0"/><circle class="a4c" cx="618.4" cy="346.6" r="5.0"/><circle class="a4c" cx="636.0" cy="389.8" r="5.0"/><circle class="a4c" cx="664.8" cy="402.6" r="5.3"/><circle class="a4c" cx="676.0" cy="431.4" r="5.5"/><circle class="a4c" cx="696.8" cy="445.8" r="6.1"/><circle class="a4c" cx="647.2" cy="453.8" r="6.1"/><circle class="a4c" cx="685.6" cy="482.6" r="6.1"/><circle class="a4c" cx="656.8" cy="490.6" r="5.5"/><circle class="a4c" cx="676.0" cy="493.8" r="5.8"/><circle class="a4c" cx="594.4" cy="415.4" r="5.5"/><circle class="a4c" cx="592.8" cy="444.2" r="5.5"/><circle class="a4c" cx="589.5" cy="347.4" r="3.9"/><circle class="a4c" cx="618.8" cy="338.1" r="3.0"/><circle class="a4c" cx="579.6" cy="336.0" r="4.8"/><circle class="a4c" cx="618.3" cy="322.2" r="3.5"/><circle class="a4c" cx="583.5" cy="322.3" r="4.5"/><circle class="a4c" cx="602.7" cy="357.5" r="4.8"/><circle class="a4c" cx="608.4" cy="323.8" r="4.5"/><circle class="a4c" cx="604.0" cy="313.9" r="4.3"/><circle class="a4c" cx="595.1" cy="356.0" r="3.5"/><circle class="a4c" cx="576.1" cy="327.0" r="3.2"/><circle class="a4c" cx="594.1" cy="311.4" r="3.6"/><circle class="a4c" cx="629.0" cy="332.8" r="4.4"/><circle class="a4c" cx="613.1" cy="356.1" r="3.3"/><circle class="a4c" cx="606.2" cy="338.5" r="3.0"/><circle class="a4c" cx="590.1" cy="334.5" r="4.9"/><circle class="a4c" cx="621.0" cy="328.3" r="3.7"/><circle class="a4c" cx="619.1" cy="315.1" r="4.3"/><circle class="a4c" cx="599.3" cy="345.6" r="3.4"/><circle class="a4c" cx="595.6" cy="324.7" r="4.0"/><circle class="a4c" cx="599.2" cy="332.8" r="3.3"/><circle class="a4c" cx="577.7" cy="346.6" r="3.2"/><circle class="a4c" cx="548.2" cy="364.1" r="4.0"/><circle class="a4c" cx="545.1" cy="383.8" r="3.8"/><circle class="a4c" cx="549.3" cy="376.5" r="4.8"/><circle class="a4c" cx="555.6" cy="394.0" r="3.3"/><circle class="a4c" cx="560.4" cy="363.3" r="4.3"/><circle class="a4c" cx="576.3" cy="385.6" r="4.9"/><circle class="a4c" cx="561.6" cy="379.7" r="4.2"/><circle class="a4c" cx="565.0" cy="392.7" r="3.0"/><circle class="a4c" cx="698.6" cy="356.1" r="4.3"/><circle class="a4c" cx="640.9" cy="365.8" r="3.2"/><circle class="a4c" cx="705.4" cy="388.3" r="3.5"/><circle class="a4c" cx="683.8" cy="369.1" r="4.0"/><circle class="a4c" cx="673.7" cy="366.8" r="3.3"/><circle class="a4c" cx="656.7" cy="390.7" r="4.9"/><circle class="a4c" cx="668.9" cy="386.2" r="3.6"/><circle class="a4c" cx="712.5" cy="384.5" r="3.3"/><circle class="a4c" cx="656.2" cy="409.3" r="4.7"/><circle class="a4c" cx="680.0" cy="346.7" r="4.9"/><circle class="a4c" cx="665.5" cy="356.9" r="4.0"/><circle class="a4c" cx="646.5" cy="387.7" r="3.2"/><circle class="a4c" cx="711.7" cy="372.0" r="4.8"/><circle class="a4c" cx="641.6" cy="373.5" r="3.2"/><circle class="a4c" cx="692.4" cy="369.2" r="3.1"/><circle class="a4c" cx="636.1" cy="378.4" r="4.4"/><circle class="a4c" cx="678.0" cy="374.6" r="3.7"/><circle class="a4c" cx="682.9" cy="393.2" r="4.8"/><circle class="a4c" cx="703.3" cy="404.4" r="4.2"/><circle class="a4c" cx="654.4" cy="378.1" r="3.1"/><circle class="a4c" cx="694.0" cy="379.5" r="3.8"/><circle class="a4c" cx="704.0" cy="349.3" r="4.3"/><circle class="a4c" cx="682.1" cy="357.4" r="3.2"/><circle class="a4c" cx="655.7" cy="366.0" r="4.6"/><circle class="a4c" cx="689.0" cy="352.6" r="4.2"/><circle class="a4c" cx="700.5" cy="364.3" r="4.5"/><circle class="a4c" cx="703.2" cy="378.2" r="4.4"/><circle class="a4c" cx="662.9" cy="370.7" r="4.5"/><circle class="a4c" cx="649.8" cy="348.0" r="3.5"/><circle class="a4c" cx="677.9" cy="409.0" r="3.3"/><circle class="a4c" cx="646.8" cy="362.9" r="3.3"/><circle class="a4c" cx="642.2" cy="396.4" r="3.9"/><circle class="a4c" cx="712.0" cy="360.2" r="3.7"/><circle class="a4c" cx="691.3" cy="402.8" r="4.5"/><circle class="a4c" cx="670.0" cy="341.4" r="3.4"/><circle class="a4c" cx="644.2" cy="357.0" r="3.5"/><circle class="a4c" cx="658.6" cy="354.5" r="3.7"/><circle class="a4c" cx="681.5" cy="403.3" r="3.6"/><circle class="a4c" cx="675.1" cy="400.1" r="3.9"/><circle class="a4c" cx="679.4" cy="384.4" r="4.3"/><circle class="a4c" cx="666.6" cy="394.9" r="3.2"/><circle class="a4c" cx="699.1" cy="393.4" r="3.6"/><circle class="a4c" cx="707.2" cy="446.3" r="3.7"/><circle class="a4c" cx="701.3" cy="428.3" r="3.7"/><circle class="a4c" cx="727.9" cy="418.1" r="3.3"/><circle class="a4c" cx="688.7" cy="419.2" r="4.5"/><circle class="a4c" cx="707.8" cy="421.5" r="4.7"/><circle class="a4c" cx="719.1" cy="424.8" r="4.2"/><circle class="a4c" cx="691.8" cy="432.7" r="3.1"/><circle class="a4c" cx="711.9" cy="434.4" r="3.0"/><circle class="a4c" cx="703.9" cy="437.4" r="4.2"/><circle class="a4c" cx="720.5" cy="406.7" r="3.5"/><circle class="a4c" cx="721.8" cy="442.8" r="3.4"/><circle class="a4c" cx="719.7" cy="415.7" r="4.1"/><circle class="a4c" cx="552.1" cy="431.7" r="4.9"/><circle class="a4c" cx="519.5" cy="476.1" r="3.7"/><circle class="a4c" cx="549.8" cy="451.2" r="3.3"/><circle class="a4c" cx="520.5" cy="408.4" r="4.3"/><circle class="a4c" cx="514.7" cy="450.3" r="4.5"/><circle class="a4c" cx="499.1" cy="472.1" r="4.5"/><circle class="a4c" cx="514.0" cy="463.1" r="3.5"/><circle class="a4c" cx="501.1" cy="426.5" r="3.5"/><circle class="a4c" cx="487.9" cy="437.1" r="3.3"/><circle class="a4c" cx="541.5" cy="467.0" r="3.0"/><circle class="a4c" cx="495.1" cy="461.7" r="3.4"/><circle class="a4c" cx="484.7" cy="454.9" r="4.4"/><circle class="a4c" cx="541.3" cy="417.2" r="3.5"/><circle class="a4c" cx="489.6" cy="428.7" r="3.8"/><circle class="a4c" cx="523.7" cy="461.5" r="4.2"/><circle class="a4c" cx="513.3" cy="413.4" r="3.9"/><circle class="a4c" cx="507.4" cy="470.0" r="4.3"/><circle class="a4c" cx="479.6" cy="429.3" r="3.0"/><circle class="a4c" cx="506.4" cy="437.7" r="4.4"/><circle class="a4c" cx="533.5" cy="455.8" r="4.0"/><circle class="a4c" cx="545.5" cy="459.9" r="4.3"/><circle class="a4c" cx="535.8" cy="423.5" r="3.2"/><circle class="a4c" cx="539.3" cy="432.1" r="3.1"/><circle class="a4c" cx="502.4" cy="410.7" r="3.4"/><circle class="a4c" cx="527.7" cy="471.1" r="5.0"/><circle class="a4c" cx="516.8" cy="429.2" r="4.7"/><circle class="a4c" cx="487.9" cy="466.3" r="3.8"/><circle class="a4c" cx="535.9" cy="472.1" r="3.1"/><circle class="a4c" cx="508.7" cy="429.1" r="3.3"/><circle class="a4c" cx="537.6" cy="448.6" r="3.9"/><circle class="a4c" cx="480.1" cy="445.0" r="3.1"/><circle class="a4c" cx="501.6" cy="461.1" r="3.2"/><circle class="a4c" cx="492.9" cy="420.9" r="4.8"/><circle class="a4c" cx="524.4" cy="438.7" r="5.0"/><circle class="a4c" cx="525.7" cy="420.1" r="4.8"/><circle class="a4c" cx="508.7" cy="405.0" r="4.5"/><circle class="a4c" cx="511.4" cy="477.2" r="4.4"/><circle class="a4c" cx="506.3" cy="418.9" r="4.6"/><circle class="a4c" cx="571.2" cy="398.1" r="4.7"/><circle class="a4c" cx="587.7" cy="426.2" r="3.8"/><circle class="a4c" cx="584.8" cy="400.8" r="3.3"/><circle class="a4c" cx="584.6" cy="439.6" r="3.8"/><circle class="a4c" cx="572.0" cy="422.0" r="3.6"/><circle class="a4c" cx="564.1" cy="433.2" r="3.2"/><circle class="a4c" cx="591.2" cy="397.0" r="4.7"/><circle class="a4c" cx="553.7" cy="439.9" r="3.1"/><circle class="a4c" cx="606.7" cy="429.7" r="4.8"/><circle class="a4c" cx="597.7" cy="407.4" r="3.3"/><circle class="a4c" cx="599.3" cy="425.2" r="3.5"/><circle class="a4c" cx="588.5" cy="407.8" r="4.4"/><circle class="a4c" cx="571.0" cy="444.0" r="3.4"/><circle class="a4c" cx="575.4" cy="430.5" r="3.7"/><circle class="a4c" cx="562.4" cy="439.9" r="3.9"/><circle class="a4c" cx="593.3" cy="431.3" r="4.3"/><circle class="a4c" cx="560.0" cy="425.9" r="3.3"/><circle class="a4c" cx="565.1" cy="403.7" r="3.5"/><circle class="a4c" cx="553.8" cy="407.6" r="3.4"/><circle class="a4c" cx="567.3" cy="415.7" r="3.2"/><circle class="a4c" cx="550.8" cy="418.3" r="3.7"/><circle class="a4c" cx="604.6" cy="409.9" r="4.0"/><circle class="a4c" cx="604.8" cy="420.1" r="4.5"/><circle class="a4c" cx="585.3" cy="416.4" r="3.6"/><circle class="a4c" cx="606.8" cy="438.5" r="4.6"/><circle class="a4c" cx="558.4" cy="414.0" r="4.6"/><circle class="a4c" cx="582.0" cy="393.0" r="4.1"/><circle class="a4c" cx="578.2" cy="405.7" r="3.6"/><circle class="a4c" cx="656.8" cy="464.3" r="4.9"/><circle class="a4c" cx="653.3" cy="481.5" r="3.1"/><circle class="a4c" cx="707.7" cy="458.0" r="4.0"/><circle class="a4c" cx="644.9" cy="423.2" r="3.6"/><circle class="a4c" cx="705.9" cy="472.7" r="3.7"/><circle class="a4c" cx="661.3" cy="481.6" r="4.7"/><circle class="a4c" cx="684.5" cy="492.6" r="3.3"/><circle class="a4c" cx="675.3" cy="481.6" r="3.6"/><circle class="a4c" cx="686.7" cy="427.3" r="4.2"/><circle class="a4c" cx="636.9" cy="482.3" r="3.8"/><circle class="a4c" cx="666.6" cy="450.6" r="3.8"/><circle class="a4c" cx="684.2" cy="471.2" r="5.0"/><circle class="a4c" cx="682.7" cy="442.5" r="4.6"/><circle class="a4c" cx="637.3" cy="461.7" r="3.2"/><circle class="a4c" cx="659.3" cy="416.5" r="3.3"/><circle class="a4c" cx="631.9" cy="455.6" r="3.2"/><circle class="a4c" cx="658.4" cy="427.2" r="3.3"/><circle class="a4c" cx="638.8" cy="434.8" r="3.9"/><circle class="a4c" cx="639.7" cy="473.2" r="3.8"/><circle class="a4c" cx="698.2" cy="480.0" r="4.5"/><circle class="a4c" cx="653.8" cy="422.2" r="3.1"/><circle class="a4c" cx="626.5" cy="468.3" r="3.0"/><circle class="a4c" cx="696.5" cy="471.6" r="4.1"/><circle class="a4c" cx="683.4" cy="462.3" r="4.0"/><circle class="a4c" cx="676.5" cy="456.8" r="4.2"/><circle class="a4c" cx="666.1" cy="464.3" r="3.6"/><circle class="a4c" cx="650.4" cy="429.0" r="3.8"/><circle class="a4c" cx="637.7" cy="444.9" r="4.5"/><circle class="a4c" cx="649.2" cy="436.8" r="3.8"/><circle class="a4c" cx="622.7" cy="457.5" r="4.1"/><circle class="a4c" cx="695.7" cy="464.2" r="3.9"/><circle class="a4c" cx="710.5" cy="465.8" r="4.3"/><circle class="a4c" cx="651.6" cy="470.3" r="3.5"/><circle class="a4c" cx="656.5" cy="452.9" r="4.0"/><circle class="a4c" cx="669.8" cy="458.2" r="3.0"/><circle class="a4c" cx="693.3" cy="426.4" r="3.0"/><circle class="a4c" cx="630.3" cy="463.3" r="3.8"/><circle class="a4c" cx="689.3" cy="456.0" r="3.5"/><circle class="a4c" cx="660.4" cy="473.3" r="3.5"/><circle class="a4c" cx="664.5" cy="430.3" r="3.9"/><circle class="a4c" cx="668.8" cy="485.5" r="4.5"/><circle class="a4c" cx="646.4" cy="493.8" r="4.1"/><circle class="a4c" cx="658.1" cy="441.3" r="4.7"/><circle class="a4c" cx="673.5" cy="420.2" r="4.4"/><circle class="a4c" cx="674.5" cy="440.4" r="4.4"/><circle class="a4c" cx="673.0" cy="469.7" r="3.6"/><circle class="a4c" cx="692.8" cy="488.4" r="3.6"/><circle class="a4c" cx="646.6" cy="466.0" r="3.1"/><circle class="a4c" cx="628.0" cy="450.3" r="3.5"/><circle class="a4c" cx="647.2" cy="481.7" r="3.1"/><circle class="a4c" cx="629.6" cy="442.2" r="4.4"/><circle class="a4c" cx="666.7" cy="441.8" r="3.9"/><circle class="a4c" cx="573.4" cy="479.6" r="3.7"/><circle class="a4c" cx="571.4" cy="460.9" r="4.6"/><circle class="a4c" cx="552.7" cy="470.9" r="4.7"/><circle class="a4c" cx="541.1" cy="484.2" r="5.0"/><circle class="a4c" cx="589.4" cy="503.1" r="4.0"/><circle class="a4c" cx="544.2" cy="495.2" r="4.5"/><circle class="a4c" cx="609.6" cy="476.7" r="3.2"/><circle class="a4c" cx="615.1" cy="485.5" r="3.1"/><circle class="a4c" cx="608.8" cy="463.1" r="3.3"/><circle class="a4c" cx="563.7" cy="497.4" r="3.8"/><circle class="a4c" cx="584.7" cy="465.1" r="4.3"/><circle class="a4c" cx="599.0" cy="513.3" r="4.8"/><circle class="a4c" cx="591.6" cy="517.7" r="4.5"/><circle class="a4c" cx="576.7" cy="512.0" r="3.5"/><circle class="a4c" cx="597.1" cy="480.9" r="3.7"/><circle class="a4c" cx="590.3" cy="474.4" r="3.3"/><circle class="a4c" cx="578.4" cy="495.0" r="3.7"/><circle class="a4c" cx="550.5" cy="481.3" r="4.4"/><circle class="a4c" cx="584.5" cy="452.5" r="4.0"/><circle class="a4c" cx="578.5" cy="473.6" r="3.9"/><circle class="a4c" cx="610.2" cy="497.9" r="3.7"/><circle class="a4c" cx="595.9" cy="496.0" r="3.8"/><circle class="a4c" cx="563.5" cy="508.4" r="3.9"/><circle class="a4c" cx="632.3" cy="489.0" r="3.7"/><circle class="a4c" cx="651.2" cy="510.4" r="3.1"/><circle class="a4c" cx="620.0" cy="515.4" r="4.1"/><circle class="a4c" cx="630.9" cy="515.2" r="4.0"/><circle class="a4c" cx="635.5" cy="505.5" r="4.8"/><circle class="a4c" cx="609.4" cy="508.2" r="3.5"/><circle class="a4c" cx="655.3" cy="501.6" r="4.2"/><circle class="a4c" cx="625.2" cy="480.0" r="4.7"/><circle class="a4c" cx="608.5" cy="517.4" r="4.4"/><circle class="a4c" cx="644.8" cy="507.0" r="3.1"/><circle class="a4c" cx="606.9" cy="485.0" r="3.8"/><circle class="a4c" cx="628.6" cy="496.2" r="4.5"/><circle class="a4c" cx="732.7" cy="487.9" r="3.5"/><circle class="a4c" cx="742.4" cy="497.1" r="4.2"/><circle class="a4c" cx="772.1" cy="495.0" r="3.3"/><circle class="a4c" cx="756.3" cy="514.3" r="3.6"/><circle class="a4c" cx="749.5" cy="507.3" r="3.6"/><circle class="a4c" cx="750.0" cy="475.5" r="4.1"/><circle class="a4c" cx="762.4" cy="493.7" r="5.0"/><circle class="a4c" cx="478.6" cy="505.0" r="3.5"/><circle class="a4c" cx="515.5" cy="504.7" r="3.5"/><circle class="a4c" cx="492.8" cy="505.5" r="3.7"/><circle class="a4c" cx="484.6" cy="481.1" r="3.7"/><circle class="a4c" cx="469.9" cy="500.5" r="3.1"/><circle class="a4c" cx="475.6" cy="489.7" r="4.8"/><circle class="a4c" cx="498.5" cy="484.1" r="3.3"/><circle class="a4c" cx="486.7" cy="489.6" r="3.0"/><circle class="a4c" cx="508.2" cy="371.6" r="3.7"/><circle class="a4c" cx="526.2" cy="383.9" r="4.7"/><circle class="a4c" cx="522.6" cy="372.5" r="4.2"/><circle class="a4c" cx="505.5" cy="378.7" r="4.2"/><circle class="a4c" cx="479.3" cy="349.7" r="4.1"/><circle class="a4c" cx="500.3" cy="358.2" r="3.3"/><circle class="a4c" cx="500.1" cy="329.7" r="4.8"/><circle class="a4c" cx="485.1" cy="344.9" r="3.6"/><circle class="a4c" cx="700.4" cy="300.1" r="4.0"/><circle class="a4c" cx="691.6" cy="319.5" r="3.3"/><circle class="a4c" cx="702.4" cy="291.6" r="3.0"/></g><rect x="746" y="502.4" width="15" height="7.6" fill="#000"/></g><rect x="472.50" y="286.70" width="303.00" height="228.40" fill="none" stroke="#000" stroke-width="2.6"/>
<g clip-path="url(#c1clip)"><rect x="205.0" y="1073.9" width="273.5" height="238.9" fill="#e4e4e3"/><path d="M416.4,1072.7 Q353.6,1072.7 346.6,1090.5 Q339.6,1108.3 325.7,1114.5 Q311.7,1120.8 302.4,1140.9 Q293.1,1161.1 283.0,1189.0 Q272.9,1217.0 262.1,1237.1 Q251.2,1257.3 243.4,1271.3 Q235.7,1285.2 227.2,1300.7 Q218.6,1316.3 349.0,1316.3 Q479.3,1316.3 479.3,1194.5 Q479.3,1072.7 416.4,1072.7Z" fill="#dddfe6" filter="url(#c1t)"/><path d="M324.1,1144.0 Q324.1,1133.2 331.9,1129.3 Q339.6,1125.4 345.8,1133.2 Q352.1,1140.9 353.6,1158.8 Q355.2,1176.6 352.1,1194.5 Q349.0,1212.3 343.5,1216.2 Q338.1,1220.1 334.2,1203.0 Q330.3,1185.9 327.2,1170.4 Q324.1,1154.9 324.1,1144.0Z" fill="none" stroke="#bcbfd2" stroke-width="1.3" stroke-opacity="0.7" stroke-linecap="round" stroke-linejoin="round" filter="url(#soft)"/><path d="M293.9,1187.5 Q293.1,1179.7 297.8,1170.4 Q302.4,1161.1 313.3,1163.4 Q324.1,1165.8 335.0,1181.3 Q345.8,1196.8 346.6,1206.1 Q347.4,1215.4 340.4,1216.2 Q333.4,1217.0 321.0,1212.3 Q308.6,1207.6 301.6,1201.4 Q294.6,1195.2 293.9,1187.5Z" fill="none" stroke="#bcbfd2" stroke-width="1.3" stroke-opacity="0.7" stroke-linecap="round" stroke-linejoin="round" filter="url(#soft)"/><path d="M269.8,1241.8 Q268.3,1232.5 272.9,1227.0 Q277.6,1221.6 286.9,1225.5 Q296.2,1229.4 308.6,1245.7 Q321.0,1261.9 330.3,1281.3 Q339.6,1300.7 333.4,1305.4 Q327.2,1310.0 310.2,1289.9 Q293.1,1269.7 282.2,1260.4 Q271.4,1251.1 269.8,1241.8Z" fill="none" stroke="#bcbfd2" stroke-width="1.3" stroke-opacity="0.7" stroke-linecap="round" stroke-linejoin="round" filter="url(#soft)"/><path d="M255.1,1282.1 Q251.2,1271.3 255.9,1263.5 Q260.5,1255.7 269.0,1258.1 Q277.6,1260.4 288.4,1275.9 Q299.3,1291.4 304.0,1303.1 Q308.6,1314.7 293.1,1314.7 Q277.6,1314.7 268.3,1303.8 Q259.0,1293.0 255.1,1282.1Z" fill="none" stroke="#bcbfd2" stroke-width="1.3" stroke-opacity="0.7" stroke-linecap="round" stroke-linejoin="round" filter="url(#soft)"/><path d="M368.3,1199.9 Q367.6,1192.1 376.9,1187.5 Q386.2,1182.8 396.3,1187.5 Q406.4,1192.1 409.5,1203.8 Q412.6,1215.4 407.1,1218.5 Q401.7,1221.6 392.4,1219.3 Q383.1,1217.0 376.1,1212.3 Q369.1,1207.6 368.3,1199.9Z" fill="none" stroke="#bcbfd2" stroke-width="1.3" stroke-opacity="0.7" stroke-linecap="round" stroke-linejoin="round" filter="url(#soft)"/><path d="M366.8,1242.6 Q355.2,1223.2 362.9,1220.1 Q370.7,1217.0 382.3,1223.9 Q393.9,1230.9 405.6,1250.3 Q417.2,1269.7 413.3,1277.5 Q409.5,1285.2 393.9,1273.6 Q378.4,1261.9 366.8,1242.6Z" fill="none" stroke="#bcbfd2" stroke-width="1.3" stroke-opacity="0.7" stroke-linecap="round" stroke-linejoin="round" filter="url(#soft)"/><path d="M417.2,1237.1 Q409.5,1223.2 421.1,1219.3 Q432.7,1215.4 444.4,1223.2 Q456.0,1230.9 453.7,1242.6 Q451.4,1254.2 438.2,1252.6 Q425.0,1251.1 417.2,1237.1Z" fill="none" stroke="#bcbfd2" stroke-width="1.3" stroke-opacity="0.7" stroke-linecap="round" stroke-linejoin="round" filter="url(#soft)"/><path d="M352.1,1083.5 Q393.9,1145.6 417.2,1176.6 Q440.5,1207.6 452.1,1238.7 L463.8,1269.7" fill="none" stroke="#bec1d2" stroke-width="1.2" stroke-opacity="0.6" stroke-linecap="round" stroke-linejoin="round" filter="url(#soft)"/><path d="M409.5,1077.3 Q425.0,1122.3 428.9,1127.7 L432.7,1133.2" fill="none" stroke="#bec1d2" stroke-width="1.2" stroke-opacity="0.6" stroke-linecap="round" stroke-linejoin="round" filter="url(#soft)"/><path d="M386.2,1077.3 Q432.7,1145.6 452.1,1168.9 L471.5,1192.1" fill="none" stroke="#bec1d2" stroke-width="1.2" stroke-opacity="0.6" stroke-linecap="round" stroke-linejoin="round" filter="url(#soft)"/><path d="M355.2,1114.5 Q401.7,1176.6 417.2,1199.9 L432.7,1223.2" fill="none" stroke="#bec1d2" stroke-width="1.2" stroke-opacity="0.6" stroke-linecap="round" stroke-linejoin="round" filter="url(#soft)"/><g filter="url(#soft)"><ellipse cx="249.7" cy="1170.4" rx="3.9" ry="2.3" transform="rotate(30 249.7 1170.4)" fill="#aaaaac"/><ellipse cx="462.2" cy="1133.2" rx="5.4" ry="2.2" transform="rotate(-10 462.2 1133.2)" fill="#969696"/><ellipse cx="423.4" cy="1119.2" rx="1.6" ry="6.2" transform="rotate(-10 423.4 1119.2)" fill="#afc8e1"/></g><rect x="205.0" y="1073.9" width="273.5" height="238.9" fill="#000000" filter="url(#c1n)" opacity="0.5"/><rect x="440.5" y="1300" width="24.5" height="7.4" fill="#000"/></g><rect x="206.40" y="1075.30" width="270.70" height="236.10" fill="none" stroke="#000" stroke-width="2.8"/>
<g clip-path="url(#c2clip)"><rect x="483.4" y="1073.9" width="273.1" height="238.9" fill="#e3e2e0"/><path d="M569.1,1098.3 Q562.9,1074.2 597.0,1074.2 Q631.2,1074.2 646.7,1109.9 Q662.2,1145.6 673.8,1180.5 Q685.5,1215.4 697.1,1258.1 Q708.7,1300.7 708.7,1308.5 Q708.7,1316.3 642.8,1316.3 Q576.9,1316.3 580.7,1296.9 Q584.6,1277.5 592.4,1250.3 Q600.1,1223.2 597.0,1199.9 Q593.9,1176.6 584.6,1149.5 Q575.3,1122.3 569.1,1098.3Z" fill="#d3d5dd" filter="url(#c2t)"/><path d="M654.4,1109.9 Q638.9,1074.2 697.1,1074.2 Q755.3,1074.2 755.3,1195.2 Q755.3,1316.3 735.9,1316.3 Q716.5,1316.3 704.9,1269.7 Q693.2,1223.2 681.6,1184.4 Q669.9,1145.6 654.4,1109.9Z" fill="#dedfe0" filter="url(#c2t)"/><g filter="url(#c2b)"><ellipse cx="512.5" cy="1220.1" rx="23.3" ry="49.7" transform="rotate(12 512.5 1220.1)" fill="#d2d2d8" stroke="#b0aaa2" stroke-width="5.5"/><ellipse cx="512.5" cy="1223.2" rx="9.3" ry="31.0" transform="rotate(12 512.5 1223.2)" fill="#c4c0be" opacity="0.7"/><path d="M483.8,1086.6 Q507.0,1077.3 517.1,1082.7 Q527.2,1088.2 524.9,1101.4 Q522.5,1114.5 514.8,1128.5 Q507.0,1142.5 496.2,1148.7 L485.3,1154.9" fill="none" stroke="#aaa39b" stroke-width="5.5" stroke-opacity="0.9" stroke-linecap="round" stroke-linejoin="round"/><path d="M483.8,1120.0 Q483.8,1091.3 493.8,1087.4 Q503.9,1083.5 511.7,1088.2 Q519.4,1092.8 517.1,1103.7 Q514.8,1114.5 507.8,1126.2 Q500.8,1137.8 492.3,1143.3 Q483.8,1148.7 483.8,1120.0Z" fill="#cdced6"/><path d="M533.4,1099.0 Q545.8,1114.5 551.3,1128.5 Q556.7,1142.5 564.4,1153.3 Q572.2,1164.2 580.0,1172.0 Q587.7,1179.7 589.3,1187.5 L590.8,1195.2" fill="none" stroke="#aca59b" stroke-width="6" stroke-opacity="0.9" stroke-linecap="round" stroke-linejoin="round"/><path d="M584.6,1217.0 Q562.9,1223.2 559.8,1234.8 Q556.7,1246.4 551.3,1256.5 Q545.8,1266.6 541.9,1271.3 Q538.1,1275.9 550.5,1275.9 Q562.9,1275.9 573.8,1275.1 L584.6,1274.4" fill="none" stroke="#aca59b" stroke-width="6" stroke-opacity="0.9" stroke-linecap="round" stroke-linejoin="round"/><path d="M572.2,1288.3 Q581.5,1300.7 583.1,1308.5 L584.6,1316.3" fill="none" stroke="#aca59b" stroke-width="6" stroke-opacity="0.8" stroke-linecap="round" stroke-linejoin="round"/><ellipse cx="590.8" cy="1083.5" rx="12.4" ry="9.3" fill="#e0ddd6" stroke="#aca090" stroke-width="3.0" opacity="0.85"/><ellipse cx="570.6" cy="1111.4" rx="10.1" ry="12.4" transform="rotate(-20 570.6 1111.4)" fill="#e0ddd6" stroke="#aca090" stroke-width="3.0" opacity="0.85"/><ellipse cx="611.0" cy="1116.1" rx="12.1" ry="16.8" transform="rotate(-10 611.0 1116.1)" fill="#e0ddd6" stroke="#aca090" stroke-width="3.0" opacity="0.85"/><ellipse cx="632.7" cy="1134.7" rx="7.4" ry="10.9" transform="rotate(-10 632.7 1134.7)" fill="#e0ddd6" stroke="#aca090" stroke-width="3.0" opacity="0.85"/><ellipse cx="614.1" cy="1167.3" rx="8.5" ry="15.5" transform="rotate(-10 614.1 1167.3)" fill="#e0ddd6" stroke="#aca090" stroke-width="3.0" opacity="0.85"/><ellipse cx="641.2" cy="1162.6" rx="9.0" ry="12.4" transform="rotate(-10 641.2 1162.6)" fill="#e0ddd6" stroke="#aca090" stroke-width="3.0" opacity="0.85"/><ellipse cx="656.8" cy="1187.5" rx="7.4" ry="10.9" transform="rotate(-10 656.8 1187.5)" fill="#e0ddd6" stroke="#aca090" stroke-width="3.0" opacity="0.85"/><ellipse cx="629.6" cy="1198.3" rx="9.6" ry="14.0" transform="rotate(-15 629.6 1198.3)" fill="#e0ddd6" stroke="#aca090" stroke-width="3.0" opacity="0.85"/><ellipse cx="649.0" cy="1221.6" rx="9.0" ry="14.0" transform="rotate(-10 649.0 1221.6)" fill="#e0ddd6" stroke="#aca090" stroke-width="3.0" opacity="0.85"/><ellipse cx="614.9" cy="1235.6" rx="9.0" ry="12.4" transform="rotate(-15 614.9 1235.6)" fill="#e0ddd6" stroke="#aca090" stroke-width="3.0" opacity="0.85"/><ellipse cx="668.4" cy="1248.0" rx="9.0" ry="12.4" transform="rotate(-15 668.4 1248.0)" fill="#e0ddd6" stroke="#aca090" stroke-width="3.0" opacity="0.85"/><ellipse cx="642.8" cy="1258.8" rx="9.0" ry="11.6" transform="rotate(-10 642.8 1258.8)" fill="#e0ddd6" stroke="#aca090" stroke-width="3.0" opacity="0.85"/><ellipse cx="682.4" cy="1285.2" rx="9.0" ry="15.5" transform="rotate(-10 682.4 1285.2)" fill="#e0ddd6" stroke="#aca090" stroke-width="3.0" opacity="0.85"/><ellipse cx="587.7" cy="1198.3" rx="10.9" ry="14.7" fill="#e0ddd6" stroke="#aca090" stroke-width="3.0" opacity="0.85"/><ellipse cx="575.3" cy="1223.2" rx="9.3" ry="8.5" fill="#e0ddd6" stroke="#aca090" stroke-width="3.0" opacity="0.85"/><ellipse cx="600.1" cy="1261.9" rx="7.8" ry="9.3" fill="#e0ddd6" stroke="#aca090" stroke-width="3.0" opacity="0.85"/><ellipse cx="659.1" cy="1300.7" rx="7.8" ry="10.9" fill="#e0ddd6" stroke="#aca090" stroke-width="3.0" opacity="0.85"/><ellipse cx="618.7" cy="1297.6" rx="7.8" ry="9.3" fill="#e0ddd6" stroke="#aca090" stroke-width="3.0" opacity="0.85"/></g><ellipse cx="669.9" cy="1095.9" rx="7.8" ry="6.2" fill="none" stroke="#c4c4c6" stroke-width="1.6" opacity="0.8"/><ellipse cx="693.2" cy="1117.7" rx="7.0" ry="6.2" fill="none" stroke="#c4c4c6" stroke-width="1.6" opacity="0.8"/><ellipse cx="704.1" cy="1142.5" rx="6.2" ry="5.4" fill="none" stroke="#c4c4c6" stroke-width="1.6" opacity="0.8"/><ellipse cx="721.2" cy="1168.9" rx="6.2" ry="9.3" fill="none" stroke="#c4c4c6" stroke-width="1.6" opacity="0.8"/><ellipse cx="716.5" cy="1223.2" rx="7.8" ry="12.4" fill="none" stroke="#c4c4c6" stroke-width="1.6" opacity="0.8"/><ellipse cx="739.8" cy="1269.7" rx="7.8" ry="9.3" fill="none" stroke="#c4c4c6" stroke-width="1.6" opacity="0.8"/><path d="M625.0,1074.2 Q643.6,1106.8 651.3,1127.7 Q659.1,1148.7 667.6,1175.1 Q676.2,1201.4 684.7,1227.8 Q693.2,1254.2 700.2,1285.2 L707.2,1316.3" fill="none" stroke="#cec5ac" stroke-width="3" stroke-opacity="0.9" stroke-linecap="round" stroke-linejoin="round" filter="url(#c2b)"/><rect x="483.4" y="1073.9" width="273.1" height="238.9" fill="#000000" filter="url(#c2n)" opacity="0.55"/><rect x="713.4" y="1299.3" width="24.8" height="7.6" fill="#000"/></g><rect x="484.80" y="1075.30" width="270.30" height="236.10" fill="none" stroke="#000" stroke-width="2.8"/>
<g clip-path="url(#c3clip)"><rect x="206.5" y="1317.8" width="272.8" height="239.4" fill="#e6e6e4"/><path d="M243.4,1315.1 L442.0,1315.1 L435.8,1358.5 L414.1,1381.8 L420.3,1420.6 L406.4,1451.6 L395.5,1482.7 L380.0,1505.9 L380.0,1563.4 L206.2,1563.4 L206.2,1451.6 L227.9,1408.2 L245.0,1358.5Z" fill="#d9d7de" filter="url(#c3t)"/><path d="M482.4,1347.7 L457.6,1378.7 L442.0,1420.6 L431.2,1451.6 L438.9,1482.7 L429.6,1516.8 L456.0,1507.5 L482.4,1523.0Z" fill="#d4d5d8" filter="url(#c3t)"/><path d="M482.4,1527.7 L448.3,1532.3 L429.6,1563.4 L482.4,1563.4Z" fill="#d6d4d6" filter="url(#c3t)"/><path d="M224.8,1411.3 L246.5,1414.4 L252.8,1451.6 L262.1,1513.7 L268.3,1563.4 L223.3,1563.4 L218.6,1482.7Z" fill="#d8ccc8" filter="url(#c3t)"/><path d="M252.8,1443.9 L272.9,1448.5 L286.9,1482.7 L293.1,1529.2 L299.3,1563.4 L269.8,1563.4 L262.1,1498.2Z" fill="#d5c9c5" filter="url(#c3t)"/><path d="M355.2,1518.4 L380.0,1510.6 L380.0,1563.4 L355.2,1563.4Z" fill="#d6ccc8" filter="url(#c3t)"/><path d="M442.0,1412.9 L476.2,1408.2 L479.3,1451.6 L448.3,1448.5Z" fill="#d6d2c8" filter="url(#c3t)"/><path d="M259.0,1339.9 L286.9,1343.0 L299.3,1377.2 L308.6,1412.9 L317.9,1451.6 L299.3,1461.0 L280.7,1436.1 L265.2,1405.1 L254.3,1374.1Z" fill="#d1c4b4" filter="url(#c3t)"/><path d="M317.9,1358.5 L339.6,1350.8 L353.6,1363.2 L349.0,1398.9 L344.3,1429.9 L327.2,1429.9 L314.8,1405.1Z" fill="#cfc3b0" filter="url(#c3t)"/><path d="M355.2,1408.2 L386.2,1395.8 L403.3,1405.1 L401.7,1436.1 L386.2,1467.2 L362.9,1482.7 L339.6,1484.2 L327.2,1464.1 L339.6,1439.2Z" fill="#d0c2b2" filter="url(#c3t)"/><path d="M302.4,1496.6 L327.2,1495.1 L324.1,1526.1 L317.9,1541.6 L305.5,1538.5 L300.9,1516.8Z" fill="#cabcb2" filter="url(#c3t)"/><path d="M291.5,1439.2 L311.7,1442.3 L308.6,1461.0 L293.1,1457.8Z" fill="#c6b8aa" filter="url(#c3t)"/><path d="M352.1,1412.9 Q336.5,1436.1 325.7,1447.8 Q314.8,1459.4 307.1,1474.9 Q299.3,1490.4 304.0,1526.9 L308.6,1563.4" fill="none" stroke="#dbdce6" stroke-width="8" stroke-opacity="0.8" stroke-linecap="round" stroke-linejoin="round" filter="url(#c2b2)"/><path d="M317.9,1451.6 Q355.2,1490.4 374.6,1505.9 L393.9,1521.5" fill="none" stroke="#dbdce6" stroke-width="8" stroke-opacity="0.8" stroke-linecap="round" stroke-linejoin="round" filter="url(#c2b2)"/><path d="M406.4,1420.6 Q386.2,1467.2 366.8,1486.6 Q347.4,1505.9 339.6,1534.7 L331.9,1563.4" fill="none" stroke="#dbdce6" stroke-width="8" stroke-opacity="0.8" stroke-linecap="round" stroke-linejoin="round" filter="url(#c2b2)"/><path d="M269.8,1355.4 Q280.7,1389.6 286.9,1409.8 L293.1,1429.9" fill="none" stroke="#e4ded8" stroke-width="2.5" stroke-opacity="0.8" stroke-linecap="round" stroke-linejoin="round" filter="url(#c2b)"/><path d="M339.6,1363.2 Q336.5,1392.7 335.0,1402.0 L333.4,1411.3" fill="none" stroke="#e4ded8" stroke-width="2.5" stroke-opacity="0.8" stroke-linecap="round" stroke-linejoin="round" filter="url(#c2b)"/><path d="M262.1,1459.4 Q268.3,1505.9 272.9,1530.0 L277.6,1554.0" fill="none" stroke="#e4ded8" stroke-width="2.5" stroke-opacity="0.8" stroke-linecap="round" stroke-linejoin="round" filter="url(#c2b)"/><path d="M384.6,1505.9 Q386.2,1490.4 407.9,1474.9 Q429.6,1459.4 432.7,1482.7 Q435.8,1505.9 430.4,1517.6 Q425.0,1529.2 409.5,1546.3 Q393.9,1563.4 387.0,1563.4 Q380.0,1563.4 381.5,1542.4 Q383.1,1521.5 384.6,1505.9Z" fill="#eaeae8" filter="url(#c2b2)"/><path d="M206.2,1367.9 Q206.2,1315.1 226.4,1315.1 Q246.5,1315.1 245.0,1336.8 Q243.4,1358.5 235.7,1381.8 Q227.9,1405.1 217.1,1412.9 Q206.2,1420.6 206.2,1367.9Z" fill="#eaeae8" filter="url(#c2b2)"/><path d="M428.9,1346.1 Q432.7,1315.1 457.6,1315.1 Q482.4,1315.1 482.4,1330.6 Q482.4,1346.1 465.3,1360.1 Q448.3,1374.1 436.6,1375.6 Q425.0,1377.2 428.9,1346.1Z" fill="#eaeae8" filter="url(#c2b2)"/><g filter="url(#soft)"><ellipse cx="437.4" cy="1447.8" rx="2.2" ry="2.2" fill="#6e6e78"/></g><rect x="206.5" y="1317.8" width="272.8" height="239.4" fill="#000000" filter="url(#c3n)" opacity="0.5"/><rect x="440.2" y="1536.2" width="24.8" height="7.6" fill="#000"/></g><rect x="207.90" y="1319.20" width="270.00" height="236.60" fill="none" stroke="#000" stroke-width="2.8"/>
<g clip-path="url(#c4clip)"><rect x="483.4" y="1317.4" width="273.1" height="238.6" fill="#aa9a80"/><rect x="483.4" y="1317.4" width="273.1" height="238.6" fill="#000000" filter="url(#c4m)"/><rect x="483.4" y="1317.4" width="273.1" height="238.6" fill="#000000" filter="url(#c4n)" opacity="0.8"/><path d="M482.2,1408.2 Q482.2,1347.7 493.1,1345.4 Q503.9,1343.0 509.4,1353.1 Q514.8,1363.2 516.3,1384.1 Q517.9,1405.1 515.6,1420.6 Q513.2,1436.1 519.4,1443.9 Q525.7,1451.6 520.2,1458.6 Q514.8,1465.6 507.0,1463.3 Q499.3,1461.0 490.7,1464.8 Q482.2,1468.7 482.2,1408.2Z" fill="none" stroke="#8e7a5c" stroke-width="4.5" stroke-opacity="0.75" stroke-linecap="round" stroke-linejoin="round" filter="url(#c4b)"/><path d="M560.2,1346.1 Q559.8,1318.2 564.4,1318.2 Q569.1,1318.2 570.6,1338.4 Q572.2,1358.5 569.9,1367.9 Q567.5,1377.2 566.4,1395.0 Q565.2,1412.9 568.7,1419.8 Q572.2,1426.8 567.5,1423.7 Q562.9,1420.6 561.7,1397.3 Q560.6,1374.1 560.2,1346.1Z" fill="none" stroke="#8e7a5c" stroke-width="4.5" stroke-opacity="0.75" stroke-linecap="round" stroke-linejoin="round" filter="url(#c4b)"/><path d="M576.9,1388.0 Q576.9,1371.0 580.7,1374.1 Q584.6,1377.2 586.9,1391.1 Q589.3,1405.1 591.6,1409.8 Q593.9,1414.4 587.7,1420.6 Q581.5,1426.8 579.2,1416.0 Q576.9,1405.1 576.9,1388.0Z" fill="none" stroke="#8e7a5c" stroke-width="4.5" stroke-opacity="0.75" stroke-linecap="round" stroke-linejoin="round" filter="url(#c4b)"/><path d="M570.6,1436.1 Q572.2,1423.7 583.1,1417.5 Q593.9,1411.3 604.8,1405.1 Q615.6,1398.9 623.4,1402.0 Q631.2,1405.1 628.1,1412.9 Q625.0,1420.6 618.7,1428.4 Q612.5,1436.1 608.7,1443.9 Q604.8,1451.6 602.5,1459.4 Q600.1,1467.2 604.0,1474.9 Q607.9,1482.7 615.6,1485.0 Q623.4,1487.3 619.5,1496.6 Q615.6,1505.9 606.3,1513.7 Q597.0,1521.5 592.4,1533.1 Q587.7,1544.7 586.2,1554.0 Q584.6,1563.4 577.6,1563.4 Q570.6,1563.4 573.0,1542.4 Q575.3,1521.5 576.9,1509.8 Q578.4,1498.2 576.9,1482.7 Q575.3,1467.2 572.2,1457.8 Q569.1,1448.5 570.6,1436.1Z" fill="none" stroke="#8e7a5c" stroke-width="4.5" stroke-opacity="0.75" stroke-linecap="round" stroke-linejoin="round" filter="url(#c4b)"/><path d="M627.3,1414.4 Q623.4,1405.1 631.2,1403.2 Q638.9,1401.2 658.3,1398.9 Q677.7,1396.6 697.1,1389.2 Q716.5,1381.8 737.4,1371.7 Q758.4,1361.7 758.4,1383.4 Q758.4,1405.1 745.2,1409.8 Q732.0,1414.4 720.4,1422.2 Q708.7,1429.9 699.4,1439.2 Q690.1,1448.5 683.9,1454.0 Q677.7,1459.4 676.9,1447.8 Q676.2,1436.1 674.6,1423.7 Q673.1,1411.3 663.7,1411.3 Q654.4,1411.3 642.8,1417.5 Q631.2,1423.7 627.3,1414.4Z" fill="none" stroke="#8e7a5c" stroke-width="4.5" stroke-opacity="0.75" stroke-linecap="round" stroke-linejoin="round" filter="url(#c4b)"/><path d="M618.7,1483.5 Q612.5,1479.6 621.8,1474.1 Q631.2,1468.7 642.8,1460.2 Q654.4,1451.6 666.1,1440.8 Q677.7,1429.9 680.0,1440.8 Q682.4,1451.6 676.2,1459.4 Q669.9,1467.2 658.3,1470.3 Q646.7,1473.4 635.8,1480.3 Q625.0,1487.3 618.7,1483.5Z" fill="none" stroke="#8e7a5c" stroke-width="4.5" stroke-opacity="0.75" stroke-linecap="round" stroke-linejoin="round" filter="url(#c4b)"/><path d="M649.0,1395.8 Q643.6,1392.7 660.6,1385.7 Q677.7,1378.7 689.3,1371.0 Q701.0,1363.2 708.7,1355.4 Q716.5,1347.7 721.2,1349.2 Q725.8,1350.8 717.3,1360.9 Q708.7,1371.0 697.1,1378.7 Q685.5,1386.5 669.9,1392.7 Q654.4,1398.9 649.0,1395.8Z" fill="none" stroke="#8e7a5c" stroke-width="4.5" stroke-opacity="0.75" stroke-linecap="round" stroke-linejoin="round" filter="url(#c4b)"/><path d="M746.0,1345.4 Q744.4,1332.2 751.4,1329.8 Q758.4,1327.5 758.4,1345.4 Q758.4,1363.2 753.0,1360.9 Q747.5,1358.5 746.0,1345.4Z" fill="none" stroke="#8e7a5c" stroke-width="4.5" stroke-opacity="0.75" stroke-linecap="round" stroke-linejoin="round" filter="url(#c4b)"/><path d="M482.2,1408.2 Q482.2,1347.7 493.1,1345.4 Q503.9,1343.0 509.4,1353.1 Q514.8,1363.2 516.3,1384.1 Q517.9,1405.1 515.6,1420.6 Q513.2,1436.1 519.4,1443.9 Q525.7,1451.6 520.2,1458.6 Q514.8,1465.6 507.0,1463.3 Q499.3,1461.0 490.7,1464.8 Q482.2,1468.7 482.2,1408.2Z" fill="#dddcd9" filter="url(#c4s)"/><path d="M560.2,1346.1 Q559.8,1318.2 564.4,1318.2 Q569.1,1318.2 570.6,1338.4 Q572.2,1358.5 569.9,1367.9 Q567.5,1377.2 566.4,1395.0 Q565.2,1412.9 568.7,1419.8 Q572.2,1426.8 567.5,1423.7 Q562.9,1420.6 561.7,1397.3 Q560.6,1374.1 560.2,1346.1Z" fill="#dddcd9" filter="url(#c4s)"/><path d="M576.9,1388.0 Q576.9,1371.0 580.7,1374.1 Q584.6,1377.2 586.9,1391.1 Q589.3,1405.1 591.6,1409.8 Q593.9,1414.4 587.7,1420.6 Q581.5,1426.8 579.2,1416.0 Q576.9,1405.1 576.9,1388.0Z" fill="#dddcd9" filter="url(#c4s)"/><path d="M570.6,1436.1 Q572.2,1423.7 583.1,1417.5 Q593.9,1411.3 604.8,1405.1 Q615.6,1398.9 623.4,1402.0 Q631.2,1405.1 628.1,1412.9 Q625.0,1420.6 618.7,1428.4 Q612.5,1436.1 608.7,1443.9 Q604.8,1451.6 602.5,1459.4 Q600.1,1467.2 604.0,1474.9 Q607.9,1482.7 615.6,1485.0 Q623.4,1487.3 619.5,1496.6 Q615.6,1505.9 606.3,1513.7 Q597.0,1521.5 592.4,1533.1 Q587.7,1544.7 586.2,1554.0 Q584.6,1563.4 577.6,1563.4 Q570.6,1563.4 573.0,1542.4 Q575.3,1521.5 576.9,1509.8 Q578.4,1498.2 576.9,1482.7 Q575.3,1467.2 572.2,1457.8 Q569.1,1448.5 570.6,1436.1Z" fill="#dddcd9" filter="url(#c4s)"/><path d="M627.3,1414.4 Q623.4,1405.1 631.2,1403.2 Q638.9,1401.2 658.3,1398.9 Q677.7,1396.6 697.1,1389.2 Q716.5,1381.8 737.4,1371.7 Q758.4,1361.7 758.4,1383.4 Q758.4,1405.1 745.2,1409.8 Q732.0,1414.4 720.4,1422.2 Q708.7,1429.9 699.4,1439.2 Q690.1,1448.5 683.9,1454.0 Q677.7,1459.4 676.9,1447.8 Q676.2,1436.1 674.6,1423.7 Q673.1,1411.3 663.7,1411.3 Q654.4,1411.3 642.8,1417.5 Q631.2,1423.7 627.3,1414.4Z" fill="#dddcd9" filter="url(#c4s)"/><path d="M618.7,1483.5 Q612.5,1479.6 621.8,1474.1 Q631.2,1468.7 642.8,1460.2 Q654.4,1451.6 666.1,1440.8 Q677.7,1429.9 680.0,1440.8 Q682.4,1451.6 676.2,1459.4 Q669.9,1467.2 658.3,1470.3 Q646.7,1473.4 635.8,1480.3 Q625.0,1487.3 618.7,1483.5Z" fill="#dddcd9" filter="url(#c4s)"/><path d="M649.0,1395.8 Q643.6,1392.7 660.6,1385.7 Q677.7,1378.7 689.3,1371.0 Q701.0,1363.2 708.7,1355.4 Q716.5,1347.7 721.2,1349.2 Q725.8,1350.8 717.3,1360.9 Q708.7,1371.0 697.1,1378.7 Q685.5,1386.5 669.9,1392.7 Q654.4,1398.9 649.0,1395.8Z" fill="#e2ded4" filter="url(#c4s)"/><path d="M746.0,1345.4 Q744.4,1332.2 751.4,1329.8 Q758.4,1327.5 758.4,1345.4 Q758.4,1363.2 753.0,1360.9 Q747.5,1358.5 746.0,1345.4Z" fill="#dddcd9" filter="url(#c4s)"/><path d="M703.3,1477.2 Q702.5,1467.2 710.3,1463.3 Q718.0,1459.4 725.8,1463.3 Q733.6,1467.2 735.1,1476.5 Q736.7,1485.8 728.9,1490.4 Q721.2,1495.1 712.6,1491.2 Q704.1,1487.3 703.3,1477.2Z" fill="#d6d4ce" filter="url(#c4s)"/><path d="M649.8,1521.5 Q651.3,1513.7 660.6,1510.6 Q669.9,1507.5 677.7,1512.9 Q685.5,1518.4 688.6,1527.7 Q691.7,1537.0 684.7,1544.0 Q677.7,1550.9 668.4,1547.8 Q659.1,1544.7 653.7,1537.0 Q648.2,1529.2 649.8,1521.5Z" fill="#d8d6d0" filter="url(#c4s)"/><path d="M686.2,1487.3 Q683.9,1476.5 688.6,1471.8 Q693.2,1467.2 696.3,1477.2 Q699.4,1487.3 697.1,1497.4 Q694.8,1507.5 691.7,1502.8 Q688.6,1498.2 686.2,1487.3Z" fill="#e8e7e4" filter="url(#c4s)"/><path d="M740.5,1437.7 Q738.2,1426.8 743.6,1425.3 Q749.1,1423.7 750.6,1434.6 Q752.2,1445.4 747.5,1447.0 Q742.9,1448.5 740.5,1437.7Z" fill="#e2e1dd" filter="url(#c4s)"/><path d="M614.9,1542.4 Q615.6,1521.5 620.3,1516.0 Q625.0,1510.6 626.9,1523.8 Q628.8,1537.0 626.1,1550.2 Q623.4,1563.4 618.7,1563.4 Q614.1,1563.4 614.9,1542.4Z" fill="#e9e8e5" filter="url(#c4s)"/><path d="M497.7,1540.1 Q494.6,1530.8 503.9,1526.1 Q513.2,1521.5 514.0,1528.4 Q514.8,1535.4 507.8,1542.4 Q500.8,1549.4 497.7,1540.1Z" fill="#e2e0da" filter="url(#c4s)"/><path d="M567.9,1541.6 Q566.8,1529.2 569.5,1521.5 Q572.2,1513.7 573.8,1525.3 Q575.3,1537.0 572.2,1545.5 Q569.1,1554.0 567.9,1541.6Z" fill="#e0ded8" filter="url(#c4s)"/><path d="M738.2,1552.5 Q736.7,1541.6 747.5,1537.0 Q758.4,1532.3 758.4,1547.8 Q758.4,1563.4 749.1,1563.4 Q739.8,1563.4 738.2,1552.5Z" fill="#deddd9" filter="url(#c4s)"/><path d="M541.9,1350.8 Q541.9,1343.0 545.0,1339.9 Q548.1,1336.8 550.1,1346.9 Q552.0,1357.0 549.3,1361.7 Q546.6,1366.3 544.3,1362.4 Q541.9,1358.5 541.9,1350.8Z" fill="#eae9e6" filter="url(#c4s)"/><path d="M607.5,1339.2 Q607.1,1318.2 611.8,1318.2 Q616.4,1318.2 615.6,1334.5 Q614.9,1350.8 611.4,1355.4 Q607.9,1360.1 607.5,1339.2Z" fill="#e6e5e1" filter="url(#c4s)"/><path d="M528.0,1499.0 Q527.2,1490.4 530.3,1488.9 Q533.4,1487.3 534.2,1496.6 Q535.0,1505.9 531.9,1506.7 Q528.8,1507.5 528.0,1499.0Z" fill="#d6d0c4" filter="url(#c4s)"/><path d="M622.6,1455.5 Q620.3,1451.6 629.6,1443.9 Q638.9,1436.1 648.2,1430.7 Q657.5,1425.3 652.9,1432.2 Q648.2,1439.2 636.6,1449.3 Q625.0,1459.4 622.6,1455.5Z" fill="#cdc4b4" filter="url(#c4b)"/><rect x="713.4" y="1536.2" width="24.8" height="7.6" fill="#000"/></g><rect x="484.80" y="1318.80" width="270.30" height="235.80" fill="none" stroke="#000" stroke-width="2.8"/>
<g clip-path="url(#d1clip)"><rect x="1452.0" y="653.8" width="258.0" height="200.2" fill="#f0f3f8"/><path d="M1449.6,651.6 L1530.8,651.6 L1570.0,671.2 L1605.0,685.2 L1617.6,704.8 L1642.8,704.8 L1645.6,735.6 L1665.2,735.6 L1662.4,760.8 L1642.8,786.0 L1662.4,791.6 L1682.0,800.0 L1710.0,791.6 L1710.0,856.0 L1626.0,856.0 L1584.0,828.0 L1578.4,804.2 L1542.0,794.4 L1502.8,774.8 L1474.8,760.8 L1449.6,752.4Z" fill="#d2dce9" filter="url(#d1t)"/><path d="M1449.6,739.8 Q1449.6,730.0 1460.8,731.4 Q1472.0,732.8 1473.4,739.8 Q1474.8,746.8 1467.8,749.6 Q1460.8,752.4 1455.2,751.0 Q1449.6,749.6 1449.6,739.8Z" fill="#b4c6de" filter="url(#d1t)"/><path d="M1583.3,807.0 Q1584.0,800.0 1598.0,797.2 Q1612.0,794.4 1616.2,811.2 Q1620.4,828.0 1609.2,830.1 Q1598.0,832.2 1590.3,823.1 Q1582.6,814.0 1583.3,807.0Z" fill="#bccce1" filter="url(#d1t)"/><path d="M1501.4,697.1 Q1500.0,681.0 1511.2,684.5 Q1522.4,688.0 1521.0,703.4 Q1519.6,718.8 1511.2,716.0 Q1502.8,713.2 1501.4,697.1Z" fill="#becee2" filter="url(#d1t)"/><path d="M1628.1,830.1 Q1623.2,807.0 1665.2,802.1 Q1707.2,797.2 1707.2,825.2 Q1707.2,853.2 1670.1,853.2 Q1633.0,853.2 1628.1,830.1Z" fill="#c4d0e2" filter="url(#d1t)"/><path d="M1449.6,772.0 L1500.0,780.4 L1542.0,800.0 L1577.0,814.0 L1584.0,856.0 L1449.6,856.0Z" fill="#eceff5" filter="url(#d1t)"/><path d="M1553.2,660.0 Q1533.6,651.6 1621.8,651.6 Q1710.0,651.6 1710.0,718.8 Q1710.0,786.0 1697.4,790.2 Q1684.8,794.4 1676.4,790.2 Q1668.0,786.0 1669.4,760.8 Q1670.8,735.6 1659.6,718.8 Q1648.4,702.0 1628.8,692.2 Q1609.2,682.4 1591.0,675.4 Q1572.8,668.4 1553.2,660.0Z" fill="#fafafc" filter="url(#c2b2)"/><path d="M1540.6,767.8 Q1539.2,760.8 1544.8,759.4 Q1550.4,758.0 1551.8,765.0 Q1553.2,772.0 1547.6,773.4 Q1542.0,774.8 1540.6,767.8Z" fill="#fafafc" filter="url(#c2b)"/><rect x="1452.0" y="653.8" width="258.0" height="200.2" fill="#000000" filter="url(#d1n)" opacity="0.4"/><rect x="1675" y="841.7" width="25.5" height="7.2" fill="#000"/></g>
<g clip-path="url(#d2clip)"><rect x="1712.0" y="654.0" width="259.0" height="199.5" fill="#faf7f9"/><path d="M1830.0,660.0 L1865.0,654.4 L1970.0,654.4 L1970.0,718.8 L1935.0,730.0 L1900.0,746.8 L1872.0,765.0 L1858.0,786.0 L1855.2,814.0 L1860.8,856.0 L1760.0,856.0 L1746.0,828.0 L1748.8,800.0 L1768.4,793.0 L1765.6,772.0 L1774.0,752.4 L1764.2,735.6 L1782.4,718.8 L1790.8,699.2 L1816.0,678.2Z" fill="#dcdae0" filter="url(#d2t)"/><path d="M1970.0,699.2 L1935.0,716.0 L1900.0,732.8 L1869.2,755.2 L1851.0,779.0 L1844.0,807.0 L1849.6,856.0 L1862.2,856.0 L1859.4,814.0 L1863.6,786.0 L1879.0,766.4 L1907.0,748.2 L1942.0,731.4 L1970.0,720.2Z" fill="#c2c2d4" filter="url(#d2t)"/><path d="M1886.0,685.2 Q1872.0,654.4 1914.0,654.4 Q1956.0,654.4 1949.0,678.2 Q1942.0,702.0 1921.0,709.0 Q1900.0,716.0 1886.0,685.2Z" fill="#e2dcdf" filter="url(#d2t)"/><path d="M1970.0,724.4 L1942.0,735.6 L1907.0,752.4 L1880.4,770.6 L1866.4,788.8 L1862.2,814.0 L1865.0,856.0 L1930.8,856.0 L1942.0,821.0 L1956.0,786.0 L1970.0,772.0Z" fill="#fcfafc" filter="url(#c2b)"/><path d="M1970.0,774.8 L1956.0,793.0 L1944.8,828.0 L1935.0,856.0 L1970.0,856.0Z" fill="#c4c2d4" filter="url(#d2t)"/><g filter="url(#soft)"><ellipse cx="1897.2" cy="808.4" rx="2.0" ry="2.2" fill="#bebaba"/></g><rect x="1712.0" y="654.0" width="259.0" height="199.5" fill="#000000" filter="url(#d2n)" opacity="0.3"/><rect x="1937.2" y="842" width="25.8" height="7" fill="#000"/></g>
<g clip-path="url(#d3clip)"><rect x="1452.0" y="857.0" width="258.0" height="200.0" fill="#fafafa"/><path d="M1449.6,856.4 L1502.8,862.0 L1528.0,878.8 L1556.0,897.0 L1577.0,904.0 L1598.0,897.0 L1614.8,876.0 L1620.4,856.4 L1710.0,856.4 L1710.0,954.4 L1698.8,974.0 L1675.0,976.8 L1668.0,990.8 L1647.0,995.0 L1633.0,1004.8 L1619.0,1007.6 L1598.0,1009.0 L1570.0,1004.8 L1542.0,1009.0 L1522.4,999.2 L1507.0,988.0 L1486.0,962.8 L1469.2,954.4 L1458.0,943.2 L1449.6,937.6Z" fill="#d3dae7" filter="url(#d3t)"/><path d="M1479.0,864.8 Q1528.0,887.2 1545.5,897.0 Q1563.0,906.8 1577.0,906.8 Q1591.0,906.8 1601.5,897.0 Q1612.0,887.2 1619.0,874.6 L1626.0,862.0" fill="none" stroke="#e2e2e4" stroke-width="9" stroke-opacity="0.9" stroke-linecap="round" stroke-linejoin="round" filter="url(#c2b2)"/><path d="M1449.6,894.2 Q1449.6,856.4 1462.2,856.4 Q1474.8,856.4 1477.6,873.2 Q1480.4,890.0 1476.2,911.0 Q1472.0,932.0 1465.0,936.2 Q1458.0,940.4 1453.8,936.2 Q1449.6,932.0 1449.6,894.2Z" fill="#a0b8dc" filter="url(#d3t)"/><path d="M1668.0,883.7 Q1654.0,856.4 1682.0,856.4 Q1710.0,856.4 1710.0,887.2 Q1710.0,918.0 1696.0,914.5 Q1682.0,911.0 1668.0,883.7Z" fill="#c4cee2" filter="url(#d3t)"/><path d="M1521.0,963.5 Q1514.0,939.0 1535.0,942.5 Q1556.0,946.0 1584.0,942.5 Q1612.0,939.0 1619.0,956.5 Q1626.0,974.0 1598.0,984.5 Q1570.0,995.0 1549.0,991.5 Q1528.0,988.0 1521.0,963.5Z" fill="#c6d0e2" filter="url(#d3t)"/><g filter="url(#soft)"><ellipse cx="1579.8" cy="968.4" rx="1.4" ry="5.6" transform="rotate(10 1579.8 968.4)" fill="#cdaa8c" opacity="0.8"/></g><g filter="url(#soft)"><circle cx="1612.7" cy="1044.1" r="1.0" fill="#c8c4c8" opacity="0.7"/><circle cx="1695.2" cy="1044.0" r="1.1" fill="#c8c4c8" opacity="0.7"/><circle cx="1459.5" cy="1031.4" r="1.1" fill="#c8c4c8" opacity="0.7"/><circle cx="1619.4" cy="1051.4" r="0.6" fill="#c8c4c8" opacity="0.7"/><circle cx="1573.0" cy="1021.3" r="0.8" fill="#c8c4c8" opacity="0.7"/><circle cx="1600.1" cy="1010.6" r="0.6" fill="#c8c4c8" opacity="0.7"/><circle cx="1524.1" cy="1052.2" r="1.0" fill="#c8c4c8" opacity="0.7"/><circle cx="1493.2" cy="1046.7" r="0.6" fill="#c8c4c8" opacity="0.7"/><circle cx="1611.3" cy="1015.8" r="0.5" fill="#c8c4c8" opacity="0.7"/><circle cx="1676.8" cy="1019.6" r="0.6" fill="#c8c4c8" opacity="0.7"/><circle cx="1705.5" cy="1050.1" r="0.7" fill="#c8c4c8" opacity="0.7"/><circle cx="1700.1" cy="1034.8" r="0.9" fill="#c8c4c8" opacity="0.7"/><circle cx="1504.8" cy="1053.3" r="0.9" fill="#c8c4c8" opacity="0.7"/><circle cx="1701.4" cy="1051.1" r="0.7" fill="#c8c4c8" opacity="0.7"/><circle cx="1545.2" cy="1017.6" r="0.6" fill="#c8c4c8" opacity="0.7"/><circle cx="1468.8" cy="1023.9" r="0.9" fill="#c8c4c8" opacity="0.7"/><circle cx="1452.9" cy="1041.2" r="0.7" fill="#c8c4c8" opacity="0.7"/><circle cx="1532.0" cy="1047.7" r="0.8" fill="#c8c4c8" opacity="0.7"/><circle cx="1533.5" cy="1032.1" r="0.9" fill="#c8c4c8" opacity="0.7"/><circle cx="1466.7" cy="1054.9" r="0.5" fill="#c8c4c8" opacity="0.7"/><circle cx="1645.4" cy="1048.9" r="0.5" fill="#c8c4c8" opacity="0.7"/><circle cx="1655.2" cy="1026.8" r="0.8" fill="#c8c4c8" opacity="0.7"/><circle cx="1454.3" cy="1012.1" r="0.6" fill="#c8c4c8" opacity="0.7"/><circle cx="1698.4" cy="1019.0" r="1.0" fill="#c8c4c8" opacity="0.7"/><circle cx="1691.9" cy="1053.3" r="0.7" fill="#c8c4c8" opacity="0.7"/><circle cx="1543.5" cy="1034.1" r="1.0" fill="#c8c4c8" opacity="0.7"/><circle cx="1479.9" cy="1044.4" r="1.0" fill="#c8c4c8" opacity="0.7"/><circle cx="1673.8" cy="1011.7" r="1.1" fill="#c8c4c8" opacity="0.7"/><circle cx="1475.5" cy="1025.7" r="0.9" fill="#c8c4c8" opacity="0.7"/><circle cx="1688.9" cy="1025.6" r="1.1" fill="#c8c4c8" opacity="0.7"/><circle cx="1592.6" cy="1024.4" r="0.7" fill="#c8c4c8" opacity="0.7"/><circle cx="1497.8" cy="1013.6" r="0.6" fill="#c8c4c8" opacity="0.7"/><circle cx="1629.8" cy="1055.8" r="0.6" fill="#c8c4c8" opacity="0.7"/><circle cx="1464.5" cy="1055.4" r="0.8" fill="#c8c4c8" opacity="0.7"/><circle cx="1556.7" cy="1020.9" r="0.9" fill="#c8c4c8" opacity="0.7"/><circle cx="1665.2" cy="1031.0" r="0.8" fill="#c8c4c8" opacity="0.7"/><circle cx="1466.4" cy="1052.1" r="0.5" fill="#c8c4c8" opacity="0.7"/><circle cx="1579.3" cy="1048.6" r="0.6" fill="#c8c4c8" opacity="0.7"/><circle cx="1640.8" cy="1053.7" r="0.9" fill="#c8c4c8" opacity="0.7"/><circle cx="1655.3" cy="1014.9" r="0.8" fill="#c8c4c8" opacity="0.7"/><circle cx="1490.5" cy="1048.9" r="0.7" fill="#c8c4c8" opacity="0.7"/><circle cx="1568.9" cy="1056.0" r="1.0" fill="#c8c4c8" opacity="0.7"/><circle cx="1703.8" cy="1030.9" r="0.8" fill="#c8c4c8" opacity="0.7"/><circle cx="1640.2" cy="1032.0" r="0.7" fill="#c8c4c8" opacity="0.7"/><circle cx="1556.2" cy="1016.7" r="0.7" fill="#c8c4c8" opacity="0.7"/><circle cx="1707.0" cy="1054.2" r="0.9" fill="#c8c4c8" opacity="0.7"/><circle cx="1580.8" cy="1025.6" r="0.6" fill="#c8c4c8" opacity="0.7"/><circle cx="1522.3" cy="1046.0" r="1.0" fill="#c8c4c8" opacity="0.7"/><circle cx="1545.2" cy="1046.2" r="1.0" fill="#c8c4c8" opacity="0.7"/><circle cx="1631.2" cy="1040.5" r="1.0" fill="#c8c4c8" opacity="0.7"/><circle cx="1545.8" cy="1042.4" r="0.7" fill="#c8c4c8" opacity="0.7"/><circle cx="1577.3" cy="1045.4" r="0.9" fill="#c8c4c8" opacity="0.7"/><circle cx="1527.8" cy="1053.5" r="0.9" fill="#c8c4c8" opacity="0.7"/><circle cx="1601.8" cy="1010.5" r="0.8" fill="#c8c4c8" opacity="0.7"/><circle cx="1516.7" cy="1040.9" r="0.8" fill="#c8c4c8" opacity="0.7"/><circle cx="1662.7" cy="1039.8" r="1.0" fill="#c8c4c8" opacity="0.7"/><circle cx="1541.8" cy="1039.6" r="0.9" fill="#c8c4c8" opacity="0.7"/><circle cx="1665.7" cy="1026.1" r="1.0" fill="#c8c4c8" opacity="0.7"/><circle cx="1676.4" cy="1041.7" r="1.1" fill="#c8c4c8" opacity="0.7"/><circle cx="1698.8" cy="1033.8" r="0.8" fill="#c8c4c8" opacity="0.7"/></g><rect x="1452.0" y="857.0" width="258.0" height="200.0" fill="#000000" filter="url(#d3n)" opacity="0.35"/><rect x="1675" y="1045.1" width="25.5" height="7.2" fill="#000"/></g>
<g clip-path="url(#d4clip)"><rect x="1712.0" y="857.5" width="259.0" height="199.5" fill="#f6f3f5"/><path d="M1712.4,856.4 L1970.0,856.4 L1970.0,1055.2 L1886.0,1055.2 L1872.0,1030.0 L1837.0,1037.0 L1816.0,1023.0 L1788.0,1016.0 L1771.2,988.0 L1746.0,981.0 L1718.0,967.0 L1712.4,946.0Z" fill="#d5d5e0" filter="url(#d4t)"/><path d="M1798.5,900.5 Q1802.0,883.0 1823.0,876.0 Q1844.0,869.0 1872.0,871.1 Q1900.0,873.2 1917.5,885.1 Q1935.0,897.0 1938.5,918.0 Q1942.0,939.0 1928.0,953.0 Q1914.0,967.0 1896.5,977.5 Q1879.0,988.0 1858.0,984.5 Q1837.0,981.0 1823.0,967.0 Q1809.0,953.0 1802.0,935.5 Q1795.0,918.0 1798.5,900.5Z" fill="#ceced6" filter="url(#d4t)"/><path d="M1712.4,974.0 L1746.0,988.0 L1771.2,999.2 L1788.0,1023.0 L1816.0,1032.8 L1818.8,1055.2 L1712.4,1055.2Z" fill="#f6f3f5" filter="url(#c2b2)"/><path d="M1949.0,948.1 Q1949.0,939.0 1959.5,939.0 Q1970.0,939.0 1970.0,949.5 Q1970.0,960.0 1959.5,958.6 Q1949.0,957.2 1949.0,948.1Z" fill="#ececea" filter="url(#c2b2)"/><ellipse cx="1802.0" cy="1048.2" rx="14.0" ry="5.6" transform="rotate(10 1802.0 1048.2)" fill="#eceaee" stroke="#ccccd8" stroke-width="1.5" opacity="0.7" filter="url(#soft)"/><ellipse cx="1827.2" cy="1028.6" rx="12.6" ry="5.6" transform="rotate(20 1827.2 1028.6)" fill="#eceaee" stroke="#ccccd8" stroke-width="1.5" opacity="0.7" filter="url(#soft)"/><ellipse cx="1782.4" cy="1007.6" rx="9.8" ry="4.9" transform="rotate(30 1782.4 1007.6)" fill="#eceaee" stroke="#ccccd8" stroke-width="1.5" opacity="0.7" filter="url(#soft)"/><ellipse cx="1841.2" cy="995.0" rx="11.2" ry="5.6" transform="rotate(-30 1841.2 995.0)" fill="#eceaee" stroke="#ccccd8" stroke-width="1.5" opacity="0.7" filter="url(#soft)"/><ellipse cx="1881.8" cy="1028.6" rx="11.2" ry="4.2" transform="rotate(-20 1881.8 1028.6)" fill="#eceaee" stroke="#ccccd8" stroke-width="1.5" opacity="0.7" filter="url(#soft)"/><ellipse cx="1886.0" cy="1011.8" rx="12.6" ry="4.2" transform="rotate(-25 1886.0 1011.8)" fill="#eceaee" stroke="#ccccd8" stroke-width="1.5" opacity="0.7" filter="url(#soft)"/><g filter="url(#soft)"><ellipse cx="1893.7" cy="938.3" rx="1.7" ry="1.7" fill="#3c3c46"/><ellipse cx="1806.2" cy="969.8" rx="1.4" ry="2.0" fill="#6e6e82"/><ellipse cx="1862.2" cy="1034.2" rx="2.0" ry="1.4" fill="#9696a5"/></g><rect x="1712.0" y="857.5" width="259.0" height="199.5" fill="#000000" filter="url(#d4n)" opacity="0.35"/><rect x="1937.2" y="1045.1" width="25.8" height="6.8" fill="#000"/></g><path fill="#000" fill-rule="evenodd" d="M1449.9,651.6H1714.6V1059.4H1449.9Z M1454.1,656.1V851.9H1707.9V656.1Z M1453.9,859.4V1055.2H1707.9V859.4Z"/><path fill="#000" fill-rule="evenodd" d="M1712,653H1972.2V854.6H1712Z M1714.6,655.8V851.9H1969.2V655.8Z"/><path fill="#000" fill-rule="evenodd" d="M1712,856.2H1972.4V1058H1712Z M1714.6,859.3V1055H1969.4V859.3Z"/>
<text x="4.0" y="29.200000000000003" font-size="46" font-weight="bold" fill="#8a8a8a" style="stroke:#8a8a8a;stroke-width:1.0px" filter="url(#lblblur)">a</text>
<text x="2.4" y="27.6" font-size="46" font-weight="bold" fill="#000" style="stroke:#000;stroke-width:1.0px">a</text>
<text x="316" y="36.2" font-size="29.8" text-anchor="middle" font-weight="normal" fill="#000">Control</text>
<text x="614.5" y="36.2" font-size="29.5" text-anchor="middle" font-weight="normal" fill="#000">shPRDM1</text>
<text x="136.5" y="182.6" font-size="29.5" text-anchor="end" font-weight="normal" fill="#000">Vehicl</text>
<text x="136.5" y="218.4" font-size="29.5" text-anchor="end" font-weight="normal" fill="#000">e</text>
<text x="135.5" y="407" font-size="29.5" text-anchor="end" font-weight="normal" fill="#000">5-FU</text>
<rect x="934.70" y="5.70" width="49.60" height="28.10" fill="#d9d9d9" stroke="#000" stroke-width="5.4"/>
<rect x="934.70" y="52.70" width="49.60" height="27.60" fill="#fff" stroke="#000" stroke-width="5.4"/>
<rect x="934.70" y="105.20" width="49.60" height="28.30" fill="#000" stroke="#000" stroke-width="5.4"/>
<text x="997" y="30.5" font-size="30.3" text-anchor="start" font-weight="normal" fill="#000">Adh HCT-8 WT</text>
<text x="997" y="80" font-size="30.3" text-anchor="start" font-weight="normal" fill="#000">Sph HCT-8 WT</text>
<text x="997" y="131" font-size="30.3" text-anchor="start" font-weight="normal" fill="#000">Sph HCT-8 shPRDM1</text>
<rect x="951.40" y="426.52" width="31.40" height="69.48" fill="#d9d9d9" stroke="#000" stroke-width="5.4"/>
<rect x="995.70" y="412.68" width="30.60" height="83.32" fill="#fff" stroke="#000" stroke-width="5.4"/>
<rect x="1039.70" y="468.03" width="30.60" height="27.97" fill="#000" stroke="#000" stroke-width="5.4"/>
<rect x="1119.00" y="197.63" width="31.30" height="298.37" fill="#d9d9d9" stroke="#000" stroke-width="5.4"/>
<rect x="1163.20" y="399.59" width="31.10" height="96.41" fill="#fff" stroke="#000" stroke-width="5.4"/>
<rect x="1207.20" y="222.69" width="31.30" height="273.31" fill="#000" stroke="#000" stroke-width="5.4"/>
<line x1="921.3" y1="119.8" x2="921.3" y2="498.6" stroke="#000" stroke-width="5.4"/>
<line x1="909.5" y1="496" x2="1271" y2="496" stroke="#000" stroke-width="5.4"/>
<line x1="909.5" y1="496.0" x2="921.3" y2="496.0" stroke="#000" stroke-width="5.2"/>
<text x="904" y="506.6" font-size="29.6" text-anchor="end" font-weight="normal" fill="#000">0</text>
<line x1="909.5" y1="421.2" x2="921.3" y2="421.2" stroke="#000" stroke-width="5.2"/>
<text x="904" y="431.8" font-size="29.6" text-anchor="end" font-weight="normal" fill="#000">20</text>
<line x1="909.5" y1="346.4" x2="921.3" y2="346.4" stroke="#000" stroke-width="5.2"/>
<text x="904" y="357.0" font-size="29.6" text-anchor="end" font-weight="normal" fill="#000">40</text>
<line x1="909.5" y1="271.6" x2="921.3" y2="271.6" stroke="#000" stroke-width="5.2"/>
<text x="904" y="282.20000000000005" font-size="29.6" text-anchor="end" font-weight="normal" fill="#000">60</text>
<line x1="909.5" y1="196.79999999999995" x2="921.3" y2="196.79999999999995" stroke="#000" stroke-width="5.2"/>
<text x="904" y="207.39999999999995" font-size="29.6" text-anchor="end" font-weight="normal" fill="#000">80</text>
<line x1="909.5" y1="122.0" x2="921.3" y2="122.0" stroke="#000" stroke-width="5.2"/>
<text x="904" y="132.6" font-size="29.6" text-anchor="end" font-weight="normal" fill="#000">100</text>
<line x1="1010.9" y1="496" x2="1010.9" y2="508" stroke="#000" stroke-width="5.2"/>
<line x1="1178.8" y1="496" x2="1178.8" y2="508" stroke="#000" stroke-width="5.2"/>
<text x="1010.5" y="540.3" font-size="31.1" text-anchor="middle" font-weight="normal" fill="#000">DMSO</text>
<text x="1178.6" y="540.3" font-size="31.1" text-anchor="middle" font-weight="normal" fill="#000">5-FU</text>
<text x="832.8" y="308" font-size="36" text-anchor="middle" font-weight="normal" fill="#000" transform="rotate(-90 832.8 308)">% of apoptotic cells</text>
<circle cx="955.5" cy="428.0" r="6.7" fill="none" stroke="#f0821e" stroke-width="3.2"/>
<circle cx="966.0" cy="417.5" r="6.7" fill="none" stroke="#f0821e" stroke-width="3.2"/>
<circle cx="980.0" cy="422.5" r="6.7" fill="none" stroke="#f0821e" stroke-width="3.2"/>
<line x1="967.1" y1="418.5" x2="967.1" y2="425.5" stroke="#000" stroke-width="2.6"/>
<line x1="959.1" y1="418.5" x2="975.1" y2="418.5" stroke="#000" stroke-width="2.8"/>
<line x1="959.1" y1="425.5" x2="975.1" y2="425.5" stroke="#000" stroke-width="2.8"/>
<text x="967.1" y="399.5" font-size="34.5" text-anchor="middle" font-weight="normal" fill="#000">a</text>
<circle cx="998.5" cy="410.0" r="6.7" fill="none" stroke="#f0821e" stroke-width="3.2"/>
<circle cx="1010.5" cy="409.5" r="6.7" fill="none" stroke="#f0821e" stroke-width="3.2"/>
<circle cx="1023.5" cy="410.0" r="6.7" fill="none" stroke="#f0821e" stroke-width="3.2"/>
<line x1="1011.0" y1="408" x2="1011.0" y2="411.5" stroke="#000" stroke-width="2.6"/>
<line x1="1003.0" y1="408" x2="1019.0" y2="408" stroke="#000" stroke-width="2.8"/>
<line x1="1003.0" y1="411.5" x2="1019.0" y2="411.5" stroke="#000" stroke-width="2.8"/>
<text x="1011.0" y="386.5" font-size="34.5" text-anchor="middle" font-weight="normal" fill="#000">b</text>
<circle cx="1042.0" cy="465.5" r="6.7" fill="none" stroke="#f0821e" stroke-width="3.2"/>
<circle cx="1054.5" cy="464.5" r="6.7" fill="none" stroke="#f0821e" stroke-width="3.2"/>
<circle cx="1067.0" cy="465.5" r="6.7" fill="none" stroke="#f0821e" stroke-width="3.2"/>
<line x1="1055.0" y1="463.5" x2="1055.0" y2="467" stroke="#000" stroke-width="2.6"/>
<line x1="1047.0" y1="463.5" x2="1063.0" y2="463.5" stroke="#000" stroke-width="2.8"/>
<line x1="1047.0" y1="467" x2="1063.0" y2="467" stroke="#000" stroke-width="2.8"/>
<text x="1055.0" y="445.5" font-size="34.5" text-anchor="middle" font-weight="normal" fill="#000">c</text>
<circle cx="1124.0" cy="199.2" r="6.7" fill="none" stroke="#f0821e" stroke-width="3.2"/>
<circle cx="1134.8" cy="191.2" r="6.7" fill="none" stroke="#f0821e" stroke-width="3.2"/>
<circle cx="1146.8" cy="192.0" r="6.7" fill="none" stroke="#f0821e" stroke-width="3.2"/>
<line x1="1134.65" y1="190.8" x2="1134.65" y2="198.4" stroke="#000" stroke-width="2.6"/>
<line x1="1126.65" y1="190.8" x2="1142.65" y2="190.8" stroke="#000" stroke-width="2.8"/>
<line x1="1126.65" y1="198.4" x2="1142.65" y2="198.4" stroke="#000" stroke-width="2.8"/>
<text x="1134.65" y="174" font-size="34.5" text-anchor="middle" font-weight="normal" fill="#000">d</text>
<circle cx="1166.8" cy="397.6" r="6.7" fill="none" stroke="#f0821e" stroke-width="3.2"/>
<circle cx="1178.8" cy="395.6" r="6.7" fill="none" stroke="#f0821e" stroke-width="3.2"/>
<circle cx="1190.8" cy="396.0" r="6.7" fill="none" stroke="#f0821e" stroke-width="3.2"/>
<line x1="1178.75" y1="395" x2="1178.75" y2="398.5" stroke="#000" stroke-width="2.6"/>
<line x1="1170.75" y1="395" x2="1186.75" y2="395" stroke="#000" stroke-width="2.8"/>
<line x1="1170.75" y1="398.5" x2="1186.75" y2="398.5" stroke="#000" stroke-width="2.8"/>
<text x="1178.75" y="382" font-size="34.5" text-anchor="middle" font-weight="normal" fill="#000">e</text>
<circle cx="1212.0" cy="222.4" r="6.7" fill="none" stroke="#f0821e" stroke-width="3.2"/>
<circle cx="1222.4" cy="219.2" r="6.7" fill="none" stroke="#f0821e" stroke-width="3.2"/>
<circle cx="1233.6" cy="220.4" r="6.7" fill="none" stroke="#f0821e" stroke-width="3.2"/>
<line x1="1222.85" y1="219.2" x2="1222.85" y2="222.6" stroke="#000" stroke-width="2.6"/>
<line x1="1214.85" y1="219.2" x2="1230.85" y2="219.2" stroke="#000" stroke-width="2.8"/>
<line x1="1214.85" y1="222.6" x2="1230.85" y2="222.6" stroke="#000" stroke-width="2.8"/>
<text x="1222.85" y="186.6" font-size="34.5" text-anchor="middle" font-weight="normal" fill="#000">f</text>
<text x="1297.8999999999999" y="39.2" font-size="46" font-weight="bold" fill="#8a8a8a" style="stroke:#8a8a8a;stroke-width:1.0px" filter="url(#lblblur)">b</text>
<text x="1296.3" y="37.6" font-size="46" font-weight="bold" fill="#000" style="stroke:#000;stroke-width:1.0px">b</text>
<line x1="1459.3" y1="56.6" x2="1459.3" y2="447.9" stroke="#333" stroke-width="1.3"/>
<line x1="1459.3" y1="447.9" x2="1980" y2="447.9" stroke="#333" stroke-width="1.3"/>
<line x1="1454.3" y1="447.9" x2="1459.3" y2="447.9" stroke="#333" stroke-width="1.3"/>
<text x="1442.5" y="455.5" font-size="21" text-anchor="end" font-weight="normal" fill="#000">0</text>
<line x1="1526.4" y1="447.9" x2="1526.4" y2="452.9" stroke="#333" stroke-width="1.3"/>
<text x="1526.4" y="487.5" font-size="21" text-anchor="middle" font-weight="normal" fill="#000">0</text>
<line x1="1454.3" y1="382.67999999999995" x2="1459.3" y2="382.67999999999995" stroke="#333" stroke-width="1.3"/>
<text x="1442.5" y="390.28" font-size="21" text-anchor="end" font-weight="normal" fill="#000">20</text>
<line x1="1601.96" y1="447.9" x2="1601.96" y2="452.9" stroke="#333" stroke-width="1.3"/>
<text x="1601.96" y="487.5" font-size="21" text-anchor="middle" font-weight="normal" fill="#000">20</text>
<line x1="1454.3" y1="317.46" x2="1459.3" y2="317.46" stroke="#333" stroke-width="1.3"/>
<text x="1442.5" y="325.06" font-size="21" text-anchor="end" font-weight="normal" fill="#000">40</text>
<line x1="1677.52" y1="447.9" x2="1677.52" y2="452.9" stroke="#333" stroke-width="1.3"/>
<text x="1677.52" y="487.5" font-size="21" text-anchor="middle" font-weight="normal" fill="#000">40</text>
<line x1="1454.3" y1="252.23999999999998" x2="1459.3" y2="252.23999999999998" stroke="#333" stroke-width="1.3"/>
<text x="1442.5" y="259.84" font-size="21" text-anchor="end" font-weight="normal" fill="#000">60</text>
<line x1="1753.0800000000002" y1="447.9" x2="1753.0800000000002" y2="452.9" stroke="#333" stroke-width="1.3"/>
<text x="1753.0800000000002" y="487.5" font-size="21" text-anchor="middle" font-weight="normal" fill="#000">60</text>
<line x1="1454.3" y1="187.01999999999998" x2="1459.3" y2="187.01999999999998" stroke="#333" stroke-width="1.3"/>
<text x="1442.5" y="194.61999999999998" font-size="21" text-anchor="end" font-weight="normal" fill="#000">80</text>
<line x1="1828.64" y1="447.9" x2="1828.64" y2="452.9" stroke="#333" stroke-width="1.3"/>
<text x="1828.64" y="487.5" font-size="21" text-anchor="middle" font-weight="normal" fill="#000">80</text>
<line x1="1454.3" y1="121.79999999999995" x2="1459.3" y2="121.79999999999995" stroke="#333" stroke-width="1.3"/>
<text x="1442.5" y="129.39999999999995" font-size="21" text-anchor="end" font-weight="normal" fill="#000">100</text>
<line x1="1904.2" y1="447.9" x2="1904.2" y2="452.9" stroke="#333" stroke-width="1.3"/>
<text x="1904.2" y="487.5" font-size="21" text-anchor="middle" font-weight="normal" fill="#000">100</text>
<line x1="1454.3" y1="56.579999999999984" x2="1459.3" y2="56.579999999999984" stroke="#333" stroke-width="1.3"/>
<text x="1442.5" y="64.17999999999998" font-size="21" text-anchor="end" font-weight="normal" fill="#000">120</text>
<line x1="1979.7600000000002" y1="447.9" x2="1979.7600000000002" y2="452.9" stroke="#333" stroke-width="1.3"/>
<text x="1979.7600000000002" y="487.5" font-size="21" text-anchor="middle" font-weight="normal" fill="#000">120</text>
<text x="1717.7" y="536" font-size="29.5" text-anchor="middle" font-weight="normal" fill="#000">PRDM1</text>
<text x="1719.5" y="572" font-size="29.2" text-anchor="middle" font-weight="normal" fill="#000">(% of Max expression)</text>
<text x="1354" y="254" font-size="31" text-anchor="middle" font-weight="normal" fill="#000" transform="rotate(-90 1354 254)">SOX9</text>
<text x="1389" y="257" font-size="30" text-anchor="middle" font-weight="normal" fill="#000" transform="rotate(-90 1389 257)">(% of Max expression)</text>
<text x="1517.5" y="184.5" font-size="30.1" text-anchor="start" font-weight="normal" fill="#000">Pearson r = 0.6711</text>
<line x1="1459.3" y1="434.8" x2="1980" y2="203.8" stroke="#444" stroke-width="1.2"/>
<circle cx="1819.2" cy="220.2" r="4.2" fill="#000" stroke="none" stroke-width="0"/>
<circle cx="1802.1" cy="246.4" r="4.2" fill="#000" stroke="none" stroke-width="0"/>
<circle cx="1862.5" cy="252.6" r="4.2" fill="#000" stroke="none" stroke-width="0"/>
<circle cx="1709.4" cy="252.6" r="4.2" fill="#000" stroke="none" stroke-width="0"/>
<circle cx="1708.5" cy="261.7" r="4.2" fill="#000" stroke="none" stroke-width="0"/>
<circle cx="1739.1" cy="264.8" r="4.2" fill="#000" stroke="none" stroke-width="0"/>
<circle cx="1732.0" cy="270.2" r="4.2" fill="#000" stroke="none" stroke-width="0"/>
<circle cx="1678.0" cy="271.1" r="4.2" fill="#000" stroke="none" stroke-width="0"/>
<circle cx="1691.0" cy="275.6" r="4.2" fill="#000" stroke="none" stroke-width="0"/>
<circle cx="1740.0" cy="277.0" r="4.2" fill="#000" stroke="none" stroke-width="0"/>
<circle cx="1798.1" cy="262.6" r="4.2" fill="#000" stroke="none" stroke-width="0"/>
<circle cx="1792.2" cy="272.4" r="4.2" fill="#000" stroke="none" stroke-width="0"/>
<circle cx="1828.9" cy="266.2" r="4.2" fill="#000" stroke="none" stroke-width="0"/>
<circle cx="1847.1" cy="273.8" r="4.2" fill="#000" stroke="none" stroke-width="0"/>
<circle cx="1785.5" cy="280.1" r="4.2" fill="#000" stroke="none" stroke-width="0"/>
<circle cx="1707.6" cy="282.4" r="4.2" fill="#000" stroke="none" stroke-width="0"/>
<circle cx="1740.5" cy="284.2" r="4.2" fill="#000" stroke="none" stroke-width="0"/>
<circle cx="1698.2" cy="284.2" r="4.2" fill="#000" stroke="none" stroke-width="0"/>
<circle cx="1669.8" cy="284.6" r="4.2" fill="#000" stroke="none" stroke-width="0"/>
<circle cx="1658.6" cy="285.0" r="4.2" fill="#000" stroke="none" stroke-width="0"/>
<circle cx="1655.0" cy="288.2" r="4.2" fill="#000" stroke="none" stroke-width="0"/>
<circle cx="1681.1" cy="287.8" r="4.2" fill="#000" stroke="none" stroke-width="0"/>
<circle cx="1676.6" cy="289.1" r="4.2" fill="#000" stroke="none" stroke-width="0"/>
<circle cx="1766.6" cy="288.2" r="4.2" fill="#000" stroke="none" stroke-width="0"/>
<circle cx="1763.0" cy="293.6" r="4.2" fill="#000" stroke="none" stroke-width="0"/>
<circle cx="1808.0" cy="282.8" r="4.2" fill="#000" stroke="none" stroke-width="0"/>
<circle cx="1803.5" cy="286.0" r="4.2" fill="#000" stroke="none" stroke-width="0"/>
<circle cx="1822.4" cy="288.7" r="4.2" fill="#000" stroke="none" stroke-width="0"/>
<circle cx="1705.4" cy="290.0" r="4.2" fill="#000" stroke="none" stroke-width="0"/>
<circle cx="1713.5" cy="292.7" r="4.2" fill="#000" stroke="none" stroke-width="0"/>
<circle cx="1714.0" cy="294.5" r="4.2" fill="#000" stroke="none" stroke-width="0"/>
<circle cx="1810.7" cy="293.1" r="4.2" fill="#000" stroke="none" stroke-width="0"/>
<circle cx="1813.8" cy="298.6" r="4.2" fill="#000" stroke="none" stroke-width="0"/>
<circle cx="1644.2" cy="295.0" r="4.2" fill="#000" stroke="none" stroke-width="0"/>
<circle cx="1658.6" cy="293.6" r="4.2" fill="#000" stroke="none" stroke-width="0"/>
<circle cx="1686.5" cy="295.8" r="4.2" fill="#000" stroke="none" stroke-width="0"/>
<circle cx="1678.0" cy="298.1" r="4.2" fill="#000" stroke="none" stroke-width="0"/>
<circle cx="1696.0" cy="298.1" r="4.2" fill="#000" stroke="none" stroke-width="0"/>
<circle cx="1739.6" cy="296.3" r="4.2" fill="#000" stroke="none" stroke-width="0"/>
<circle cx="1637.0" cy="301.3" r="4.2" fill="#000" stroke="none" stroke-width="0"/>
<circle cx="1653.2" cy="299.0" r="4.2" fill="#000" stroke="none" stroke-width="0"/>
<circle cx="1647.8" cy="302.6" r="4.2" fill="#000" stroke="none" stroke-width="0"/>
<circle cx="1735.1" cy="303.5" r="4.2" fill="#000" stroke="none" stroke-width="0"/>
<circle cx="1744.1" cy="303.5" r="4.2" fill="#000" stroke="none" stroke-width="0"/>
<circle cx="1804.0" cy="307.6" r="4.2" fill="#000" stroke="none" stroke-width="0"/>
<circle cx="1697.7" cy="307.1" r="4.2" fill="#000" stroke="none" stroke-width="0"/>
<circle cx="1680.2" cy="307.5" r="4.2" fill="#000" stroke="none" stroke-width="0"/>
<circle cx="1664.0" cy="308.0" r="4.2" fill="#000" stroke="none" stroke-width="0"/>
<circle cx="1682.0" cy="308.9" r="4.2" fill="#000" stroke="none" stroke-width="0"/>
<circle cx="1727.9" cy="308.0" r="4.2" fill="#000" stroke="none" stroke-width="0"/>
<circle cx="1736.9" cy="312.0" r="4.2" fill="#000" stroke="none" stroke-width="0"/>
<circle cx="1624.9" cy="313.8" r="4.2" fill="#000" stroke="none" stroke-width="0"/>
<circle cx="1666.7" cy="313.8" r="4.2" fill="#000" stroke="none" stroke-width="0"/>
<circle cx="1644.2" cy="313.8" r="4.2" fill="#000" stroke="none" stroke-width="0"/>
<circle cx="1692.8" cy="313.8" r="4.2" fill="#000" stroke="none" stroke-width="0"/>
<circle cx="1695.5" cy="314.3" r="4.2" fill="#000" stroke="none" stroke-width="0"/>
<circle cx="1646.0" cy="317.9" r="4.2" fill="#000" stroke="none" stroke-width="0"/>
<circle cx="1655.0" cy="317.0" r="4.2" fill="#000" stroke="none" stroke-width="0"/>
<circle cx="1708.6" cy="318.8" r="4.2" fill="#000" stroke="none" stroke-width="0"/>
<circle cx="1722.1" cy="319.7" r="4.2" fill="#000" stroke="none" stroke-width="0"/>
<circle cx="1772.5" cy="316.6" r="4.2" fill="#000" stroke="none" stroke-width="0"/>
<circle cx="1782.4" cy="321.9" r="4.2" fill="#000" stroke="none" stroke-width="0"/>
<circle cx="1790.9" cy="323.7" r="4.2" fill="#000" stroke="none" stroke-width="0"/>
<circle cx="1642.4" cy="315.2" r="4.2" fill="#000" stroke="none" stroke-width="0"/>
<circle cx="1623.5" cy="319.7" r="4.2" fill="#000" stroke="none" stroke-width="0"/>
<circle cx="1622.1" cy="324.2" r="4.2" fill="#000" stroke="none" stroke-width="0"/>
<circle cx="1687.4" cy="321.5" r="4.2" fill="#000" stroke="none" stroke-width="0"/>
<circle cx="1654.1" cy="322.4" r="4.2" fill="#000" stroke="none" stroke-width="0"/>
<circle cx="1650.5" cy="320.6" r="4.2" fill="#000" stroke="none" stroke-width="0"/>
<circle cx="1695.5" cy="324.2" r="4.2" fill="#000" stroke="none" stroke-width="0"/>
<circle cx="1754.9" cy="326.0" r="4.2" fill="#000" stroke="none" stroke-width="0"/>
<circle cx="1748.6" cy="329.2" r="4.2" fill="#000" stroke="none" stroke-width="0"/>
<circle cx="1752.2" cy="331.4" r="4.2" fill="#000" stroke="none" stroke-width="0"/>
<circle cx="1637.0" cy="327.3" r="4.2" fill="#000" stroke="none" stroke-width="0"/>
<circle cx="1639.7" cy="331.4" r="4.2" fill="#000" stroke="none" stroke-width="0"/>
<circle cx="1652.3" cy="328.7" r="4.2" fill="#000" stroke="none" stroke-width="0"/>
<circle cx="1657.7" cy="326.0" r="4.2" fill="#000" stroke="none" stroke-width="0"/>
<circle cx="1662.2" cy="332.3" r="4.2" fill="#000" stroke="none" stroke-width="0"/>
<circle cx="1670.3" cy="328.7" r="4.2" fill="#000" stroke="none" stroke-width="0"/>
<circle cx="1678.4" cy="328.2" r="4.2" fill="#000" stroke="none" stroke-width="0"/>
<circle cx="1685.6" cy="327.8" r="4.2" fill="#000" stroke="none" stroke-width="0"/>
<circle cx="1688.3" cy="330.5" r="4.2" fill="#000" stroke="none" stroke-width="0"/>
<circle cx="1698.2" cy="326.9" r="4.2" fill="#000" stroke="none" stroke-width="0"/>
<circle cx="1701.8" cy="329.6" r="4.2" fill="#000" stroke="none" stroke-width="0"/>
<circle cx="1704.5" cy="333.6" r="4.2" fill="#000" stroke="none" stroke-width="0"/>
<circle cx="1613.6" cy="334.6" r="4.2" fill="#000" stroke="none" stroke-width="0"/>
<circle cx="1629.4" cy="337.7" r="4.2" fill="#000" stroke="none" stroke-width="0"/>
<circle cx="1632.5" cy="335.9" r="4.2" fill="#000" stroke="none" stroke-width="0"/>
<circle cx="1643.3" cy="335.9" r="4.2" fill="#000" stroke="none" stroke-width="0"/>
<circle cx="1673.9" cy="334.1" r="4.2" fill="#000" stroke="none" stroke-width="0"/>
<circle cx="1683.8" cy="334.1" r="4.2" fill="#000" stroke="none" stroke-width="0"/>
<circle cx="1689.2" cy="336.8" r="4.2" fill="#000" stroke="none" stroke-width="0"/>
<circle cx="1777.4" cy="333.2" r="4.2" fill="#000" stroke="none" stroke-width="0"/>
<circle cx="1767.1" cy="338.2" r="4.2" fill="#000" stroke="none" stroke-width="0"/>
<circle cx="1775.2" cy="338.6" r="4.2" fill="#000" stroke="none" stroke-width="0"/>
<circle cx="1723.0" cy="337.2" r="4.2" fill="#000" stroke="none" stroke-width="0"/>
<circle cx="1726.1" cy="339.0" r="4.2" fill="#000" stroke="none" stroke-width="0"/>
<circle cx="1730.6" cy="339.0" r="4.2" fill="#000" stroke="none" stroke-width="0"/>
<circle cx="1607.7" cy="342.2" r="4.2" fill="#000" stroke="none" stroke-width="0"/>
<circle cx="1612.7" cy="344.0" r="4.2" fill="#000" stroke="none" stroke-width="0"/>
<circle cx="1628.0" cy="340.4" r="4.2" fill="#000" stroke="none" stroke-width="0"/>
<circle cx="1635.2" cy="341.3" r="4.2" fill="#000" stroke="none" stroke-width="0"/>
<circle cx="1669.4" cy="339.5" r="4.2" fill="#000" stroke="none" stroke-width="0"/>
<circle cx="1673.0" cy="342.2" r="4.2" fill="#000" stroke="none" stroke-width="0"/>
<circle cx="1684.2" cy="339.5" r="4.2" fill="#000" stroke="none" stroke-width="0"/>
<circle cx="1691.0" cy="341.3" r="4.2" fill="#000" stroke="none" stroke-width="0"/>
<circle cx="1700.0" cy="343.1" r="4.2" fill="#000" stroke="none" stroke-width="0"/>
<circle cx="1712.2" cy="344.0" r="4.2" fill="#000" stroke="none" stroke-width="0"/>
<circle cx="1753.5" cy="344.9" r="4.2" fill="#000" stroke="none" stroke-width="0"/>
<circle cx="1736.9" cy="346.7" r="4.2" fill="#000" stroke="none" stroke-width="0"/>
<circle cx="1578.5" cy="344.0" r="4.2" fill="#000" stroke="none" stroke-width="0"/>
<circle cx="1586.2" cy="348.5" r="4.2" fill="#000" stroke="none" stroke-width="0"/>
<circle cx="1589.3" cy="353.0" r="4.2" fill="#000" stroke="none" stroke-width="0"/>
<circle cx="1576.7" cy="354.4" r="4.2" fill="#000" stroke="none" stroke-width="0"/>
<circle cx="1566.8" cy="354.8" r="4.2" fill="#000" stroke="none" stroke-width="0"/>
<circle cx="1559.2" cy="358.0" r="4.2" fill="#000" stroke="none" stroke-width="0"/>
<circle cx="1569.5" cy="359.8" r="4.2" fill="#000" stroke="none" stroke-width="0"/>
<circle cx="1565.0" cy="362.9" r="4.2" fill="#000" stroke="none" stroke-width="0"/>
<circle cx="1548.8" cy="364.2" r="4.2" fill="#000" stroke="none" stroke-width="0"/>
<circle cx="1539.4" cy="370.6" r="4.2" fill="#000" stroke="none" stroke-width="0"/>
<circle cx="1596.5" cy="356.6" r="4.2" fill="#000" stroke="none" stroke-width="0"/>
<circle cx="1601.0" cy="359.3" r="4.2" fill="#000" stroke="none" stroke-width="0"/>
<circle cx="1593.8" cy="362.0" r="4.2" fill="#000" stroke="none" stroke-width="0"/>
<circle cx="1591.1" cy="365.6" r="4.2" fill="#000" stroke="none" stroke-width="0"/>
<circle cx="1598.3" cy="364.7" r="4.2" fill="#000" stroke="none" stroke-width="0"/>
<circle cx="1609.1" cy="353.9" r="4.2" fill="#000" stroke="none" stroke-width="0"/>
<circle cx="1613.6" cy="347.6" r="4.2" fill="#000" stroke="none" stroke-width="0"/>
<circle cx="1620.8" cy="347.6" r="4.2" fill="#000" stroke="none" stroke-width="0"/>
<circle cx="1626.2" cy="349.4" r="4.2" fill="#000" stroke="none" stroke-width="0"/>
<circle cx="1630.7" cy="353.0" r="4.2" fill="#000" stroke="none" stroke-width="0"/>
<circle cx="1622.6" cy="356.6" r="4.2" fill="#000" stroke="none" stroke-width="0"/>
<circle cx="1628.0" cy="358.4" r="4.2" fill="#000" stroke="none" stroke-width="0"/>
<circle cx="1617.2" cy="362.0" r="4.2" fill="#000" stroke="none" stroke-width="0"/>
<circle cx="1620.8" cy="365.6" r="4.2" fill="#000" stroke="none" stroke-width="0"/>
<circle cx="1702.7" cy="347.6" r="4.2" fill="#000" stroke="none" stroke-width="0"/>
<circle cx="1703.6" cy="353.0" r="4.2" fill="#000" stroke="none" stroke-width="0"/>
<circle cx="1668.5" cy="345.8" r="4.2" fill="#000" stroke="none" stroke-width="0"/>
<circle cx="1669.4" cy="351.2" r="4.2" fill="#000" stroke="none" stroke-width="0"/>
<circle cx="1677.5" cy="352.1" r="4.2" fill="#000" stroke="none" stroke-width="0"/>
<circle cx="1665.8" cy="353.9" r="4.2" fill="#000" stroke="none" stroke-width="0"/>
<circle cx="1674.8" cy="357.5" r="4.2" fill="#000" stroke="none" stroke-width="0"/>
<circle cx="1655.9" cy="355.2" r="4.2" fill="#000" stroke="none" stroke-width="0"/>
<circle cx="1646.0" cy="356.6" r="4.2" fill="#000" stroke="none" stroke-width="0"/>
<circle cx="1641.5" cy="358.4" r="4.2" fill="#000" stroke="none" stroke-width="0"/>
<circle cx="1656.8" cy="360.2" r="4.2" fill="#000" stroke="none" stroke-width="0"/>
<circle cx="1692.4" cy="357.1" r="4.2" fill="#000" stroke="none" stroke-width="0"/>
<circle cx="1707.2" cy="362.0" r="4.2" fill="#000" stroke="none" stroke-width="0"/>
<circle cx="1714.0" cy="367.9" r="4.2" fill="#000" stroke="none" stroke-width="0"/>
<circle cx="1726.6" cy="372.8" r="4.2" fill="#000" stroke="none" stroke-width="0"/>
<circle cx="1569.5" cy="373.2" r="4.2" fill="#000" stroke="none" stroke-width="0"/>
<circle cx="1583.0" cy="371.0" r="4.2" fill="#000" stroke="none" stroke-width="0"/>
<circle cx="1587.5" cy="374.2" r="4.2" fill="#000" stroke="none" stroke-width="0"/>
<circle cx="1585.7" cy="379.1" r="4.2" fill="#000" stroke="none" stroke-width="0"/>
<circle cx="1559.6" cy="381.3" r="4.2" fill="#000" stroke="none" stroke-width="0"/>
<circle cx="1602.8" cy="367.4" r="4.2" fill="#000" stroke="none" stroke-width="0"/>
<circle cx="1608.2" cy="369.2" r="4.2" fill="#000" stroke="none" stroke-width="0"/>
<circle cx="1613.6" cy="372.8" r="4.2" fill="#000" stroke="none" stroke-width="0"/>
<circle cx="1628.0" cy="367.4" r="4.2" fill="#000" stroke="none" stroke-width="0"/>
<circle cx="1631.6" cy="372.8" r="4.2" fill="#000" stroke="none" stroke-width="0"/>
<circle cx="1626.2" cy="378.2" r="4.2" fill="#000" stroke="none" stroke-width="0"/>
<circle cx="1619.0" cy="377.3" r="4.2" fill="#000" stroke="none" stroke-width="0"/>
<circle cx="1611.8" cy="378.2" r="4.2" fill="#000" stroke="none" stroke-width="0"/>
<circle cx="1611.8" cy="384.5" r="4.2" fill="#000" stroke="none" stroke-width="0"/>
<circle cx="1622.6" cy="385.4" r="4.2" fill="#000" stroke="none" stroke-width="0"/>
<circle cx="1618.1" cy="380.0" r="4.2" fill="#000" stroke="none" stroke-width="0"/>
<circle cx="1644.2" cy="374.6" r="4.2" fill="#000" stroke="none" stroke-width="0"/>
<circle cx="1648.7" cy="373.7" r="4.2" fill="#000" stroke="none" stroke-width="0"/>
<circle cx="1642.4" cy="377.3" r="4.2" fill="#000" stroke="none" stroke-width="0"/>
<circle cx="1656.8" cy="372.8" r="4.2" fill="#000" stroke="none" stroke-width="0"/>
<circle cx="1660.4" cy="369.2" r="4.2" fill="#000" stroke="none" stroke-width="0"/>
<circle cx="1665.8" cy="367.4" r="4.2" fill="#000" stroke="none" stroke-width="0"/>
<circle cx="1671.2" cy="371.0" r="4.2" fill="#000" stroke="none" stroke-width="0"/>
<circle cx="1676.6" cy="374.6" r="4.2" fill="#000" stroke="none" stroke-width="0"/>
<circle cx="1666.7" cy="376.4" r="4.2" fill="#000" stroke="none" stroke-width="0"/>
<circle cx="1673.0" cy="379.1" r="4.2" fill="#000" stroke="none" stroke-width="0"/>
<circle cx="1658.6" cy="380.9" r="4.2" fill="#000" stroke="none" stroke-width="0"/>
<circle cx="1682.0" cy="380.0" r="4.2" fill="#000" stroke="none" stroke-width="0"/>
<circle cx="1678.4" cy="380.9" r="4.2" fill="#000" stroke="none" stroke-width="0"/>
<circle cx="1670.3" cy="382.7" r="4.2" fill="#000" stroke="none" stroke-width="0"/>
<circle cx="1646.0" cy="383.6" r="4.2" fill="#000" stroke="none" stroke-width="0"/>
<circle cx="1691.0" cy="383.6" r="4.2" fill="#000" stroke="none" stroke-width="0"/>
<circle cx="1702.7" cy="377.3" r="4.2" fill="#000" stroke="none" stroke-width="0"/>
<circle cx="1706.3" cy="378.2" r="4.2" fill="#000" stroke="none" stroke-width="0"/>
<circle cx="1709.0" cy="374.2" r="4.2" fill="#000" stroke="none" stroke-width="0"/>
<circle cx="1634.3" cy="388.1" r="4.2" fill="#000" stroke="none" stroke-width="0"/>
<circle cx="1635.2" cy="393.5" r="4.2" fill="#000" stroke="none" stroke-width="0"/>
<circle cx="1589.8" cy="389.5" r="4.2" fill="#000" stroke="none" stroke-width="0"/>
<circle cx="1579.0" cy="393.5" r="4.2" fill="#000" stroke="none" stroke-width="0"/>
<circle cx="1623.5" cy="396.2" r="4.2" fill="#000" stroke="none" stroke-width="0"/>
<circle cx="1628.9" cy="401.1" r="4.2" fill="#000" stroke="none" stroke-width="0"/>
<circle cx="1613.6" cy="398.5" r="4.2" fill="#000" stroke="none" stroke-width="0"/>
<circle cx="1607.7" cy="400.2" r="4.2" fill="#000" stroke="none" stroke-width="0"/>
<circle cx="1661.8" cy="394.0" r="4.2" fill="#000" stroke="none" stroke-width="0"/>
<circle cx="1685.2" cy="392.6" r="4.2" fill="#000" stroke="none" stroke-width="0"/>
<circle cx="1694.2" cy="390.8" r="4.2" fill="#000" stroke="none" stroke-width="0"/>
<circle cx="1588.4" cy="406.5" r="4.2" fill="#000" stroke="none" stroke-width="0"/>
<circle cx="1601.0" cy="413.3" r="4.2" fill="#000" stroke="none" stroke-width="0"/>
<circle cx="1544.8" cy="412.4" r="4.2" fill="#000" stroke="none" stroke-width="0"/>
<circle cx="1584.4" cy="418.7" r="4.2" fill="#000" stroke="none" stroke-width="0"/>
<circle cx="1574.0" cy="422.8" r="4.2" fill="#000" stroke="none" stroke-width="0"/>
<circle cx="1565.9" cy="425.5" r="4.2" fill="#000" stroke="none" stroke-width="0"/>
<circle cx="1637.4" cy="419.1" r="4.2" fill="#000" stroke="none" stroke-width="0"/>
<circle cx="1623.5" cy="352.1" r="4.2" fill="#000" stroke="none" stroke-width="0"/>
<circle cx="1625.3" cy="362.0" r="4.2" fill="#000" stroke="none" stroke-width="0"/>
<circle cx="1628.9" cy="362.9" r="4.2" fill="#000" stroke="none" stroke-width="0"/>
<circle cx="1624.4" cy="369.2" r="4.2" fill="#000" stroke="none" stroke-width="0"/>
<circle cx="1621.7" cy="371.9" r="4.2" fill="#000" stroke="none" stroke-width="0"/>
<circle cx="1629.8" cy="380.0" r="4.2" fill="#000" stroke="none" stroke-width="0"/>
<circle cx="1615.4" cy="368.3" r="4.2" fill="#000" stroke="none" stroke-width="0"/>
<circle cx="1610.0" cy="362.9" r="4.2" fill="#000" stroke="none" stroke-width="0"/>
<circle cx="1604.6" cy="362.9" r="4.2" fill="#000" stroke="none" stroke-width="0"/>
<circle cx="1664.0" cy="372.8" r="4.2" fill="#000" stroke="none" stroke-width="0"/>
<circle cx="1668.5" cy="380.0" r="4.2" fill="#000" stroke="none" stroke-width="0"/>
<circle cx="1662.2" cy="377.3" r="4.2" fill="#000" stroke="none" stroke-width="0"/>
<circle cx="1674.8" cy="381.8" r="4.2" fill="#000" stroke="none" stroke-width="0"/>
<circle cx="1654.1" cy="380.0" r="4.2" fill="#000" stroke="none" stroke-width="0"/>
<circle cx="1649.6" cy="326.0" r="4.2" fill="#000" stroke="none" stroke-width="0"/>
<circle cx="1646.9" cy="324.2" r="4.2" fill="#000" stroke="none" stroke-width="0"/>
<circle cx="1653.2" cy="312.5" r="4.2" fill="#000" stroke="none" stroke-width="0"/>
<circle cx="1628.0" cy="345.8" r="4.2" fill="#000" stroke="none" stroke-width="0"/>
<circle cx="1632.5" cy="344.0" r="4.2" fill="#000" stroke="none" stroke-width="0"/>
<circle cx="1618.1" cy="353.0" r="4.2" fill="#000" stroke="none" stroke-width="0"/>
<circle cx="1685.6" cy="334.1" r="4.2" fill="#000" stroke="none" stroke-width="0"/>
<circle cx="1599.2" cy="368.3" r="4.2" fill="#000" stroke="none" stroke-width="0"/>
<circle cx="1896.6" cy="121.8" r="4.2" fill="#000" stroke="none" stroke-width="0"/>
<circle cx="1903.0" cy="167.5" r="4.2" fill="#000" stroke="none" stroke-width="0"/>
<text x="3.6" y="602.1" font-size="46" font-weight="bold" fill="#8a8a8a" style="stroke:#8a8a8a;stroke-width:1.0px" filter="url(#lblblur)">c</text>
<text x="2" y="600.5" font-size="46" font-weight="bold" fill="#000" style="stroke:#000;stroke-width:1.0px">c</text>
<line x1="324.8" y1="586.6" x2="324.8" y2="906.9" stroke="#000" stroke-width="4.3"/>
<line x1="315.5" y1="904.8" x2="616.5" y2="904.8" stroke="#000" stroke-width="4.3"/>
<line x1="315.5" y1="904.8" x2="324.8" y2="904.8" stroke="#000" stroke-width="4"/>
<text x="312.8" y="914.1999999999999" font-size="26.3" text-anchor="end" font-weight="normal" fill="#000">0</text>
<line x1="315.5" y1="841.52" x2="324.8" y2="841.52" stroke="#000" stroke-width="4"/>
<text x="312.8" y="850.92" font-size="26.3" text-anchor="end" font-weight="normal" fill="#000">20</text>
<line x1="315.5" y1="778.24" x2="324.8" y2="778.24" stroke="#000" stroke-width="4"/>
<text x="312.8" y="787.64" font-size="26.3" text-anchor="end" font-weight="normal" fill="#000">40</text>
<line x1="315.5" y1="714.9599999999999" x2="324.8" y2="714.9599999999999" stroke="#000" stroke-width="4"/>
<text x="312.8" y="724.3599999999999" font-size="26.3" text-anchor="end" font-weight="normal" fill="#000">60</text>
<line x1="315.5" y1="651.68" x2="324.8" y2="651.68" stroke="#000" stroke-width="4"/>
<text x="312.8" y="661.0799999999999" font-size="26.3" text-anchor="end" font-weight="normal" fill="#000">80</text>
<line x1="315.5" y1="588.3999999999999" x2="324.8" y2="588.3999999999999" stroke="#000" stroke-width="4"/>
<text x="312.8" y="597.7999999999998" font-size="26.3" text-anchor="end" font-weight="normal" fill="#000">100</text>
<line x1="324.8" y1="904.8" x2="324.8" y2="915.3" stroke="#000" stroke-width="4"/>
<text x="324.8" y="945.3" font-size="26.3" text-anchor="middle" font-weight="normal" fill="#000">0</text>
<line x1="397.1" y1="904.8" x2="397.1" y2="915.3" stroke="#000" stroke-width="4"/>
<text x="397.1" y="945.3" font-size="26.3" text-anchor="middle" font-weight="normal" fill="#000">20</text>
<line x1="469.40000000000003" y1="904.8" x2="469.40000000000003" y2="915.3" stroke="#000" stroke-width="4"/>
<text x="469.40000000000003" y="945.3" font-size="26.3" text-anchor="middle" font-weight="normal" fill="#000">40</text>
<line x1="541.7" y1="904.8" x2="541.7" y2="915.3" stroke="#000" stroke-width="4"/>
<text x="541.7" y="945.3" font-size="26.3" text-anchor="middle" font-weight="normal" fill="#000">60</text>
<line x1="614.0" y1="904.8" x2="614.0" y2="915.3" stroke="#000" stroke-width="4"/>
<text x="614.0" y="945.3" font-size="26.3" text-anchor="middle" font-weight="normal" fill="#000">80</text>
<text x="470" y="980.6" font-size="25.8" text-anchor="middle" font-weight="normal" fill="#000">PRDM1 expression in Tumor</text>
<text x="470" y="1010.4" font-size="26" text-anchor="middle" font-weight="normal" fill="#000">(% of DAB/Hematoxylin staining)</text>
<text x="221.2" y="746" font-size="25.4" text-anchor="middle" font-weight="normal" fill="#000" transform="rotate(-90 221.2 746)">SOX9 expression in Tumor</text>
<text x="253" y="745" font-size="26.2" text-anchor="middle" font-weight="normal" fill="#000" transform="rotate(-90 253 745)">(% of DAB/Hematoxylin staining)</text>
<text x="333" y="615" font-size="26.4" text-anchor="start" font-weight="normal" fill="#000">Pearson r = 0.7470</text>
<line x1="344" y1="904.8" x2="597" y2="656.8" stroke="#a2a2a2" stroke-width="2.3" stroke-dasharray="7 4.6"/>
<circle cx="599.2" cy="588.8" r="5.3" fill="#000" stroke="none" stroke-width="0"/>
<circle cx="582.4" cy="660.8" r="5.3" fill="#000" stroke="none" stroke-width="0"/>
<circle cx="534.4" cy="670.0" r="5.3" fill="#000" stroke="none" stroke-width="0"/>
<circle cx="422.0" cy="751.2" r="5.3" fill="#000" stroke="none" stroke-width="0"/>
<circle cx="490.4" cy="756.8" r="5.3" fill="#000" stroke="none" stroke-width="0"/>
<circle cx="568.8" cy="775.6" r="5.3" fill="#000" stroke="none" stroke-width="0"/>
<circle cx="498.4" cy="784.8" r="5.3" fill="#000" stroke="none" stroke-width="0"/>
<circle cx="422.0" cy="829.2" r="5.3" fill="#000" stroke="none" stroke-width="0"/>
<circle cx="418.0" cy="888.8" r="5.3" fill="#000" stroke="none" stroke-width="0"/>
<circle cx="420.8" cy="904.0" r="5.3" fill="#000" stroke="none" stroke-width="0"/>
<circle cx="327.2" cy="901.2" r="5.3" fill="#000" stroke="none" stroke-width="0"/>
<circle cx="333.2" cy="904.0" r="5.3" fill="#000" stroke="none" stroke-width="0"/>
<text x="340.6" y="1068.6" font-size="29" text-anchor="middle" font-weight="normal" fill="#000">PRDM1</text>
<text x="613.3" y="1068.6" font-size="29.6" text-anchor="middle" font-weight="normal" fill="#000">SOX9</text>
<text x="194.3" y="1209.5" font-size="30.5" text-anchor="middle" font-weight="normal" fill="#000" transform="rotate(-90 194.3 1209.5)">Non-Tumor</text>
<text x="194.3" y="1418" font-size="30.5" text-anchor="middle" font-weight="normal" fill="#000" transform="rotate(-90 194.3 1418)">Tumor</text>
<text x="823.6" y="599.6" font-size="46" font-weight="bold" fill="#8a8a8a" style="stroke:#8a8a8a;stroke-width:1.0px" filter="url(#lblblur)">d</text>
<text x="822" y="598" font-size="46" font-weight="bold" fill="#000" style="stroke:#000;stroke-width:1.0px">d</text>
<text x="1056.3" y="600" font-size="36.8" text-anchor="middle" font-weight="normal" fill="#000">SOX9</text>
<text x="1272.3" y="600" font-size="36" text-anchor="middle" font-weight="normal" fill="#000">PRDM1</text>
<line x1="996.4" y1="653" x2="1114.6" y2="653" stroke="#000" stroke-width="2.8"/>
<line x1="996.4" y1="636.5" x2="996.4" y2="669.5" stroke="#000" stroke-width="2.8"/>
<line x1="1114.6" y1="636.5" x2="1114.6" y2="669.5" stroke="#000" stroke-width="2.8"/>
<text x="1056.5" y="652.5" font-size="33" text-anchor="middle" font-weight="normal" fill="#000" letter-spacing="0">***</text>
<line x1="1198" y1="653" x2="1329.4" y2="653" stroke="#000" stroke-width="2.8"/>
<line x1="1198" y1="636.5" x2="1198" y2="669.5" stroke="#000" stroke-width="2.8"/>
<line x1="1329.4" y1="636.5" x2="1329.4" y2="669.5" stroke="#000" stroke-width="2.8"/>
<text x="1268.6" y="654.5" font-size="33" text-anchor="middle" font-weight="normal" fill="#000" letter-spacing="4.2">***</text>
<line x1="969.3" y1="680" x2="969.3" y2="1051.8" stroke="#222" stroke-width="1.4"/>
<line x1="969.3" y1="1051.8" x2="1378" y2="1051.8" stroke="#222" stroke-width="1.4"/>
<line x1="959.3" y1="1051.8" x2="969.3" y2="1051.8" stroke="#222" stroke-width="1.4"/>
<text transform="translate(953 1061.2) scale(0.92 1)" font-size="26.5" text-anchor="end" font-weight="normal" fill="#000">0</text>
<line x1="959.3" y1="977.4399999999999" x2="969.3" y2="977.4399999999999" stroke="#222" stroke-width="1.4"/>
<text transform="translate(953 986.8399999999999) scale(0.92 1)" font-size="26.5" text-anchor="end" font-weight="normal" fill="#000">20</text>
<line x1="959.3" y1="903.0799999999999" x2="969.3" y2="903.0799999999999" stroke="#222" stroke-width="1.4"/>
<text transform="translate(953 912.4799999999999) scale(0.92 1)" font-size="26.5" text-anchor="end" font-weight="normal" fill="#000">40</text>
<line x1="959.3" y1="828.72" x2="969.3" y2="828.72" stroke="#222" stroke-width="1.4"/>
<text transform="translate(953 838.12) scale(0.92 1)" font-size="26.5" text-anchor="end" font-weight="normal" fill="#000">60</text>
<line x1="959.3" y1="754.3599999999999" x2="969.3" y2="754.3599999999999" stroke="#222" stroke-width="1.4"/>
<text transform="translate(953 763.7599999999999) scale(0.92 1)" font-size="26.5" text-anchor="end" font-weight="normal" fill="#000">80</text>
<line x1="959.3" y1="680.0" x2="969.3" y2="680.0" stroke="#222" stroke-width="1.4"/>
<text transform="translate(953 689.4) scale(0.92 1)" font-size="26.5" text-anchor="end" font-weight="normal" fill="#000">100</text>
<line x1="1019.7" y1="1051.8" x2="1019.7" y2="1061.8" stroke="#222" stroke-width="1.4"/>
<text x="1019.7" y="1091" font-size="29.2" text-anchor="middle" font-weight="normal" fill="#000">Vehicle</text>
<line x1="1121.5" y1="1051.8" x2="1121.5" y2="1061.8" stroke="#222" stroke-width="1.4"/>
<text x="1121.5" y="1091" font-size="29.2" text-anchor="middle" font-weight="normal" fill="#000">RIS-1</text>
<line x1="1223.4" y1="1051.8" x2="1223.4" y2="1061.8" stroke="#222" stroke-width="1.4"/>
<text x="1223.4" y="1091" font-size="29.2" text-anchor="middle" font-weight="normal" fill="#000">Vehicle</text>
<line x1="1325.2" y1="1051.8" x2="1325.2" y2="1061.8" stroke="#222" stroke-width="1.4"/>
<text x="1325.2" y="1091" font-size="29.2" text-anchor="middle" font-weight="normal" fill="#000">RIS-1</text>
<line x1="1020" y1="963" x2="1020" y2="1010" stroke="#000" stroke-width="2.8"/>
<line x1="1020" y1="1016.4" x2="1020" y2="1018.8" stroke="#000" stroke-width="2.8"/>
<line x1="1003.5" y1="963" x2="1036.5" y2="963" stroke="#000" stroke-width="2.8"/>
<line x1="1003.5" y1="1018.8" x2="1036.5" y2="1018.8" stroke="#000" stroke-width="2.8"/>
<rect x="988.70" y="1011.70" width="62.60" height="3.00" fill="#000" stroke="#000" stroke-width="3.4"/>
<line x1="987" y1="1013" x2="1053" y2="1013" stroke="#000" stroke-width="3"/>
<line x1="1121.5" y1="868.3" x2="1121.5" y2="907" stroke="#000" stroke-width="2.8"/>
<line x1="1121.5" y1="953.5" x2="1121.5" y2="965" stroke="#000" stroke-width="2.8"/>
<line x1="1105.0" y1="868.3" x2="1138.0" y2="868.3" stroke="#000" stroke-width="2.8"/>
<line x1="1105.0" y1="965" x2="1138.0" y2="965" stroke="#000" stroke-width="2.8"/>
<rect x="1090.20" y="908.70" width="62.60" height="43.10" fill="#808080" stroke="#000" stroke-width="3.4"/>
<line x1="1088.5" y1="924" x2="1154.5" y2="924" stroke="#000" stroke-width="3"/>
<line x1="1223.4" y1="896.5" x2="1223.4" y2="929.5" stroke="#000" stroke-width="2.8"/>
<line x1="1223.4" y1="1039" x2="1223.4" y2="1050.8" stroke="#000" stroke-width="2.8"/>
<line x1="1206.9" y1="896.5" x2="1239.9" y2="896.5" stroke="#000" stroke-width="2.8"/>
<line x1="1206.9" y1="1050.8" x2="1239.9" y2="1050.8" stroke="#000" stroke-width="2.8"/>
<rect x="1192.10" y="931.20" width="62.60" height="106.10" fill="#d9d9d9" stroke="#000" stroke-width="3.4"/>
<line x1="1190.4" y1="970.8" x2="1256.4" y2="970.8" stroke="#000" stroke-width="3"/>
<line x1="1325" y1="725" x2="1325" y2="826" stroke="#000" stroke-width="2.8"/>
<line x1="1325" y1="934.3" x2="1325" y2="1003.9" stroke="#000" stroke-width="2.8"/>
<line x1="1308.5" y1="725" x2="1341.5" y2="725" stroke="#000" stroke-width="2.8"/>
<line x1="1308.5" y1="1003.9" x2="1341.5" y2="1003.9" stroke="#000" stroke-width="2.8"/>
<rect x="1293.70" y="827.70" width="62.60" height="104.90" fill="#808080" stroke="#000" stroke-width="3.4"/>
<line x1="1292" y1="871.8" x2="1358" y2="871.8" stroke="#000" stroke-width="3"/>
<text x="855" y="866" font-size="30.5" text-anchor="middle" font-weight="normal" fill="#000" transform="rotate(-90 855 866)">DAB expression in Tumor</text>
<text x="892" y="866" font-size="30.6" text-anchor="middle" font-weight="normal" fill="#000" transform="rotate(-90 892 866)">(% of DAB/Hematoxylin staining)</text>
<text x="1581" y="635.4" font-size="29.5" text-anchor="middle" font-weight="normal" fill="#000">SOX9</text>
<text x="1829.6" y="635.4" font-size="29.5" text-anchor="middle" font-weight="normal" fill="#000">PRDM1</text>
<text x="1420.5" y="753.5" font-size="29.5" text-anchor="middle" font-weight="normal" fill="#000" transform="rotate(-90 1420.5 753.5)">vehicle</text>
<text x="1420.5" y="971" font-size="29.5" text-anchor="middle" font-weight="normal" fill="#000" transform="rotate(-90 1420.5 971)">RIS-1</text>
<text x="875.1" y="1157.6" font-size="46" font-weight="bold" fill="#8a8a8a" style="stroke:#8a8a8a;stroke-width:1.0px" filter="url(#lblblur)">e</text>
<text x="873.5" y="1156" font-size="46" font-weight="bold" fill="#000" style="stroke:#000;stroke-width:1.0px">e</text>
<rect x="992.80" y="1134.00" width="55.20" height="25.70" fill="#d9d9d9" stroke="#000" stroke-width="5.6"/>
<text x="1054.5" y="1157.6" font-size="31.3" text-anchor="start" font-weight="normal" fill="#000">Control</text>
<rect x="1171.30" y="1129.00" width="66.20" height="37.00" fill="#000" stroke="none" stroke-width="0"/>
<text x="1240.8" y="1157.6" font-size="30.8" text-anchor="start" font-weight="normal" fill="#000">shPRDM1</text>
<rect x="1017.50" y="1353.66" width="35.60" height="203.24" fill="#d9d9d9" stroke="#000" stroke-width="5.6"/>
<rect x="1079.30" y="1413.23" width="35.30" height="143.67" fill="#000" stroke="#000" stroke-width="5.6"/>
<rect x="1181.10" y="1230.62" width="35.50" height="326.28" fill="#d9d9d9" stroke="#000" stroke-width="5.6"/>
<rect x="1242.40" y="1353.66" width="35.40" height="203.24" fill="#000" stroke="#000" stroke-width="5.6"/>
<line x1="984.1" y1="1163.4" x2="984.1" y2="1559.7" stroke="#000" stroke-width="5.7"/>
<line x1="972" y1="1556.9" x2="1314" y2="1556.9" stroke="#000" stroke-width="5.7"/>
<line x1="972" y1="1556.9" x2="984.1" y2="1556.9" stroke="#000" stroke-width="5.6"/>
<text x="967.5" y="1568.4" font-size="32.3" text-anchor="end" font-weight="normal" fill="#000">0</text>
<line x1="972" y1="1459.25" x2="984.1" y2="1459.25" stroke="#000" stroke-width="5.6"/>
<text x="967.5" y="1470.75" font-size="32.3" text-anchor="end" font-weight="normal" fill="#000">10</text>
<line x1="972" y1="1361.6000000000001" x2="984.1" y2="1361.6000000000001" stroke="#000" stroke-width="5.6"/>
<text x="967.5" y="1373.1000000000001" font-size="32.3" text-anchor="end" font-weight="normal" fill="#000">20</text>
<line x1="972" y1="1263.95" x2="984.1" y2="1263.95" stroke="#000" stroke-width="5.6"/>
<text x="967.5" y="1275.45" font-size="32.3" text-anchor="end" font-weight="normal" fill="#000">30</text>
<line x1="972" y1="1166.3000000000002" x2="984.1" y2="1166.3000000000002" stroke="#000" stroke-width="5.6"/>
<text x="967.5" y="1177.8000000000002" font-size="32.3" text-anchor="end" font-weight="normal" fill="#000">40</text>
<line x1="1065.9" y1="1556.9" x2="1065.9" y2="1569" stroke="#000" stroke-width="5.6"/>
<line x1="1229" y1="1556.9" x2="1229" y2="1569" stroke="#000" stroke-width="5.6"/>
<text x="1066" y="1602.3" font-size="32" text-anchor="middle" font-weight="normal" fill="#000">DMSO</text>
<text x="1229.3" y="1602.3" font-size="32" text-anchor="middle" font-weight="normal" fill="#000">RIS-3</text>
<text x="910.8" y="1358.5" font-size="38" text-anchor="middle" font-weight="normal" fill="#000" transform="rotate(-90 910.8 1358.5)">CD133 (%)</text>
<circle cx="1023.4" cy="1354.2" r="7" fill="none" stroke="#f0821e" stroke-width="3.2"/>
<circle cx="1035.6" cy="1342.0" r="7" fill="none" stroke="#f0821e" stroke-width="3.2"/>
<circle cx="1048.8" cy="1346.8" r="7" fill="none" stroke="#f0821e" stroke-width="3.2"/>
<line x1="1035.3000000000002" y1="1344.6" x2="1035.3000000000002" y2="1352.5" stroke="#000" stroke-width="2.6"/>
<line x1="1025.8000000000002" y1="1344.6" x2="1044.8000000000002" y2="1344.6" stroke="#000" stroke-width="2.8"/>
<line x1="1025.8000000000002" y1="1352.5" x2="1044.8000000000002" y2="1352.5" stroke="#000" stroke-width="2.8"/>
<text x="1035.3000000000002" y="1318.8" font-size="34.5" text-anchor="middle" font-weight="normal" fill="#000">a</text>
<circle cx="1083.3" cy="1412.0" r="7" fill="none" stroke="#f0821e" stroke-width="3.2"/>
<circle cx="1095.8" cy="1407.1" r="7" fill="none" stroke="#f0821e" stroke-width="3.2"/>
<circle cx="1109.7" cy="1409.0" r="7" fill="none" stroke="#f0821e" stroke-width="3.2"/>
<line x1="1096.95" y1="1407.5" x2="1096.95" y2="1410.5" stroke="#000" stroke-width="2.6"/>
<line x1="1087.45" y1="1407.5" x2="1106.45" y2="1407.5" stroke="#000" stroke-width="2.8"/>
<line x1="1087.45" y1="1410.5" x2="1106.45" y2="1410.5" stroke="#000" stroke-width="2.8"/>
<text x="1096.95" y="1393.6" font-size="34.5" text-anchor="middle" font-weight="normal" fill="#000">b</text>
<circle cx="1185.3" cy="1230.1" r="7" fill="none" stroke="#f0821e" stroke-width="3.2"/>
<circle cx="1198.3" cy="1222.0" r="7" fill="none" stroke="#f0821e" stroke-width="3.2"/>
<circle cx="1212.3" cy="1228.0" r="7" fill="none" stroke="#f0821e" stroke-width="3.2"/>
<line x1="1198.85" y1="1224.7" x2="1198.85" y2="1229.5" stroke="#000" stroke-width="2.6"/>
<line x1="1189.35" y1="1224.7" x2="1208.35" y2="1224.7" stroke="#000" stroke-width="2.8"/>
<line x1="1189.35" y1="1229.5" x2="1208.35" y2="1229.5" stroke="#000" stroke-width="2.8"/>
<text x="1198.85" y="1206.3" font-size="34.5" text-anchor="middle" font-weight="normal" fill="#000">c</text>
<circle cx="1247.4" cy="1356.0" r="7" fill="none" stroke="#f0821e" stroke-width="3.2"/>
<circle cx="1260.4" cy="1345.2" r="7" fill="none" stroke="#f0821e" stroke-width="3.2"/>
<circle cx="1272.8" cy="1346.3" r="7" fill="none" stroke="#f0821e" stroke-width="3.2"/>
<line x1="1260.1" y1="1345.2" x2="1260.1" y2="1351.6" stroke="#000" stroke-width="2.6"/>
<line x1="1250.6" y1="1345.2" x2="1269.6" y2="1345.2" stroke="#000" stroke-width="2.8"/>
<line x1="1250.6" y1="1351.6" x2="1269.6" y2="1351.6" stroke="#000" stroke-width="2.8"/>
<text x="1260.1" y="1318.8" font-size="34.5" text-anchor="middle" font-weight="normal" fill="#000">a</text>
<text x="1459.6" y="1158.6" font-size="46" font-weight="bold" fill="#8a8a8a" style="stroke:#8a8a8a;stroke-width:1.0px" filter="url(#lblblur)">f</text>
<text x="1458" y="1157" font-size="46" font-weight="bold" fill="#000" style="stroke:#000;stroke-width:1.0px">f</text>
<rect x="1606.50" y="1106.50" width="55.60" height="36.30" fill="#d9d9d9" stroke="#000" stroke-width="5.4"/>
<text x="1671.5" y="1135.2" font-size="30.5" text-anchor="start" font-weight="normal" fill="#000">Control</text>
<rect x="1778.00" y="1103.60" width="60.40" height="42.00" fill="#000" stroke="none" stroke-width="0"/>
<text x="1846" y="1135.2" font-size="29.9" text-anchor="start" font-weight="normal" fill="#000">shPRDM1</text>
<rect x="1652.70" y="1409.50" width="33.10" height="149.70" fill="#d9d9d9" stroke="#000" stroke-width="5.4"/>
<rect x="1710.70" y="1539.04" width="33.30" height="20.16" fill="#000" stroke="#000" stroke-width="5.4"/>
<rect x="1807.70" y="1240.34" width="33.30" height="318.86" fill="#d9d9d9" stroke="#000" stroke-width="5.4"/>
<rect x="1865.70" y="1502.46" width="33.60" height="56.74" fill="#000" stroke="#000" stroke-width="5.4"/>
<line x1="1620.5" y1="1175.5" x2="1620.5" y2="1561.9" stroke="#000" stroke-width="5.4"/>
<line x1="1608.3" y1="1559.2" x2="1934.5" y2="1559.2" stroke="#000" stroke-width="5.4"/>
<line x1="1608.3" y1="1559.2" x2="1620.5" y2="1559.2" stroke="#000" stroke-width="5.3"/>
<text x="1603.5" y="1570.2" font-size="31" text-anchor="end" font-weight="normal" fill="#000">0.0</text>
<line x1="1608.3" y1="1483.0" x2="1620.5" y2="1483.0" stroke="#000" stroke-width="5.3"/>
<text x="1603.5" y="1494.0" font-size="31" text-anchor="end" font-weight="normal" fill="#000">0.5</text>
<line x1="1608.3" y1="1406.8" x2="1620.5" y2="1406.8" stroke="#000" stroke-width="5.3"/>
<text x="1603.5" y="1417.8" font-size="31" text-anchor="end" font-weight="normal" fill="#000">1.0</text>
<line x1="1608.3" y1="1330.6" x2="1620.5" y2="1330.6" stroke="#000" stroke-width="5.3"/>
<text x="1603.5" y="1341.6" font-size="31" text-anchor="end" font-weight="normal" fill="#000">1.5</text>
<line x1="1608.3" y1="1254.4" x2="1620.5" y2="1254.4" stroke="#000" stroke-width="5.3"/>
<text x="1603.5" y="1265.4" font-size="31" text-anchor="end" font-weight="normal" fill="#000">2.0</text>
<line x1="1608.3" y1="1178.2" x2="1620.5" y2="1178.2" stroke="#000" stroke-width="5.3"/>
<text x="1603.5" y="1189.2" font-size="31" text-anchor="end" font-weight="normal" fill="#000">2.5</text>
<line x1="1697.8" y1="1559.2" x2="1697.8" y2="1571" stroke="#000" stroke-width="5.3"/>
<line x1="1854.6" y1="1559.2" x2="1854.6" y2="1571" stroke="#000" stroke-width="5.3"/>
<text x="1698.2" y="1603.6" font-size="31.8" text-anchor="middle" font-weight="normal" fill="#000">DMSO</text>
<text x="1854.4" y="1603.6" font-size="31.8" text-anchor="middle" font-weight="normal" fill="#000">RIS-3</text>
<text x="1495.5" y="1367.5" font-size="36.7" text-anchor="middle" font-weight="normal" fill="#000" transform="rotate(-90 1495.5 1367.5)">CD133 mRNA</text>
<text x="1540.5" y="1368.5" font-size="35.8" text-anchor="middle" font-weight="normal" fill="#000" transform="rotate(-90 1540.5 1368.5)">(fold change over control)</text>
<circle cx="1657.2" cy="1407.8" r="6.8" fill="none" stroke="#f0821e" stroke-width="3.2"/>
<circle cx="1669.2" cy="1407.8" r="6.8" fill="none" stroke="#f0821e" stroke-width="3.2"/>
<circle cx="1681.2" cy="1407.8" r="6.8" fill="none" stroke="#f0821e" stroke-width="3.2"/>
<line x1="1669.25" y1="1407.3" x2="1669.25" y2="1409.3" stroke="#000" stroke-width="2.6"/>
<line x1="1661.25" y1="1407.3" x2="1677.25" y2="1407.3" stroke="#000" stroke-width="2.8"/>
<line x1="1661.25" y1="1409.3" x2="1677.25" y2="1409.3" stroke="#000" stroke-width="2.8"/>
<text x="1669.25" y="1378.4" font-size="30.5" text-anchor="middle" font-weight="normal" fill="#000">a</text>
<circle cx="1714.8" cy="1537.8" r="6.8" fill="none" stroke="#f0821e" stroke-width="3.2"/>
<circle cx="1727.3" cy="1536.3" r="6.8" fill="none" stroke="#f0821e" stroke-width="3.2"/>
<circle cx="1739.8" cy="1537.3" r="6.8" fill="none" stroke="#f0821e" stroke-width="3.2"/>
<line x1="1727.35" y1="1535.8400000000001" x2="1727.35" y2="1538.8400000000001" stroke="#000" stroke-width="2.6"/>
<line x1="1719.35" y1="1535.8400000000001" x2="1735.35" y2="1535.8400000000001" stroke="#000" stroke-width="2.8"/>
<line x1="1719.35" y1="1538.8400000000001" x2="1735.35" y2="1538.8400000000001" stroke="#000" stroke-width="2.8"/>
<text x="1727.35" y="1517.5" font-size="30.5" text-anchor="middle" font-weight="normal" fill="#000">b</text>
<circle cx="1812.4" cy="1242.6" r="6.8" fill="none" stroke="#f0821e" stroke-width="3.2"/>
<circle cx="1825.0" cy="1227.8" r="6.8" fill="none" stroke="#f0821e" stroke-width="3.2"/>
<circle cx="1837.6" cy="1232.8" r="6.8" fill="none" stroke="#f0821e" stroke-width="3.2"/>
<line x1="1824.35" y1="1229.5" x2="1824.35" y2="1242.5" stroke="#000" stroke-width="2.6"/>
<line x1="1816.35" y1="1229.5" x2="1832.35" y2="1229.5" stroke="#000" stroke-width="2.8"/>
<line x1="1816.35" y1="1242.5" x2="1832.35" y2="1242.5" stroke="#000" stroke-width="2.8"/>
<text x="1824.35" y="1203" font-size="30.5" text-anchor="middle" font-weight="normal" fill="#000">c</text>
<circle cx="1870.0" cy="1501.3" r="6.8" fill="none" stroke="#f0821e" stroke-width="3.2"/>
<circle cx="1882.5" cy="1499.8" r="6.8" fill="none" stroke="#f0821e" stroke-width="3.2"/>
<circle cx="1895.0" cy="1500.8" r="6.8" fill="none" stroke="#f0821e" stroke-width="3.2"/>
<line x1="1882.5" y1="1499.2640000000001" x2="1882.5" y2="1502.2640000000001" stroke="#000" stroke-width="2.6"/>
<line x1="1874.5" y1="1499.2640000000001" x2="1890.5" y2="1499.2640000000001" stroke="#000" stroke-width="2.8"/>
<line x1="1874.5" y1="1502.2640000000001" x2="1890.5" y2="1502.2640000000001" stroke="#000" stroke-width="2.8"/>
<text x="1882.5" y="1487" font-size="30.5" text-anchor="middle" font-weight="normal" fill="#000">d</text>
</svg>
</body></html>
